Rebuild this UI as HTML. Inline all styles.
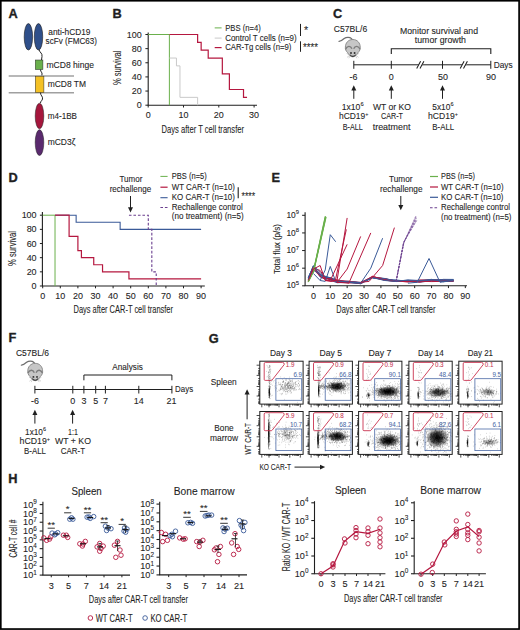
<!DOCTYPE html>
<html><head><meta charset="utf-8"><style>
html,body{margin:0;padding:0;background:#fff;}
body{width:520px;height:630px;overflow:hidden;position:relative;}
svg{position:absolute;left:0;top:0;}
text{font-family:"Liberation Sans",sans-serif;}
</style></head><body>
<svg width="520" height="630" viewBox="0 0 520 630">
<rect x="0" y="0" width="520" height="630" fill="#fff"/>
<g fill="#1f1f1f">
<text x="8.60" y="17.70" font-size="12.77" font-weight="bold" stroke="#1f1f1f" stroke-width="0.35">A</text>
<ellipse cx="28.4" cy="36.8" rx="4.2" ry="13.2" fill="#2f4f8a" stroke="#1c1c1c" stroke-width=".6"/>
<ellipse cx="38.5" cy="36.8" rx="4.2" ry="13.2" fill="#2f4f8a" stroke="#1c1c1c" stroke-width=".6"/>
<path d="M39 49.8 C40 53 42.5 53 42 56.5 L41.5 60" stroke="#222" stroke-width="1.0" fill="none" />
<rect x="35.3" y="60" width="7.6" height="9.6" fill="#6ab04c" stroke="#2a2a2a" stroke-width=".5"/>
<path d="M40.5 69.6 C40.5 72 42.5 72.5 42 74 L41.8 76.2" stroke="#222" stroke-width="1.0" fill="none" />
<line x1="8.70" y1="75.90" x2="74.00" y2="75.90" stroke="#a0a0a0" stroke-width="1.5" />
<line x1="8.70" y1="92.70" x2="74.00" y2="92.70" stroke="#a0a0a0" stroke-width="1.5" />
<rect x="35.3" y="76.2" width="8.6" height="16.4" fill="#f4c125" stroke="#2a2a2a" stroke-width=".5"/>
<path d="M40.5 92.7 C40.5 96 43 96 42.5 99 C42 101 40.5 101 40.5 103" stroke="#222" stroke-width="1.0" fill="none" />
<ellipse cx="39.5" cy="116" rx="4.3" ry="12.8" fill="#a5163c" stroke="#1c1c1c" stroke-width=".5"/>
<ellipse cx="39.5" cy="142.6" rx="4.3" ry="12.9" fill="#5a2a6e" stroke="#1c1c1c" stroke-width=".5"/>
<text x="48.30" y="34.80" font-size="8.62" textLength="42.20" lengthAdjust="spacingAndGlyphs" stroke="#1f1f1f" stroke-width="0.1" >anti-hCD19</text>
<text x="45.60" y="43.80" font-size="8.62" textLength="51.40" lengthAdjust="spacingAndGlyphs" stroke="#1f1f1f" stroke-width="0.1" >scFv (FMC63)</text>
<text x="46.50" y="68.00" font-size="8.62" textLength="47.50" lengthAdjust="spacingAndGlyphs" stroke="#1f1f1f" stroke-width="0.1" >mCD8 hinge</text>
<text x="47.70" y="87.00" font-size="8.62" textLength="38.30" lengthAdjust="spacingAndGlyphs" stroke="#1f1f1f" stroke-width="0.1" >mCD8 TM</text>
<text x="47.70" y="118.50" font-size="8.62" textLength="29.30" lengthAdjust="spacingAndGlyphs" stroke="#1f1f1f" stroke-width="0.1" >m4-1BB</text>
<text x="47.70" y="145.00" font-size="8.62" textLength="27.70" lengthAdjust="spacingAndGlyphs" stroke="#1f1f1f" stroke-width="0.1" >mCD3ζ</text>
<text x="112.50" y="17.90" font-size="12.77" font-weight="bold" stroke="#1f1f1f" stroke-width="0.35">B</text>
<line x1="148.20" y1="32.50" x2="148.20" y2="105.20" stroke="#1f1f1f" stroke-width="1.1" />
<line x1="147.70" y1="105.20" x2="257.00" y2="105.20" stroke="#1f1f1f" stroke-width="1.1" />
<line x1="145.40" y1="105.20" x2="148.20" y2="105.20" stroke="#1f1f1f" stroke-width="1" />
<text x="141.80" y="108.20" font-size="8.96" text-anchor="end" stroke="#1f1f1f" stroke-width="0.1" >0</text>
<line x1="145.40" y1="91.06" x2="148.20" y2="91.06" stroke="#1f1f1f" stroke-width="1" />
<text x="141.80" y="94.06" font-size="8.96" text-anchor="end" stroke="#1f1f1f" stroke-width="0.1" >20</text>
<line x1="145.40" y1="76.92" x2="148.20" y2="76.92" stroke="#1f1f1f" stroke-width="1" />
<text x="141.80" y="79.92" font-size="8.96" text-anchor="end" stroke="#1f1f1f" stroke-width="0.1" >40</text>
<line x1="145.40" y1="62.78" x2="148.20" y2="62.78" stroke="#1f1f1f" stroke-width="1" />
<text x="141.80" y="65.78" font-size="8.96" text-anchor="end" stroke="#1f1f1f" stroke-width="0.1" >60</text>
<line x1="145.40" y1="48.64" x2="148.20" y2="48.64" stroke="#1f1f1f" stroke-width="1" />
<text x="141.80" y="51.64" font-size="8.96" text-anchor="end" stroke="#1f1f1f" stroke-width="0.1" >80</text>
<line x1="145.40" y1="34.50" x2="148.20" y2="34.50" stroke="#1f1f1f" stroke-width="1" />
<text x="141.80" y="37.50" font-size="8.96" text-anchor="end" stroke="#1f1f1f" stroke-width="0.1" >100</text>
<line x1="148.20" y1="105.20" x2="148.20" y2="107.50" stroke="#1f1f1f" stroke-width="1" />
<text x="148.20" y="118.20" font-size="8.96" text-anchor="middle" stroke="#1f1f1f" stroke-width="0.1" >0</text>
<line x1="183.50" y1="105.20" x2="183.50" y2="107.50" stroke="#1f1f1f" stroke-width="1" />
<text x="183.50" y="118.20" font-size="8.96" text-anchor="middle" stroke="#1f1f1f" stroke-width="0.1" >10</text>
<line x1="218.80" y1="105.20" x2="218.80" y2="107.50" stroke="#1f1f1f" stroke-width="1" />
<text x="218.80" y="118.20" font-size="8.96" text-anchor="middle" stroke="#1f1f1f" stroke-width="0.1" >20</text>
<line x1="254.10" y1="105.20" x2="254.10" y2="107.50" stroke="#1f1f1f" stroke-width="1" />
<text x="254.10" y="118.20" font-size="8.96" text-anchor="middle" stroke="#1f1f1f" stroke-width="0.1" >30</text>
<text x="161.60" y="133.00" font-size="10.75" textLength="82.40" lengthAdjust="spacingAndGlyphs" stroke="#1f1f1f" stroke-width="0.1" >Days after T cell transfer</text>
<text x="121.30" y="67.80" font-size="10.08" text-anchor="middle" textLength="34.50" lengthAdjust="spacingAndGlyphs" transform="rotate(-90 121.30 67.80)" stroke="#1f1f1f" stroke-width="0.1" >% survival</text>
<path d="M148.20 34.50 L169.38 34.50 L169.38 105.20" stroke="#6ab04c" stroke-width="1" fill="none" />
<path d="M169.38 58.04 L176.44 58.04 L176.44 65.89 L179.97 65.89 L179.97 97.35 L197.62 97.35 L197.62 105.20" stroke="#c9c9c9" stroke-width="1" fill="none" />
<path d="M169.38 34.50 L197.62 34.50 L197.62 42.35 L201.15 42.35 L201.15 50.20 L208.21 50.20 L208.21 58.04 L222.33 58.04 L222.33 73.81 L229.39 73.81 L229.39 89.50 L243.51 89.50 L243.51 97.35 L247.04 97.35" stroke="#b5173f" stroke-width="1.2" fill="none" />
<line x1="214.70" y1="27.90" x2="221.60" y2="27.90" stroke="#6ab04c" stroke-width="1" />
<line x1="214.70" y1="38.10" x2="221.60" y2="38.10" stroke="#c9c9c9" stroke-width="1" />
<line x1="214.70" y1="47.60" x2="221.60" y2="47.60" stroke="#b5173f" stroke-width="1.2" />
<text x="225.20" y="30.70" font-size="8.62" textLength="35.60" lengthAdjust="spacingAndGlyphs" stroke="#1f1f1f" stroke-width="0.1" >PBS (n=4)</text>
<text x="225.20" y="40.60" font-size="8.62" textLength="71.50" lengthAdjust="spacingAndGlyphs" stroke="#1f1f1f" stroke-width="0.1" >Control T cells (n=9)</text>
<text x="225.20" y="49.90" font-size="8.62" textLength="66.20" lengthAdjust="spacingAndGlyphs" stroke="#1f1f1f" stroke-width="0.1" >CAR-Tg cells (n=9)</text>
<line x1="300.50" y1="23.90" x2="300.50" y2="36.00" stroke="#1f1f1f" stroke-width="1" />
<line x1="300.50" y1="41.30" x2="300.50" y2="51.80" stroke="#1f1f1f" stroke-width="1" />
<text x="304.00" y="34.20" font-size="10.64" stroke="#1f1f1f" stroke-width="0.1" >*</text>
<text x="303.00" y="51.40" font-size="10.64" textLength="15.00" lengthAdjust="spacingAndGlyphs" stroke="#1f1f1f" stroke-width="0.1" >****</text>
<text x="333.00" y="18.30" font-size="12.77" font-weight="bold" stroke="#1f1f1f" stroke-width="0.35">C</text>
<text x="333.80" y="31.80" font-size="8.96" textLength="33.40" lengthAdjust="spacingAndGlyphs" stroke="#1f1f1f" stroke-width="0.1" >C57BL/6</text>
<g transform="translate(352.8 48.25)">
<path d="M-13.8 -6.95 C-12 -6.9 -10 -8.5 -8.6 -9.75 C-6.5 -11.3 -3 -11.3 -1.6 -9.9 C-0.9 -9.2 -0.5 -8.5 -0.3 -7.85" stroke="#6e6e6e" stroke-width="1.3" fill="none" stroke-linecap="round"/>
<path d="M0 -8.75 C4.6 -8.75 7.4 -5.2 7.4 -1.2 C7.6 1 7 2.6 5.2 4.4 C3.8 6.6 2.2 8.6 0 8.6 C-2.2 8.6 -3.8 6.6 -5.2 4.4 C-7 2.6 -7.6 1 -7.4 -1.2 C-7.4 -5.2 -4.6 -8.75 0 -8.75Z" fill="#c6c6c6" stroke="#858585" stroke-width=".9"/>
<path d="M-7.2 1 C-5.8 -2.6 -2.2 -2.8 -0.9 0.6 M7.2 1 C5.8 -2.6 2.2 -2.8 0.9 0.6" stroke="#7c7c7c" stroke-width="1.4" fill="none"/>
<circle cx="-1.8" cy="4.8" r=".95" fill="#2e2e2e"/><circle cx="1.8" cy="4.8" r=".95" fill="#2e2e2e"/>
<path d="M-3 6.5 C-1.6 8.6 1.6 8.6 3 6.5" stroke="#333" stroke-width="1.1" fill="none"/>
<path d="M-3.4 6.4 L-6.2 5.2 M-3.2 7 L-5.8 9.2 M-2.6 7.4 L-4 10 M3.4 6.4 L6.2 5.2 M3.2 7 L5.8 9.2 M2.6 7.4 L4 10" stroke="#b0b0b0" stroke-width=".55" fill="none"/>
</g>
<text x="400.00" y="33.70" font-size="8.96" textLength="78.00" lengthAdjust="spacingAndGlyphs" stroke="#1f1f1f" stroke-width="0.1" >Monitor survival and</text>
<text x="414.80" y="43.30" font-size="8.96" textLength="51.20" lengthAdjust="spacingAndGlyphs" stroke="#1f1f1f" stroke-width="0.1" >tumor growth</text>
<path d="M391.3 54.1 V48.8 H490.8 V54.1" stroke="#1f1f1f" stroke-width="1.1" fill="none" />
<line x1="353.80" y1="64.80" x2="490.80" y2="64.80" stroke="#1f1f1f" stroke-width="1" />
<line x1="353.80" y1="60.80" x2="353.80" y2="68.80" stroke="#1f1f1f" stroke-width="1" />
<line x1="391.30" y1="60.80" x2="391.30" y2="68.80" stroke="#1f1f1f" stroke-width="1" />
<line x1="442.50" y1="60.80" x2="442.50" y2="68.80" stroke="#1f1f1f" stroke-width="1" />
<line x1="490.80" y1="60.80" x2="490.80" y2="68.80" stroke="#1f1f1f" stroke-width="1" />
<path d="M416.70 68.5 L423.90 61.2" stroke="#fff" stroke-width="3" fill="none"/>
<path d="M416.70 68.5 L420.60 61.3 M420.00 68.5 L423.90 61.3" stroke="#1f1f1f" stroke-width="1.05" fill="none" />
<path d="M460.20 68.5 L467.40 61.2" stroke="#fff" stroke-width="3" fill="none"/>
<path d="M460.20 68.5 L464.10 61.3 M463.50 68.5 L467.40 61.3" stroke="#1f1f1f" stroke-width="1.05" fill="none" />
<text x="493.70" y="67.50" font-size="8.96" textLength="19.00" lengthAdjust="spacingAndGlyphs" stroke="#1f1f1f" stroke-width="0.1" >Days</text>
<text x="353.50" y="79.50" font-size="8.96" text-anchor="middle" stroke="#1f1f1f" stroke-width="0.1" >-6</text>
<text x="391.30" y="79.50" font-size="8.96" text-anchor="middle" stroke="#1f1f1f" stroke-width="0.1" >0</text>
<text x="443.00" y="79.50" font-size="8.96" text-anchor="middle" stroke="#1f1f1f" stroke-width="0.1" >50</text>
<text x="491.00" y="79.50" font-size="8.96" text-anchor="middle" stroke="#1f1f1f" stroke-width="0.1" >90</text>
<line x1="353.80" y1="98.80" x2="353.80" y2="88.32" stroke="#1f1f1f" stroke-width="1.0" />
<path d="M351.30 90.40 L353.80 85.20 L356.30 90.40 Z" stroke="none" stroke-width="0" fill="#1f1f1f" />
<line x1="391.30" y1="98.80" x2="391.30" y2="88.32" stroke="#1f1f1f" stroke-width="1.0" />
<path d="M388.80 90.40 L391.30 85.20 L393.80 90.40 Z" stroke="none" stroke-width="0" fill="#1f1f1f" />
<line x1="442.50" y1="98.80" x2="442.50" y2="88.32" stroke="#1f1f1f" stroke-width="1.0" />
<path d="M440.00 90.40 L442.50 85.20 L445.00 90.40 Z" stroke="none" stroke-width="0" fill="#1f1f1f" />
<text stroke="#1f1f1f" stroke-width="0.1" x="341.70" y="109.60" font-size="8.96" textLength="21.90" lengthAdjust="spacingAndGlyphs">1x10<tspan font-size="5.91" dy="-3.4">6</tspan></text>
<text stroke="#1f1f1f" stroke-width="0.1" x="339" y="119.4" font-size="9" textLength="29.4" lengthAdjust="spacingAndGlyphs">hCD19<tspan font-size="5.8" dy="-3.4">+</tspan></text>
<text x="342.80" y="129.60" font-size="8.96" textLength="20.10" lengthAdjust="spacingAndGlyphs" stroke="#1f1f1f" stroke-width="0.1" >B-ALL</text>
<text x="373.00" y="109.60" font-size="8.96" textLength="38.00" lengthAdjust="spacingAndGlyphs" stroke="#1f1f1f" stroke-width="0.1" >WT or KO</text>
<text x="381.00" y="119.40" font-size="8.96" textLength="22.00" lengthAdjust="spacingAndGlyphs" stroke="#1f1f1f" stroke-width="0.1" >CAR-T</text>
<text x="372.70" y="129.60" font-size="8.96" textLength="37.70" lengthAdjust="spacingAndGlyphs" stroke="#1f1f1f" stroke-width="0.1" >treatment</text>
<text stroke="#1f1f1f" stroke-width="0.1" x="432.30" y="109.60" font-size="8.96" textLength="21.20" lengthAdjust="spacingAndGlyphs">5x10<tspan font-size="5.91" dy="-3.4">6</tspan></text>
<text stroke="#1f1f1f" stroke-width="0.1" x="428" y="119.4" font-size="9" textLength="29.9" lengthAdjust="spacingAndGlyphs">hCD19<tspan font-size="5.8" dy="-3.4">+</tspan></text>
<text x="432.30" y="129.60" font-size="8.96" textLength="21.90" lengthAdjust="spacingAndGlyphs" stroke="#1f1f1f" stroke-width="0.1" >B-ALL</text>
<text x="8.50" y="181.60" font-size="12.77" font-weight="bold" stroke="#1f1f1f" stroke-width="0.35">D</text>
<line x1="42.40" y1="212.10" x2="42.40" y2="286.00" stroke="#1f1f1f" stroke-width="1.1" />
<line x1="42.20" y1="286.00" x2="204.80" y2="286.00" stroke="#1f1f1f" stroke-width="1.1" />
<line x1="39.90" y1="286.00" x2="42.70" y2="286.00" stroke="#1f1f1f" stroke-width="1" />
<text x="36.60" y="289.00" font-size="8.96" text-anchor="end" stroke="#1f1f1f" stroke-width="0.1" >0</text>
<line x1="39.90" y1="271.84" x2="42.70" y2="271.84" stroke="#1f1f1f" stroke-width="1" />
<text x="36.60" y="274.84" font-size="8.96" text-anchor="end" stroke="#1f1f1f" stroke-width="0.1" >20</text>
<line x1="39.90" y1="257.68" x2="42.70" y2="257.68" stroke="#1f1f1f" stroke-width="1" />
<text x="36.60" y="260.68" font-size="8.96" text-anchor="end" stroke="#1f1f1f" stroke-width="0.1" >40</text>
<line x1="39.90" y1="243.52" x2="42.70" y2="243.52" stroke="#1f1f1f" stroke-width="1" />
<text x="36.60" y="246.52" font-size="8.96" text-anchor="end" stroke="#1f1f1f" stroke-width="0.1" >60</text>
<line x1="39.90" y1="229.36" x2="42.70" y2="229.36" stroke="#1f1f1f" stroke-width="1" />
<text x="36.60" y="232.36" font-size="8.96" text-anchor="end" stroke="#1f1f1f" stroke-width="0.1" >80</text>
<line x1="39.90" y1="215.20" x2="42.70" y2="215.20" stroke="#1f1f1f" stroke-width="1" />
<text x="36.60" y="218.20" font-size="8.96" text-anchor="end" stroke="#1f1f1f" stroke-width="0.1" >100</text>
<line x1="42.70" y1="286.00" x2="42.70" y2="288.30" stroke="#1f1f1f" stroke-width="1" />
<text x="42.70" y="299.40" font-size="8.96" text-anchor="middle" stroke="#1f1f1f" stroke-width="0.1" >0</text>
<line x1="60.30" y1="286.00" x2="60.30" y2="288.30" stroke="#1f1f1f" stroke-width="1" />
<text x="60.30" y="299.40" font-size="8.96" text-anchor="middle" stroke="#1f1f1f" stroke-width="0.1" >10</text>
<line x1="77.90" y1="286.00" x2="77.90" y2="288.30" stroke="#1f1f1f" stroke-width="1" />
<text x="77.90" y="299.40" font-size="8.96" text-anchor="middle" stroke="#1f1f1f" stroke-width="0.1" >20</text>
<line x1="95.50" y1="286.00" x2="95.50" y2="288.30" stroke="#1f1f1f" stroke-width="1" />
<text x="95.50" y="299.40" font-size="8.96" text-anchor="middle" stroke="#1f1f1f" stroke-width="0.1" >30</text>
<line x1="113.10" y1="286.00" x2="113.10" y2="288.30" stroke="#1f1f1f" stroke-width="1" />
<text x="113.10" y="299.40" font-size="8.96" text-anchor="middle" stroke="#1f1f1f" stroke-width="0.1" >40</text>
<line x1="130.70" y1="286.00" x2="130.70" y2="288.30" stroke="#1f1f1f" stroke-width="1" />
<text x="130.70" y="299.40" font-size="8.96" text-anchor="middle" stroke="#1f1f1f" stroke-width="0.1" >50</text>
<line x1="148.30" y1="286.00" x2="148.30" y2="288.30" stroke="#1f1f1f" stroke-width="1" />
<text x="148.30" y="299.40" font-size="8.96" text-anchor="middle" stroke="#1f1f1f" stroke-width="0.1" >60</text>
<line x1="165.90" y1="286.00" x2="165.90" y2="288.30" stroke="#1f1f1f" stroke-width="1" />
<text x="165.90" y="299.40" font-size="8.96" text-anchor="middle" stroke="#1f1f1f" stroke-width="0.1" >70</text>
<line x1="183.50" y1="286.00" x2="183.50" y2="288.30" stroke="#1f1f1f" stroke-width="1" />
<text x="183.50" y="299.40" font-size="8.96" text-anchor="middle" stroke="#1f1f1f" stroke-width="0.1" >80</text>
<line x1="201.10" y1="286.00" x2="201.10" y2="288.30" stroke="#1f1f1f" stroke-width="1" />
<text x="201.10" y="299.40" font-size="8.96" text-anchor="middle" stroke="#1f1f1f" stroke-width="0.1" >90</text>
<text x="73.50" y="312.70" font-size="10.75" textLength="99.50" lengthAdjust="spacingAndGlyphs" stroke="#1f1f1f" stroke-width="0.1" >Days after CAR-T cell transfer</text>
<text x="15.60" y="248.50" font-size="10.08" text-anchor="middle" textLength="35.00" lengthAdjust="spacingAndGlyphs" transform="rotate(-90 15.60 248.50)" stroke="#1f1f1f" stroke-width="0.1" >% survival</text>
<path d="M42.70 215.20 L55.02 215.20 L55.02 286.00" stroke="#6ab04c" stroke-width="1" fill="none" />
<path d="M55.02 215.20 L76.14 215.20 L76.14 222.28 L120.14 222.28 L120.14 229.36 L201.10 229.36" stroke="#3a5a98" stroke-width="1.1" fill="none" />
<path d="M55.02 215.20 L69.10 215.20 L69.10 236.44 L77.90 236.44 L77.90 250.60 L81.42 250.60 L81.42 257.68 L93.74 257.68 L93.74 264.76 L102.54 264.76 L102.54 271.84 L128.94 271.84 L128.94 278.92 L201.10 278.92" stroke="#b5173f" stroke-width="1.2" fill="none" />
<path d="M128.94 215.20 L148.30 215.20 L148.30 229.36 L151.82 229.36 L151.82 271.84 L156.22 271.84 L156.22 286.00" stroke="#6b3f8f" stroke-width="1.1" fill="none" stroke-dasharray="2.6 1.9"/>
<text x="119.50" y="182.00" font-size="8.51" textLength="22.90" lengthAdjust="spacingAndGlyphs" stroke="#1f1f1f" stroke-width="0.1" >Tumor</text>
<text x="109.70" y="191.80" font-size="8.51" textLength="41.50" lengthAdjust="spacingAndGlyphs" stroke="#1f1f1f" stroke-width="0.1" >rechallenge</text>
<line x1="130.50" y1="196.00" x2="130.50" y2="209.28" stroke="#1f1f1f" stroke-width="1.0" />
<path d="M128.00 207.20 L130.50 212.40 L133.00 207.20 Z" stroke="none" stroke-width="0" fill="#1f1f1f" />
<line x1="160.40" y1="176.40" x2="167.60" y2="176.40" stroke="#6ab04c" stroke-width="1" />
<line x1="160.40" y1="187.20" x2="167.60" y2="187.20" stroke="#b5173f" stroke-width="1.2" />
<line x1="160.40" y1="197.70" x2="167.60" y2="197.70" stroke="#3a5a98" stroke-width="1.1" />
<line x1="160.40" y1="207.50" x2="167.60" y2="207.50" stroke="#6b3f8f" stroke-width="1.1" stroke-dasharray="2.6 1.9"/>
<text x="171.80" y="178.90" font-size="8.51" textLength="35.00" lengthAdjust="spacingAndGlyphs" stroke="#1f1f1f" stroke-width="0.1" >PBS (n=5)</text>
<text x="171.80" y="189.70" font-size="8.51" textLength="63.10" lengthAdjust="spacingAndGlyphs" stroke="#1f1f1f" stroke-width="0.1" >WT CAR-T (n=10)</text>
<text x="171.80" y="200.20" font-size="8.51" textLength="63.10" lengthAdjust="spacingAndGlyphs" stroke="#1f1f1f" stroke-width="0.1" >KO CAR-T (n=10)</text>
<text x="171.80" y="210.30" font-size="8.51" textLength="71.00" lengthAdjust="spacingAndGlyphs" stroke="#1f1f1f" stroke-width="0.1" >Rechallenge control</text>
<text x="171.80" y="219.30" font-size="8.51" textLength="71.90" lengthAdjust="spacingAndGlyphs" stroke="#1f1f1f" stroke-width="0.1" >(no treatment) (n=5)</text>
<line x1="238.20" y1="187.20" x2="238.20" y2="198.30" stroke="#1f1f1f" stroke-width="1.1" />
<text x="241.50" y="199.80" font-size="10.64" textLength="13.70" lengthAdjust="spacingAndGlyphs" stroke="#1f1f1f" stroke-width="0.1" >****</text>
<text x="271.50" y="181.60" font-size="12.77" font-weight="bold" stroke="#1f1f1f" stroke-width="0.35">E</text>
<line x1="305.10" y1="212.30" x2="305.10" y2="285.80" stroke="#1f1f1f" stroke-width="1.1" />
<line x1="304.60" y1="285.80" x2="467.00" y2="285.80" stroke="#1f1f1f" stroke-width="1.1" />
<line x1="302.10" y1="285.80" x2="305.10" y2="285.80" stroke="#1f1f1f" stroke-width="1" />
<text stroke="#1f1f1f" stroke-width="0.1" x="299" y="288.40" font-size="8.9" text-anchor="end" textLength="12.6" lengthAdjust="spacingAndGlyphs">10<tspan font-size="6.2" dy="-3.5">5</tspan></text>
<line x1="302.10" y1="268.18" x2="305.10" y2="268.18" stroke="#1f1f1f" stroke-width="1" />
<text stroke="#1f1f1f" stroke-width="0.1" x="299" y="270.78" font-size="8.9" text-anchor="end" textLength="12.6" lengthAdjust="spacingAndGlyphs">10<tspan font-size="6.2" dy="-3.5">6</tspan></text>
<line x1="302.10" y1="250.55" x2="305.10" y2="250.55" stroke="#1f1f1f" stroke-width="1" />
<text stroke="#1f1f1f" stroke-width="0.1" x="299" y="253.15" font-size="8.9" text-anchor="end" textLength="12.6" lengthAdjust="spacingAndGlyphs">10<tspan font-size="6.2" dy="-3.5">7</tspan></text>
<line x1="302.10" y1="232.93" x2="305.10" y2="232.93" stroke="#1f1f1f" stroke-width="1" />
<text stroke="#1f1f1f" stroke-width="0.1" x="299" y="235.53" font-size="8.9" text-anchor="end" textLength="12.6" lengthAdjust="spacingAndGlyphs">10<tspan font-size="6.2" dy="-3.5">8</tspan></text>
<line x1="302.10" y1="215.30" x2="305.10" y2="215.30" stroke="#1f1f1f" stroke-width="1" />
<text stroke="#1f1f1f" stroke-width="0.1" x="299" y="217.90" font-size="8.9" text-anchor="end" textLength="12.6" lengthAdjust="spacingAndGlyphs">10<tspan font-size="6.2" dy="-3.5">9</tspan></text>
<line x1="313.40" y1="285.80" x2="313.40" y2="288.10" stroke="#1f1f1f" stroke-width="1" />
<text x="313.40" y="298.80" font-size="8.96" text-anchor="middle" stroke="#1f1f1f" stroke-width="0.1" >0</text>
<line x1="330.28" y1="285.80" x2="330.28" y2="288.10" stroke="#1f1f1f" stroke-width="1" />
<text x="330.28" y="298.80" font-size="8.96" text-anchor="middle" stroke="#1f1f1f" stroke-width="0.1" >10</text>
<line x1="347.16" y1="285.80" x2="347.16" y2="288.10" stroke="#1f1f1f" stroke-width="1" />
<text x="347.16" y="298.80" font-size="8.96" text-anchor="middle" stroke="#1f1f1f" stroke-width="0.1" >20</text>
<line x1="364.04" y1="285.80" x2="364.04" y2="288.10" stroke="#1f1f1f" stroke-width="1" />
<text x="364.04" y="298.80" font-size="8.96" text-anchor="middle" stroke="#1f1f1f" stroke-width="0.1" >30</text>
<line x1="380.92" y1="285.80" x2="380.92" y2="288.10" stroke="#1f1f1f" stroke-width="1" />
<text x="380.92" y="298.80" font-size="8.96" text-anchor="middle" stroke="#1f1f1f" stroke-width="0.1" >40</text>
<line x1="397.80" y1="285.80" x2="397.80" y2="288.10" stroke="#1f1f1f" stroke-width="1" />
<text x="397.80" y="298.80" font-size="8.96" text-anchor="middle" stroke="#1f1f1f" stroke-width="0.1" >50</text>
<line x1="414.68" y1="285.80" x2="414.68" y2="288.10" stroke="#1f1f1f" stroke-width="1" />
<text x="414.68" y="298.80" font-size="8.96" text-anchor="middle" stroke="#1f1f1f" stroke-width="0.1" >60</text>
<line x1="431.56" y1="285.80" x2="431.56" y2="288.10" stroke="#1f1f1f" stroke-width="1" />
<text x="431.56" y="298.80" font-size="8.96" text-anchor="middle" stroke="#1f1f1f" stroke-width="0.1" >70</text>
<line x1="448.44" y1="285.80" x2="448.44" y2="288.10" stroke="#1f1f1f" stroke-width="1" />
<text x="448.44" y="298.80" font-size="8.96" text-anchor="middle" stroke="#1f1f1f" stroke-width="0.1" >80</text>
<line x1="465.32" y1="285.80" x2="465.32" y2="288.10" stroke="#1f1f1f" stroke-width="1" />
<text x="465.32" y="298.80" font-size="8.96" text-anchor="middle" stroke="#1f1f1f" stroke-width="0.1" >90</text>
<text x="336.30" y="312.70" font-size="10.75" textLength="99.10" lengthAdjust="spacingAndGlyphs" stroke="#1f1f1f" stroke-width="0.1" >Days after CAR-T cell transfer</text>
<text x="279.80" y="249.00" font-size="9.41" text-anchor="middle" textLength="50.00" lengthAdjust="spacingAndGlyphs" transform="rotate(-90 279.80 249.00)" stroke="#1f1f1f" stroke-width="0.1" >Total flux (p/s)</text>
<text x="389.00" y="182.20" font-size="8.51" textLength="23.50" lengthAdjust="spacingAndGlyphs" stroke="#1f1f1f" stroke-width="0.1" >Tumor</text>
<text x="380.00" y="192.00" font-size="8.51" textLength="42.50" lengthAdjust="spacingAndGlyphs" stroke="#1f1f1f" stroke-width="0.1" >rechallenge</text>
<line x1="400.80" y1="196.00" x2="400.80" y2="207.08" stroke="#1f1f1f" stroke-width="1.0" />
<path d="M398.30 205.00 L400.80 210.20 L403.30 205.00 Z" stroke="none" stroke-width="0" fill="#1f1f1f" />
<line x1="430.00" y1="176.50" x2="438.00" y2="176.50" stroke="#6ab04c" stroke-width="1.2" />
<line x1="430.00" y1="187.00" x2="438.00" y2="187.00" stroke="#b5173f" stroke-width="1.2" />
<line x1="430.00" y1="197.30" x2="438.00" y2="197.30" stroke="#3a5a98" stroke-width="1.2" />
<line x1="430.00" y1="207.80" x2="438.00" y2="207.80" stroke="#6b3f8f" stroke-width="1.1" stroke-dasharray="2.6 1.9"/>
<text x="441.00" y="179.00" font-size="8.51" textLength="34.00" lengthAdjust="spacingAndGlyphs" stroke="#1f1f1f" stroke-width="0.1" >PBS (n=5)</text>
<text x="441.00" y="189.60" font-size="8.51" textLength="62.50" lengthAdjust="spacingAndGlyphs" stroke="#1f1f1f" stroke-width="0.1" >WT CAR-T (n=10)</text>
<text x="441.00" y="199.90" font-size="8.51" textLength="62.50" lengthAdjust="spacingAndGlyphs" stroke="#1f1f1f" stroke-width="0.1" >KO CAR-T (n=10)</text>
<text x="441.00" y="210.30" font-size="8.51" textLength="69.00" lengthAdjust="spacingAndGlyphs" stroke="#1f1f1f" stroke-width="0.1" >Rechallenge control</text>
<text x="441.00" y="219.60" font-size="8.51" textLength="70.50" lengthAdjust="spacingAndGlyphs" stroke="#1f1f1f" stroke-width="0.1" >(no treatment) (n=5)</text>
<path d="M308.34 279.83 L313.40 267.86 L320.15 270.47 L325.22 277.99 L330.28 279.08 L337.03 281.15 L348.85 282.94 L360.66 282.78 L372.48 276.76 L384.30 278.84 L396.11 281.37 L407.93 281.35 L419.74 282.05 L431.56 279.75 L443.38 280.04 L453.50 281.45" stroke="#b5173f" stroke-width="1.0" fill="none" />
<path d="M308.34 277.59 L313.40 265.72 L320.15 272.38 L325.22 277.46 L330.28 280.07 L337.03 282.76 L348.85 282.21 L360.66 283.74 L372.48 277.53 L384.30 280.00 L396.11 281.51 L407.93 280.95 L419.74 281.19 L431.56 279.67 L443.38 280.47 L453.50 279.76" stroke="#3a5a98" stroke-width="1.0" fill="none" />
<path d="M308.34 279.63 L313.40 267.32 L320.15 273.76 L325.22 278.65 L330.28 277.70 L337.03 280.00 L348.85 281.56 L360.66 282.36 L372.48 277.31 L384.30 280.03 L396.11 280.96 L407.93 281.93 L419.74 280.38 L431.56 280.76 L443.38 279.66 L453.50 280.48" stroke="#b5173f" stroke-width="1.0" fill="none" />
<path d="M308.34 277.69 L313.40 266.34 L320.15 276.98 L325.22 278.89 L330.28 277.95 L337.03 281.48 L348.85 281.26 L360.66 283.02 L372.48 277.74 L384.30 279.18 L396.11 279.92 L407.93 281.43 L419.74 282.06 L431.56 280.93 L443.38 279.37 L453.50 279.43" stroke="#3a5a98" stroke-width="1.0" fill="none" />
<path d="M308.34 281.25 L313.40 269.52 L320.15 276.28 L325.22 279.42 L330.28 278.26 L337.03 282.30 L348.85 282.15 L360.66 282.91 L372.48 277.53 L384.30 278.96 L396.11 281.29 L407.93 280.51 L419.74 281.99 L431.56 280.71 L443.38 281.22 L453.50 280.81" stroke="#b5173f" stroke-width="1.0" fill="none" />
<path d="M308.34 277.64 L313.40 266.57 L320.15 274.84 L325.22 276.51 L330.28 279.92 L337.03 281.69 L348.85 281.53 L360.66 282.50 L372.48 277.69 L384.30 278.42 L396.11 281.12 L407.93 281.46 L419.74 280.37 L431.56 280.93 L443.38 281.02 L453.50 281.36" stroke="#3a5a98" stroke-width="1.0" fill="none" />
<path d="M308.34 281.37 L313.40 267.74 L320.15 275.27 L325.22 277.51 L330.28 279.46 L337.03 281.53 L348.85 281.30 L360.66 282.84 L372.48 276.86 L384.30 278.68 L396.11 281.18 L407.93 281.72 L419.74 280.03 L431.56 279.73 L443.38 281.13 L453.50 281.03" stroke="#b5173f" stroke-width="1.0" fill="none" />
<path d="M308.34 278.62 L313.40 265.85 L320.15 275.60 L325.22 276.28 L330.28 278.02 L337.03 281.10 L348.85 282.44 L360.66 283.64 L372.48 277.80 L384.30 278.48 L396.11 281.07 L407.93 280.36 L419.74 281.64 L431.56 279.71 L443.38 280.27 L453.50 280.74" stroke="#3a5a98" stroke-width="1.0" fill="none" />
<path d="M308.34 281.00 L313.40 267.01 L320.15 276.50 L325.22 278.83 L330.28 278.94 L337.03 280.40 L348.85 282.03 L360.66 283.27 L372.48 276.25 L384.30 280.08 L396.11 281.53 L407.93 281.43 L419.74 281.18 L431.56 281.60 L443.38 281.31 L453.50 280.53" stroke="#b5173f" stroke-width="1.0" fill="none" />
<path d="M308.34 279.33 L313.40 270.12 L320.15 274.43 L325.22 276.49 L330.28 277.75 L337.03 280.95 L348.85 281.87 L360.66 282.63 L372.48 277.62 L384.30 280.44 L396.11 281.53 L407.93 279.85 L419.74 280.55 L431.56 279.37 L443.38 281.69 L453.50 279.78" stroke="#3a5a98" stroke-width="1.0" fill="none" />
<path d="M308.34 281.43 L313.40 270.82 L325.22 216.18" stroke="#6ab04c" stroke-width="1.0" fill="none" />
<path d="M308.34 280.99 L313.47 271.04 L325.44 216.45" stroke="#6ab04c" stroke-width="1.0" fill="none" />
<path d="M308.34 281.71 L313.53 271.26 L325.66 216.71" stroke="#6ab04c" stroke-width="1.0" fill="none" />
<path d="M308.34 280.51 L313.60 271.48 L325.88 216.97" stroke="#6ab04c" stroke-width="1.0" fill="none" />
<path d="M308.34 282.14 L313.66 271.70 L326.10 217.24" stroke="#6ab04c" stroke-width="1.0" fill="none" />
<path d="M313.40 273.46 L320.15 280.51 L325.22 269.94 L330.28 234.69 L335.68 241.74" stroke="#3a5a98" stroke-width="1" fill="none" />
<path d="M320.15 280.51 L325.22 281.39 L330.28 266.41 L335.34 280.51 L337.03 282.28" stroke="#3a5a98" stroke-width="1" fill="none" />
<path d="M348.85 282.28 L360.66 283.16 L370.79 268.18 L382.61 238.21" stroke="#3a5a98" stroke-width="1" fill="none" />
<path d="M407.93 283.16 L417.21 282.28 L429.03 258.48 L440.00 282.28 L453.50 280.51" stroke="#3a5a98" stroke-width="1" fill="none" />
<path d="M308.34 280.51 L313.40 269.06 L320.15 265.53 L325.22 280.51" stroke="#b5173f" stroke-width="1" fill="none" />
<path d="M325.22 280.51 L330.28 281.39 L337.03 280.51 L347.16 217.94" stroke="#b5173f" stroke-width="1" fill="none" />
<path d="M330.28 281.39 L335.34 280.51 L346.32 229.40" stroke="#b5173f" stroke-width="1" fill="none" />
<path d="M325.22 280.51 L330.28 280.51 L347.16 244.38" stroke="#b5173f" stroke-width="1" fill="none" />
<path d="M337.03 282.28 L347.16 269.06 L360.66 236.45" stroke="#b5173f" stroke-width="1" fill="none" />
<path d="M337.03 282.28 L348.85 283.16 L370.79 232.93" stroke="#b5173f" stroke-width="1" fill="none" />
<path d="M360.66 282.28 L369.10 281.39 L382.61 265.53 L394.42 227.64" stroke="#b5173f" stroke-width="1" fill="none" />
<path d="M396.11 281.39 L403.23 243.90 L416.05 215.50" stroke="#6b3f8f" stroke-width="0.6" fill="none" stroke-dasharray="2.5 0.8"/>
<path d="M396.11 281.39 L403.47 243.26 L416.21 216.78" stroke="#6b3f8f" stroke-width="0.6" fill="none" stroke-dasharray="2.5 0.8"/>
<path d="M396.11 281.39 L403.71 242.62 L416.37 218.06" stroke="#6b3f8f" stroke-width="0.6" fill="none" stroke-dasharray="2.5 0.8"/>
<path d="M396.11 281.39 L403.95 241.98 L416.53 219.34" stroke="#6b3f8f" stroke-width="0.6" fill="none" stroke-dasharray="2.5 0.8"/>
<path d="M396.11 281.39 L404.19 241.34 L416.69 220.62" stroke="#6b3f8f" stroke-width="0.6" fill="none" stroke-dasharray="2.5 0.8"/>
<text x="8.50" y="342.30" font-size="12.77" font-weight="bold" stroke="#1f1f1f" stroke-width="0.35">F</text>
<text x="15.90" y="356.10" font-size="8.96" textLength="33.20" lengthAdjust="spacingAndGlyphs" stroke="#1f1f1f" stroke-width="0.1" >C57BL/6</text>
<g transform="translate(35.2 372.1)">
<path d="M-13.8 -6.95 C-12 -6.9 -10 -8.5 -8.6 -9.75 C-6.5 -11.3 -3 -11.3 -1.6 -9.9 C-0.9 -9.2 -0.5 -8.5 -0.3 -7.85" stroke="#6e6e6e" stroke-width="1.3" fill="none" stroke-linecap="round"/>
<path d="M0 -8.75 C4.6 -8.75 7.4 -5.2 7.4 -1.2 C7.6 1 7 2.6 5.2 4.4 C3.8 6.6 2.2 8.6 0 8.6 C-2.2 8.6 -3.8 6.6 -5.2 4.4 C-7 2.6 -7.6 1 -7.4 -1.2 C-7.4 -5.2 -4.6 -8.75 0 -8.75Z" fill="#c6c6c6" stroke="#858585" stroke-width=".9"/>
<path d="M-7.2 1 C-5.8 -2.6 -2.2 -2.8 -0.9 0.6 M7.2 1 C5.8 -2.6 2.2 -2.8 0.9 0.6" stroke="#7c7c7c" stroke-width="1.4" fill="none"/>
<circle cx="-1.8" cy="4.8" r=".95" fill="#2e2e2e"/><circle cx="1.8" cy="4.8" r=".95" fill="#2e2e2e"/>
<path d="M-3 6.5 C-1.6 8.6 1.6 8.6 3 6.5" stroke="#333" stroke-width="1.1" fill="none"/>
<path d="M-3.4 6.4 L-6.2 5.2 M-3.2 7 L-5.8 9.2 M-2.6 7.4 L-4 10 M3.4 6.4 L6.2 5.2 M3.2 7 L5.8 9.2 M2.6 7.4 L4 10" stroke="#b0b0b0" stroke-width=".55" fill="none"/>
</g>
<text x="112.30" y="369.70" font-size="8.96" textLength="30.50" lengthAdjust="spacingAndGlyphs" stroke="#1f1f1f" stroke-width="0.1" >Analysis</text>
<path d="M83.9 380.3 V375 H171.9 V380.3" stroke="#1f1f1f" stroke-width="1" fill="none" />
<line x1="34.90" y1="389.50" x2="171.90" y2="389.50" stroke="#1f1f1f" stroke-width="1" />
<line x1="34.90" y1="385.80" x2="34.90" y2="393.50" stroke="#1f1f1f" stroke-width="1" />
<text x="34.90" y="403.80" font-size="8.96" text-anchor="middle" stroke="#1f1f1f" stroke-width="0.1" >-6</text>
<line x1="72.80" y1="385.80" x2="72.80" y2="393.50" stroke="#1f1f1f" stroke-width="1" />
<text x="72.80" y="403.80" font-size="8.96" text-anchor="middle" stroke="#1f1f1f" stroke-width="0.1" >0</text>
<line x1="83.90" y1="385.80" x2="83.90" y2="393.50" stroke="#1f1f1f" stroke-width="1" />
<text x="83.90" y="403.80" font-size="8.96" text-anchor="middle" stroke="#1f1f1f" stroke-width="0.1" >3</text>
<line x1="95.70" y1="385.80" x2="95.70" y2="393.50" stroke="#1f1f1f" stroke-width="1" />
<text x="95.70" y="403.80" font-size="8.96" text-anchor="middle" stroke="#1f1f1f" stroke-width="0.1" >5</text>
<line x1="105.40" y1="385.80" x2="105.40" y2="393.50" stroke="#1f1f1f" stroke-width="1" />
<text x="105.40" y="403.80" font-size="8.96" text-anchor="middle" stroke="#1f1f1f" stroke-width="0.1" >7</text>
<line x1="138.80" y1="385.80" x2="138.80" y2="393.50" stroke="#1f1f1f" stroke-width="1" />
<text x="138.80" y="403.80" font-size="8.96" text-anchor="middle" stroke="#1f1f1f" stroke-width="0.1" >14</text>
<line x1="171.90" y1="385.80" x2="171.90" y2="393.50" stroke="#1f1f1f" stroke-width="1" />
<text x="171.40" y="403.80" font-size="8.96" text-anchor="middle" stroke="#1f1f1f" stroke-width="0.1" >21</text>
<text x="175.10" y="392.30" font-size="8.96" textLength="18.00" lengthAdjust="spacingAndGlyphs" stroke="#1f1f1f" stroke-width="0.1" >Days</text>
<line x1="34.90" y1="423.60" x2="34.90" y2="412.82" stroke="#1f1f1f" stroke-width="1.0" />
<path d="M32.40 414.90 L34.90 409.70 L37.40 414.90 Z" stroke="none" stroke-width="0" fill="#1f1f1f" />
<line x1="72.60" y1="423.60" x2="72.60" y2="412.82" stroke="#1f1f1f" stroke-width="1.0" />
<path d="M70.10 414.90 L72.60 409.70 L75.10 414.90 Z" stroke="none" stroke-width="0" fill="#1f1f1f" />
<text stroke="#1f1f1f" stroke-width="0.1" x="25.10" y="434.60" font-size="8.96" textLength="20.90" lengthAdjust="spacingAndGlyphs">1x10<tspan font-size="5.91" dy="-3.4">6</tspan></text>
<text stroke="#1f1f1f" stroke-width="0.1" x="19.6" y="444.4" font-size="9" textLength="30.5" lengthAdjust="spacingAndGlyphs">hCD19<tspan font-size="5.8" dy="-3.4">+</tspan></text>
<text x="24.00" y="454.20" font-size="8.96" textLength="22.00" lengthAdjust="spacingAndGlyphs" stroke="#1f1f1f" stroke-width="0.1" >B-ALL</text>
<text x="68.10" y="434.60" font-size="8.96" textLength="9.80" lengthAdjust="spacingAndGlyphs" stroke="#1f1f1f" stroke-width="0.1" >1:1</text>
<text x="55.00" y="444.40" font-size="8.96" textLength="36.00" lengthAdjust="spacingAndGlyphs" stroke="#1f1f1f" stroke-width="0.1" >WT + KO</text>
<text x="60.80" y="454.20" font-size="8.96" textLength="24.20" lengthAdjust="spacingAndGlyphs" stroke="#1f1f1f" stroke-width="0.1" >CAR-T</text>
<text x="208.80" y="343.10" font-size="12.77" font-weight="bold" stroke="#1f1f1f" stroke-width="0.35">G</text>
<text x="270.00" y="356.00" font-size="9.41" textLength="21.90" lengthAdjust="spacingAndGlyphs" stroke="#1f1f1f" stroke-width="0.1" >Day 3</text>
<text x="319.50" y="356.00" font-size="9.41" textLength="22.50" lengthAdjust="spacingAndGlyphs" stroke="#1f1f1f" stroke-width="0.1" >Day 5</text>
<text x="368.50" y="356.00" font-size="9.41" textLength="23.00" lengthAdjust="spacingAndGlyphs" stroke="#1f1f1f" stroke-width="0.1" >Day 7</text>
<text x="418.00" y="356.00" font-size="9.41" textLength="25.80" lengthAdjust="spacingAndGlyphs" stroke="#1f1f1f" stroke-width="0.1" >Day 14</text>
<text x="467.70" y="356.00" font-size="9.41" textLength="25.40" lengthAdjust="spacingAndGlyphs" stroke="#1f1f1f" stroke-width="0.1" >Day 21</text>
<text x="210.70" y="385.40" font-size="9.63" textLength="26.00" lengthAdjust="spacingAndGlyphs" stroke="#1f1f1f" stroke-width="0.1" >Spleen</text>
<text x="214.30" y="430.70" font-size="9.63" textLength="19.30" lengthAdjust="spacingAndGlyphs" stroke="#1f1f1f" stroke-width="0.1" >Bone</text>
<text x="210.00" y="440.70" font-size="9.63" textLength="28.10" lengthAdjust="spacingAndGlyphs" stroke="#1f1f1f" stroke-width="0.1" >marrow</text>
<text x="251.00" y="438.75" font-size="9.8" text-anchor="middle" textLength="31.70" lengthAdjust="spacingAndGlyphs" transform="rotate(-90 251.00 438.75)" stroke="#1f1f1f" stroke-width="0.1" >WT CAR-T</text>
<line x1="247.10" y1="419.30" x2="247.10" y2="392.42" stroke="#1f1f1f" stroke-width="1.0" />
<path d="M244.60 394.50 L247.10 389.30 L249.60 394.50 Z" stroke="none" stroke-width="0" fill="#1f1f1f" />
<text x="259.40" y="470.20" font-size="9.8" textLength="31.60" lengthAdjust="spacingAndGlyphs" stroke="#1f1f1f" stroke-width="0.1" >KO CAR-T</text>
<line x1="294.50" y1="467.10" x2="321.00" y2="467.10" stroke="#1f1f1f" stroke-width="1" />
<path d="M320 464.8 L325.2 467.1 L320 469.4 Z" stroke="none" stroke-width="0" fill="#1f1f1f" />
<defs><radialGradient id="bg"><stop offset="0" stop-color="#000" stop-opacity="1"/><stop offset=".45" stop-color="#000" stop-opacity=".75"/><stop offset="1" stop-color="#000" stop-opacity="0"/></radialGradient></defs>
<rect x="259.8" y="361.2" width="43.3" height="42.9" fill="#fff" stroke="#1f1f1f" stroke-width="1"/>
<path d="M256.60 365.20H259.80M258.20 368.35H259.80M258.20 370.45H259.80M258.20 371.71H259.80M258.20 372.76H259.80M258.20 373.60H259.80M258.20 374.23H259.80M256.60 375.40H259.80M258.20 378.55H259.80M258.20 380.65H259.80M258.20 381.91H259.80M258.20 382.96H259.80M258.20 383.80H259.80M258.20 384.43H259.80M256.60 386.50H259.80M258.20 389.65H259.80M258.20 391.75H259.80M258.20 393.01H259.80M258.20 394.06H259.80M258.20 394.90H259.80M258.20 395.53H259.80M256.60 396.00H259.80M258.20 399.15H259.80M258.20 401.25H259.80M258.20 402.51H259.80M258.20 403.56H259.80M261.80 404.10V407.30M264.80 404.10V405.70M266.80 404.10V405.70M268.00 404.10V405.70M269.00 404.10V405.70M269.80 404.10V405.70M270.40 404.10V405.70M269.00 404.10V407.30M272.00 404.10V405.70M274.00 404.10V405.70M275.20 404.10V405.70M276.20 404.10V405.70M277.00 404.10V405.70M277.60 404.10V405.70M279.00 404.10V407.30M282.00 404.10V405.70M284.00 404.10V405.70M285.20 404.10V405.70M286.20 404.10V405.70M287.00 404.10V405.70M287.60 404.10V405.70M289.80 404.10V407.30M292.80 404.10V405.70M294.80 404.10V405.70M296.00 404.10V405.70M297.00 404.10V405.70M297.80 404.10V405.70M298.40 404.10V405.70M300.30 404.10V407.30" stroke="#1f1f1f" stroke-width="0.8" fill="none" />
<ellipse cx="269.30" cy="392.20" rx="1.15" ry="7.70" fill="url(#bg)" opacity="1.00"/>
<path d="M269.19 383.77h.5M268.02 390.26h.5M269.66 389.13h.5M268.02 377.16h.5M270.29 388.49h.5M268.59 379.38h.5M269.81 392.08h.5M268.71 386.45h.5M268.59 378.20h.5M268.89 367.93h.5M270.53 386.94h.5M269.25 389.96h.5M269.23 378.41h.5M268.51 380.18h.5M270.16 393.70h.5M269.80 366.21h.5M268.87 385.64h.5M269.35 388.94h.5M268.28 382.11h.5M268.41 373.90h.5M269.02 365.58h.5M270.16 372.09h.5M270.03 370.97h.5M268.81 380.23h.5M268.89 395.52h.5M270.09 371.95h.5M269.76 379.85h.5M268.05 395.13h.5M268.85 378.27h.5M269.04 369.83h.5M269.91 382.08h.5M268.30 389.38h.5M269.24 397.50h.5M269.66 380.52h.5M269.44 374.56h.5M269.90 386.47h.5M268.84 381.99h.5M270.35 398.59h.5M269.44 380.58h.5M269.37 394.88h.5M269.10 366.61h.5M268.55 375.71h.5M269.62 392.11h.5M269.34 380.66h.5M269.51 366.04h.5M268.91 369.99h.5M268.85 366.80h.5M268.83 386.62h.5M269.83 387.47h.5M267.88 388.47h.5M268.93 371.98h.5M269.36 365.57h.5M269.22 381.25h.5M268.93 374.46h.5M269.06 376.96h.5M268.61 386.09h.5M268.47 390.91h.5M269.96 396.01h.5M270.18 368.17h.5M268.91 369.62h.5M268.37 380.62h.5M268.37 378.01h.5M270.08 384.54h.5M268.56 397.30h.5M269.06 380.97h.5M268.97 389.75h.5M268.70 393.02h.5M268.56 372.45h.5M270.94 395.80h.5M269.10 383.46h.5M268.74 392.09h.5M270.49 394.30h.5M269.86 377.05h.5M269.62 383.91h.5M269.16 391.32h.5M269.31 392.71h.5M269.41 367.38h.5M268.95 376.59h.5M269.52 391.99h.5M269.56 382.76h.5M269.79 389.80h.5M268.53 397.36h.5M269.54 381.95h.5M269.22 372.73h.5M269.06 383.11h.5M270.24 386.92h.5M269.73 382.97h.5M268.66 375.80h.5M270.03 378.16h.5M268.24 372.28h.5M270.02 394.13h.5M269.16 384.68h.5M268.61 372.03h.5M269.14 385.78h.5M270.01 366.14h.5M269.16 378.82h.5M268.66 392.44h.5M269.03 388.69h.5M268.70 367.44h.5M269.15 397.73h.5M269.22 396.60h.5M269.97 369.52h.5M266.78 376.92h.5M270.68 369.87h.5M268.90 376.17h.5M266.78 365.51h.5M271.09 379.52h.5M270.28 373.67h.5M269.63 380.74h.5M268.68 377.41h.5M268.78 371.59h.5M269.21 370.66h.5M268.16 372.95h.5M269.89 379.02h.5M267.96 375.08h.5M267.72 376.38h.5M269.84 376.05h.5M267.85 367.96h.5M266.42 371.39h.5M267.04 366.84h.5M289.08 391.69h.5M292.17 379.69h.5M286.47 388.93h.5M291.27 385.22h.5M298.55 386.23h.5M290.64 388.12h.5M287.64 383.77h.5M295.87 389.87h.5M280.49 389.06h.5M291.73 388.68h.5M287.83 385.73h.5M290.47 391.06h.5M299.24 381.72h.5M292.60 388.90h.5M288.50 382.40h.5M286.94 384.34h.5M290.32 386.97h.5M294.30 387.27h.5M281.81 385.90h.5M290.11 387.98h.5M290.91 392.36h.5M299.50 385.84h.5M289.66 386.96h.5M293.46 385.20h.5M288.61 383.38h.5M282.37 387.12h.5M282.13 388.20h.5M295.87 386.73h.5M289.95 384.57h.5M280.42 387.84h.5M285.50 387.52h.5M291.22 389.71h.5M298.62 386.98h.5M290.67 381.42h.5M292.67 382.73h.5M282.67 388.82h.5M274.11 386.05h.5M289.49 383.90h.5M295.14 383.42h.5M289.79 380.33h.5M279.46 390.23h.5M293.75 382.82h.5M289.11 380.72h.5M281.62 389.25h.5M292.29 387.59h.5M287.49 386.39h.5M283.85 390.01h.5M285.64 384.61h.5M295.09 384.63h.5M284.39 390.43h.5M282.67 384.58h.5M271.97 395.30h.5M283.38 382.30h.5M289.22 377.09h.5M294.97 386.95h.5M287.93 383.76h.5M286.90 386.92h.5M289.81 389.32h.5M291.27 387.75h.5M293.39 383.97h.5M275.28 385.88h.5M273.50 381.84h.5M282.37 381.72h.5M294.13 388.35h.5M288.29 385.30h.5M290.85 385.47h.5M285.23 386.65h.5M281.40 386.43h.5M299.33 389.16h.5M282.88 388.23h.5M284.34 384.48h.5M286.59 390.99h.5M284.45 385.30h.5M287.34 383.60h.5M291.90 386.52h.5M290.99 386.81h.5M288.34 383.02h.5M294.78 383.01h.5M290.02 385.86h.5M292.55 384.34h.5M275.02 387.54h.5M288.44 390.31h.5M295.52 384.27h.5M274.73 388.11h.5M290.94 382.20h.5M293.39 389.36h.5M284.99 386.91h.5M293.94 387.60h.5M292.00 388.81h.5M285.51 383.13h.5M287.70 390.65h.5M280.69 389.07h.5M271.31 384.10h.5M295.90 384.72h.5M288.38 387.92h.5M294.97 382.69h.5M284.90 384.10h.5M287.19 391.27h.5M282.12 384.55h.5M282.65 382.20h.5M289.58 388.62h.5M299.12 385.37h.5M289.22 385.65h.5M291.85 387.28h.5M282.03 388.39h.5M293.15 388.77h.5M290.09 386.92h.5M285.40 382.57h.5M284.95 383.96h.5M284.83 386.60h.5M283.66 390.84h.5M289.23 385.20h.5M294.78 390.41h.5M282.16 382.34h.5M289.39 389.68h.5M287.74 392.31h.5M283.30 389.82h.5M292.58 386.10h.5M280.38 384.66h.5M292.80 384.64h.5M286.68 387.39h.5M289.62 385.36h.5M293.73 388.42h.5M280.71 386.78h.5M285.61 391.74h.5M291.24 387.35h.5M287.13 385.14h.5M285.56 391.30h.5M286.81 383.77h.5M291.10 388.73h.5M287.49 383.18h.5M293.96 389.79h.5M278.15 383.18h.5M298.38 383.61h.5M279.95 388.56h.5M286.74 389.02h.5M278.86 390.85h.5M291.15 384.77h.5M285.15 388.70h.5M284.95 388.81h.5M285.72 387.71h.5M280.06 384.00h.5M279.09 384.72h.5M285.35 385.51h.5M288.77 379.50h.5M287.99 386.99h.5M282.03 385.89h.5M276.45 382.76h.5M283.00 381.45h.5M293.93 387.93h.5M288.69 384.96h.5M295.25 388.95h.5M289.88 385.48h.5M286.36 384.93h.5M288.01 381.53h.5M288.30 388.63h.5M288.78 382.31h.5M288.66 383.01h.5M281.38 393.68h.5M285.49 382.90h.5M280.51 385.07h.5M285.34 379.23h.5M280.36 389.59h.5M283.35 380.70h.5M291.43 380.43h.5M297.73 380.95h.5M284.36 383.20h.5M285.99 380.54h.5M283.64 387.93h.5M293.14 390.61h.5M293.00 386.12h.5M289.86 388.24h.5M284.54 387.55h.5M289.90 386.08h.5M287.32 387.82h.5M283.08 381.73h.5M288.96 387.37h.5M281.86 387.42h.5M289.33 385.82h.5M290.65 387.63h.5M288.94 388.67h.5M286.84 381.96h.5M288.72 388.38h.5M287.61 388.29h.5M288.40 383.45h.5M279.49 384.48h.5M284.39 386.63h.5M296.54 381.55h.5M284.79 389.78h.5M293.68 385.29h.5M288.49 387.34h.5M296.62 384.38h.5M283.65 388.97h.5M284.25 386.04h.5M295.43 386.00h.5M288.26 386.79h.5M283.50 386.84h.5M290.47 381.31h.5M285.92 385.11h.5M290.61 388.72h.5M287.61 392.94h.5M281.19 385.82h.5M292.09 386.19h.5M285.44 385.89h.5M288.23 386.13h.5M292.36 380.55h.5M289.10 385.07h.5M287.22 391.50h.5M292.84 388.46h.5M276.09 387.91h.5M279.84 382.93h.5M285.31 391.80h.5M278.63 389.97h.5M295.99 389.64h.5M289.80 390.29h.5M285.34 385.99h.5M290.31 383.82h.5M287.47 387.52h.5M286.30 389.78h.5M287.18 383.26h.5M287.30 384.86h.5M283.86 388.57h.5M297.31 385.02h.5M287.76 385.87h.5M282.62 389.92h.5M288.70 390.54h.5M287.51 386.42h.5M297.06 385.99h.5M290.04 390.70h.5M286.99 389.40h.5M284.16 385.61h.5M285.62 389.11h.5M286.30 384.10h.5M290.68 391.39h.5M282.50 393.28h.5M280.87 384.26h.5M283.65 391.68h.5M290.48 387.30h.5M294.38 389.08h.5M287.39 384.29h.5M280.49 389.92h.5M286.40 385.51h.5M288.62 388.21h.5M291.80 388.67h.5M298.20 389.58h.5M282.89 388.05h.5M283.12 381.80h.5M290.31 383.36h.5M285.70 389.27h.5M293.19 386.62h.5M283.86 377.41h.5M289.99 381.60h.5M287.46 385.90h.5M285.99 388.94h.5M286.83 385.03h.5M283.96 389.04h.5M290.42 380.32h.5M285.98 385.05h.5M289.31 379.21h.5M278.19 384.63h.5M281.22 386.29h.5M280.17 369.12h.5M272.00 385.34h.5M289.25 382.88h.5M298.09 383.44h.5M287.41 388.67h.5M286.60 394.16h.5M283.58 381.23h.5M293.89 383.85h.5M281.69 387.01h.5M290.99 385.76h.5M295.48 382.04h.5M275.49 383.44h.5M284.42 399.39h.5M282.50 384.47h.5M289.56 381.88h.5M291.53 383.61h.5M271.02 381.26h.5M290.67 393.25h.5M288.24 387.01h.5M297.48 402.30h.5M298.45 383.03h.5M281.44 394.67h.5M285.52 380.43h.5M272.59 380.39h.5M292.17 386.71h.5M281.30 386.97h.5M277.37 391.40h.5M291.23 392.75h.5M285.20 394.05h.5M279.84 393.78h.5M299.24 388.41h.5M300.19 398.28h.5M278.00 382.32h.5M275.51 390.73h.5M280.56 376.92h.5M286.31 379.38h.5M291.86 381.44h.5M275.56 389.43h.5M295.30 382.19h.5M276.74 385.30h.5M292.73 383.31h.5M299.83 389.55h.5M298.02 380.58h.5M273.91 380.54h.5M282.13 393.88h.5M290.40 387.61h.5M276.15 388.62h.5M283.86 387.48h.5M282.47 379.40h.5M286.72 391.42h.5M280.97 388.99h.5M299.23 384.44h.5M292.49 381.63h.5M288.37 382.30h.5M285.95 378.54h.5" stroke="#000" stroke-width=".6" stroke-opacity=".5" fill="none"/>
<path d="M264.20 363.80 Q264.20 362.40 265.60 362.40 L282.60 362.40 Q284.40 362.40 284.20 364.60 L272.20 379.90 Q271.80 380.40 271.00 380.40 L265.20 380.40 Q264.20 380.40 264.20 379.40 Z" stroke="#c8324f" stroke-width="0.9" fill="none" stroke-linejoin="round"/>
<rect x="275.90" y="378.70" width="25.8" height="21.6" fill="none" stroke="#4b6aa6" stroke-width=".8"/>
<text x="285.80" y="367.20" font-size="6.27" fill="#c8324f" stroke="#c8324f" stroke-width="0.05">1.9</text>
<text x="302.10" y="376.80" font-size="6.27" text-anchor="end" fill="#4b6aa6" stroke="#4b6aa6" stroke-width="0.05">6.9</text>
<rect x="309.1" y="361.2" width="43.3" height="42.9" fill="#fff" stroke="#1f1f1f" stroke-width="1"/>
<path d="M305.90 365.20H309.10M307.50 368.35H309.10M307.50 370.45H309.10M307.50 371.71H309.10M307.50 372.76H309.10M307.50 373.60H309.10M307.50 374.23H309.10M305.90 375.40H309.10M307.50 378.55H309.10M307.50 380.65H309.10M307.50 381.91H309.10M307.50 382.96H309.10M307.50 383.80H309.10M307.50 384.43H309.10M305.90 386.50H309.10M307.50 389.65H309.10M307.50 391.75H309.10M307.50 393.01H309.10M307.50 394.06H309.10M307.50 394.90H309.10M307.50 395.53H309.10M305.90 396.00H309.10M307.50 399.15H309.10M307.50 401.25H309.10M307.50 402.51H309.10M307.50 403.56H309.10M311.10 404.10V407.30M314.10 404.10V405.70M316.10 404.10V405.70M317.30 404.10V405.70M318.30 404.10V405.70M319.10 404.10V405.70M319.70 404.10V405.70M318.30 404.10V407.30M321.30 404.10V405.70M323.30 404.10V405.70M324.50 404.10V405.70M325.50 404.10V405.70M326.30 404.10V405.70M326.90 404.10V405.70M328.30 404.10V407.30M331.30 404.10V405.70M333.30 404.10V405.70M334.50 404.10V405.70M335.50 404.10V405.70M336.30 404.10V405.70M336.90 404.10V405.70M339.10 404.10V407.30M342.10 404.10V405.70M344.10 404.10V405.70M345.30 404.10V405.70M346.30 404.10V405.70M347.10 404.10V405.70M347.70 404.10V405.70M349.60 404.10V407.30" stroke="#1f1f1f" stroke-width="0.8" fill="none" />
<ellipse cx="318.70" cy="390.00" rx="1.15" ry="7.92" fill="url(#bg)" opacity="1.00"/>
<ellipse cx="337.10" cy="386.50" rx="8.50" ry="4.42" fill="url(#bg)" opacity="0.9"/>
<path d="M319.57 394.21h.5M319.32 370.04h.5M318.72 382.87h.5M318.69 373.76h.5M318.60 375.48h.5M318.89 393.95h.5M318.25 391.48h.5M319.04 384.35h.5M319.96 367.62h.5M318.95 375.74h.5M320.21 381.65h.5M318.03 380.85h.5M318.32 372.60h.5M320.00 394.00h.5M318.99 372.26h.5M318.22 380.85h.5M320.13 371.53h.5M317.35 372.46h.5M319.14 385.80h.5M319.85 367.75h.5M318.62 369.49h.5M318.19 394.11h.5M318.63 393.16h.5M318.39 387.77h.5M318.47 395.27h.5M318.78 373.12h.5M318.60 375.72h.5M318.32 371.81h.5M318.16 373.50h.5M317.79 377.75h.5M319.30 386.72h.5M318.17 373.30h.5M319.50 375.53h.5M318.30 374.78h.5M320.15 386.04h.5M319.62 379.85h.5M318.52 382.58h.5M318.66 384.79h.5M318.69 375.02h.5M319.78 368.90h.5M318.72 375.04h.5M318.25 374.85h.5M319.20 383.19h.5M319.88 396.82h.5M317.73 367.24h.5M318.94 378.13h.5M318.32 395.01h.5M318.70 383.44h.5M318.14 386.19h.5M319.38 390.47h.5M317.54 382.22h.5M318.66 387.41h.5M319.05 382.34h.5M318.59 390.37h.5M318.36 371.32h.5M318.42 379.85h.5M318.94 390.16h.5M317.67 373.51h.5M318.84 381.36h.5M319.48 381.67h.5M317.92 367.30h.5M318.16 383.95h.5M318.85 393.26h.5M319.01 366.75h.5M318.11 381.58h.5M318.96 374.35h.5M319.88 390.95h.5M319.28 383.84h.5M318.81 383.04h.5M318.27 370.73h.5M319.20 375.84h.5M318.84 385.46h.5M318.63 382.49h.5M319.50 368.94h.5M318.92 391.64h.5M319.11 371.15h.5M319.21 387.61h.5M317.78 368.10h.5M318.42 378.93h.5M319.02 396.29h.5M317.69 367.51h.5M318.77 396.77h.5M317.75 370.68h.5M318.97 367.42h.5M318.96 373.66h.5M318.49 378.38h.5M318.49 375.44h.5M318.81 367.26h.5M318.78 397.08h.5M317.73 373.33h.5M318.28 374.05h.5M318.56 380.51h.5M318.34 395.11h.5M319.63 380.02h.5M318.36 378.12h.5M318.98 372.18h.5M318.18 368.94h.5M320.53 377.60h.5M317.09 377.41h.5M317.51 365.67h.5M320.40 366.80h.5M320.38 374.20h.5M319.95 375.76h.5M320.33 374.94h.5M319.47 374.44h.5M320.24 371.24h.5M320.12 380.73h.5M318.51 375.40h.5M317.83 371.76h.5M318.99 371.49h.5M317.27 373.05h.5M321.65 386.81h.5M322.77 383.66h.5M329.11 388.76h.5M322.86 385.91h.5M332.21 387.21h.5M324.14 386.75h.5M331.80 383.95h.5M319.39 385.81h.5M320.26 387.92h.5M331.45 385.25h.5M326.37 388.94h.5M319.87 385.57h.5M319.67 387.23h.5M321.21 386.16h.5M323.47 386.27h.5M325.04 385.67h.5M328.99 386.26h.5M322.75 386.14h.5M321.16 384.16h.5M321.97 386.02h.5M324.77 388.98h.5M324.51 387.26h.5M323.19 385.65h.5M323.93 386.60h.5M319.44 386.95h.5M327.93 383.84h.5M332.76 385.33h.5M323.27 384.78h.5M322.13 383.35h.5M328.75 384.51h.5M331.26 383.05h.5M322.38 386.03h.5M325.09 385.99h.5M324.59 387.96h.5M323.69 387.08h.5M326.06 386.32h.5M324.73 387.42h.5M325.75 387.68h.5M322.46 388.55h.5M320.40 385.59h.5M321.21 387.90h.5M327.26 385.89h.5M328.90 384.56h.5M319.42 385.32h.5M319.98 387.46h.5M324.76 388.26h.5M327.30 387.13h.5M325.67 385.94h.5M319.43 387.59h.5M323.96 388.11h.5M322.77 385.20h.5M328.45 387.20h.5M327.71 388.16h.5M332.47 385.14h.5M332.29 388.09h.5M329.90 384.95h.5M324.85 384.90h.5M324.92 386.01h.5M331.42 389.47h.5M324.45 386.88h.5M321.00 386.26h.5M326.20 385.96h.5M332.78 387.91h.5M321.20 386.91h.5M328.62 387.58h.5M322.38 388.50h.5M324.61 386.51h.5M322.45 384.18h.5M326.77 386.59h.5M327.84 383.70h.5M332.66 385.38h.5M323.77 384.60h.5M323.49 389.24h.5M329.12 385.68h.5M332.59 384.20h.5M330.64 387.70h.5M325.97 388.38h.5M326.99 385.60h.5M329.59 387.46h.5M326.58 386.60h.5M323.65 387.71h.5M321.59 385.67h.5M319.99 386.43h.5M320.06 388.50h.5M320.68 388.00h.5M325.42 386.75h.5M321.38 384.69h.5M331.23 386.86h.5M322.65 386.11h.5M326.20 386.96h.5M329.12 384.97h.5M322.63 386.20h.5M323.77 385.11h.5M329.73 388.15h.5M327.04 383.99h.5M324.99 385.90h.5M330.73 384.35h.5M330.32 387.60h.5M328.47 387.60h.5M322.33 386.61h.5M327.30 386.74h.5M332.27 387.34h.5M328.73 386.34h.5M324.97 385.41h.5M332.17 385.32h.5M332.94 388.91h.5M320.76 387.26h.5M319.69 385.92h.5M333.01 389.03h.5M320.78 386.32h.5M326.70 386.82h.5M325.86 385.54h.5M330.31 387.48h.5M330.84 386.16h.5M327.75 388.06h.5M329.82 388.08h.5M328.82 386.31h.5M326.74 386.78h.5M321.55 385.64h.5M320.60 387.61h.5M335.40 385.06h.5M337.31 386.25h.5M338.07 385.04h.5M335.87 384.88h.5M333.98 386.96h.5M343.35 385.02h.5M340.28 387.49h.5M337.73 388.42h.5M334.14 388.10h.5M338.75 376.76h.5M339.06 388.20h.5M347.66 383.55h.5M337.66 387.51h.5M331.93 389.88h.5M339.56 384.29h.5M330.70 385.35h.5M349.92 392.56h.5M323.81 381.42h.5M340.74 386.22h.5M333.72 388.21h.5M337.66 387.33h.5M338.57 383.47h.5M344.23 385.23h.5M343.25 388.46h.5M337.35 386.91h.5M336.89 381.36h.5M335.39 387.72h.5M328.45 382.34h.5M342.96 388.79h.5M328.80 387.81h.5M336.88 389.26h.5M335.39 385.90h.5M333.09 387.03h.5M336.46 384.68h.5M335.27 384.40h.5M340.51 383.62h.5M328.73 383.81h.5M342.99 385.09h.5M340.63 388.59h.5M334.38 388.64h.5M339.87 386.40h.5M333.32 386.35h.5M330.19 385.74h.5M333.99 387.75h.5M338.98 384.71h.5M341.82 389.87h.5M337.49 384.43h.5M339.86 379.64h.5M333.96 388.16h.5M347.98 384.44h.5M345.41 393.08h.5M347.35 379.86h.5M343.10 387.06h.5M342.63 386.01h.5M333.79 385.87h.5M345.28 388.89h.5M335.53 387.59h.5M341.83 388.12h.5M336.89 384.65h.5M333.08 385.28h.5M334.11 382.05h.5M329.43 388.99h.5M331.02 382.80h.5M336.88 390.61h.5M343.99 385.34h.5M331.48 384.99h.5M332.16 384.95h.5M339.74 383.49h.5M332.86 385.77h.5M336.97 384.33h.5M332.81 383.30h.5M333.01 387.99h.5M335.78 377.68h.5M340.48 386.31h.5M332.35 385.78h.5M320.57 381.80h.5M343.48 392.58h.5M349.04 384.41h.5M337.33 388.72h.5M330.38 391.47h.5M333.15 387.51h.5M330.81 387.55h.5M337.02 389.59h.5M330.78 386.48h.5M347.08 383.10h.5M339.04 387.75h.5M334.38 385.74h.5M344.87 389.76h.5M340.22 387.27h.5M330.88 386.76h.5M346.95 389.51h.5M329.64 380.58h.5M333.46 386.98h.5M334.08 385.62h.5M338.99 389.06h.5M338.26 390.08h.5M329.28 387.84h.5M339.44 382.24h.5M343.99 381.93h.5M329.15 394.14h.5M344.23 387.58h.5M344.56 389.79h.5M330.89 387.89h.5M344.82 386.04h.5M337.51 385.17h.5M341.15 384.91h.5M333.87 382.99h.5M331.99 387.13h.5M339.71 385.39h.5M331.32 387.48h.5M339.08 390.16h.5M334.37 385.32h.5M339.94 390.88h.5M336.83 386.27h.5M331.92 385.42h.5M342.34 388.95h.5M343.28 381.78h.5M341.74 383.84h.5M340.39 379.69h.5M336.57 383.96h.5M344.15 386.85h.5M344.31 385.24h.5M348.00 385.22h.5M347.62 385.10h.5M331.67 389.09h.5M334.90 386.34h.5M329.65 385.51h.5M337.74 384.47h.5M339.28 379.87h.5M342.06 385.32h.5M345.27 385.49h.5M333.46 385.21h.5M338.65 388.22h.5M334.54 384.20h.5M339.50 388.89h.5M327.42 383.47h.5M333.37 391.44h.5M343.95 388.81h.5M339.86 383.27h.5M343.35 385.22h.5M332.69 392.10h.5M329.05 390.51h.5M338.23 383.84h.5M338.10 384.07h.5M338.15 384.64h.5M330.51 394.20h.5M334.32 389.36h.5M336.84 388.47h.5M330.08 383.49h.5M318.87 389.41h.5M339.59 383.10h.5M341.77 388.23h.5M342.22 388.29h.5M341.41 386.44h.5M334.81 388.56h.5M344.00 383.13h.5M330.78 386.39h.5M347.14 385.91h.5M327.65 388.85h.5M341.33 392.14h.5M338.18 392.22h.5M333.11 389.13h.5M337.87 383.06h.5M335.58 390.36h.5M343.34 385.42h.5M343.30 389.13h.5M342.12 387.34h.5M338.82 384.12h.5M336.75 386.87h.5M333.02 385.68h.5M338.05 387.13h.5M343.01 383.54h.5M334.92 387.29h.5M335.02 387.48h.5M334.52 389.93h.5M335.86 383.22h.5M341.30 391.33h.5M326.40 386.14h.5M337.52 389.50h.5M345.46 386.06h.5M328.46 388.45h.5M342.74 387.86h.5M337.57 384.17h.5M350.69 383.05h.5M328.75 389.34h.5M338.73 388.46h.5M339.12 391.39h.5M345.06 384.93h.5M342.71 383.11h.5M327.65 390.00h.5M334.75 380.31h.5M337.03 384.60h.5M339.96 386.35h.5M332.86 384.46h.5M341.40 383.83h.5M337.85 383.66h.5M339.65 391.67h.5M340.30 389.74h.5M339.65 383.74h.5M335.46 386.72h.5M339.58 384.78h.5M340.54 384.44h.5M337.50 386.49h.5M330.74 389.42h.5M337.42 386.83h.5M336.96 380.44h.5M329.35 383.93h.5M342.65 384.85h.5M340.52 383.55h.5M332.45 385.16h.5M343.02 381.74h.5M336.16 387.69h.5M337.89 386.47h.5M341.46 387.35h.5M331.55 388.35h.5M332.80 385.54h.5M345.19 393.57h.5M345.20 387.75h.5M332.82 384.33h.5M346.38 387.48h.5M329.44 391.05h.5M340.36 390.32h.5M339.38 380.30h.5M333.05 386.11h.5M336.21 390.88h.5M333.41 386.23h.5M336.82 386.26h.5M331.39 382.99h.5M322.84 387.48h.5M336.02 387.10h.5M331.29 386.53h.5M331.74 383.60h.5M339.00 388.35h.5M340.36 386.39h.5M334.99 390.55h.5M344.04 384.69h.5M331.11 387.59h.5M338.90 383.89h.5M349.78 380.49h.5M332.51 387.22h.5M342.62 381.17h.5M334.72 390.66h.5M344.93 385.79h.5M337.34 383.97h.5M339.32 383.50h.5M325.88 382.13h.5M337.44 382.71h.5M343.28 390.22h.5M342.66 388.40h.5M343.42 387.28h.5M341.94 387.87h.5M341.47 383.59h.5M333.48 383.64h.5M341.73 387.98h.5M332.77 383.67h.5M333.94 389.03h.5M336.50 385.82h.5M333.31 386.17h.5M345.98 384.54h.5M335.18 391.41h.5M341.13 383.24h.5M343.17 382.88h.5M340.23 379.24h.5M331.62 389.16h.5M333.84 384.43h.5M337.43 386.53h.5M334.55 384.57h.5M347.10 390.82h.5M338.96 383.20h.5M334.21 385.68h.5M339.83 391.14h.5M334.25 386.95h.5M334.76 386.93h.5M333.33 387.61h.5M343.56 385.38h.5M335.32 386.85h.5M329.86 391.74h.5M329.72 385.49h.5M332.24 390.84h.5M334.45 385.07h.5M347.60 386.18h.5M332.83 386.50h.5M338.21 384.37h.5M336.13 385.92h.5M341.15 388.73h.5M341.76 386.17h.5M341.56 385.91h.5M343.56 387.69h.5M334.79 390.07h.5M328.76 383.73h.5M332.73 386.14h.5M330.33 383.06h.5M326.68 386.85h.5M332.89 392.83h.5M341.43 383.23h.5M344.45 386.83h.5M343.11 383.33h.5M343.56 389.68h.5M334.84 384.08h.5M335.05 387.28h.5M350.47 391.73h.5M345.44 385.89h.5M335.33 387.58h.5M335.62 385.18h.5M335.99 388.95h.5M336.77 387.21h.5M335.69 385.96h.5M335.32 390.16h.5M338.43 390.82h.5M336.20 389.58h.5M329.49 385.36h.5M336.81 384.70h.5M336.51 383.86h.5M336.24 384.60h.5M337.12 385.67h.5M331.61 385.35h.5M337.30 382.86h.5M337.68 390.12h.5M335.89 388.10h.5M340.58 384.22h.5M344.45 393.74h.5M331.47 392.70h.5M333.22 390.72h.5M327.12 389.79h.5M337.91 382.84h.5M332.59 383.51h.5M332.17 387.61h.5M336.15 379.31h.5M335.42 387.86h.5M337.63 391.38h.5M326.98 387.22h.5M337.31 388.60h.5M329.73 382.76h.5M336.20 386.74h.5M327.12 387.57h.5M337.11 388.63h.5M322.70 387.96h.5M332.23 385.15h.5M341.46 391.38h.5M337.98 386.21h.5M344.38 383.95h.5M336.29 385.07h.5M331.70 387.08h.5M348.41 387.23h.5M339.90 386.43h.5M343.38 387.04h.5M332.26 386.81h.5M345.10 386.28h.5M343.78 386.32h.5M348.35 387.33h.5M340.76 385.69h.5M341.76 385.87h.5M328.95 387.39h.5M330.46 390.78h.5M341.53 386.57h.5M340.95 379.06h.5M345.64 384.65h.5M340.85 393.89h.5M328.20 385.33h.5M339.03 387.73h.5M327.79 383.84h.5M345.37 384.79h.5M340.21 382.58h.5M332.10 381.28h.5M338.64 389.85h.5M337.66 385.73h.5M338.48 387.87h.5M335.53 388.12h.5M347.95 392.92h.5M333.97 382.89h.5M347.75 389.35h.5M343.87 388.26h.5M335.89 389.33h.5M343.34 389.91h.5M331.14 389.49h.5M335.20 385.49h.5M339.10 385.53h.5M349.97 388.15h.5M338.63 385.98h.5M338.53 385.86h.5M340.37 389.01h.5M341.79 382.91h.5M335.31 386.77h.5M330.39 387.61h.5M336.36 386.69h.5M339.27 384.74h.5M345.76 389.51h.5M334.11 387.87h.5M341.26 384.33h.5M335.19 388.54h.5M322.88 382.74h.5M338.97 388.31h.5M332.03 389.00h.5M349.40 387.13h.5M336.93 386.73h.5M331.55 388.12h.5M338.15 388.67h.5M345.05 386.64h.5M338.16 387.47h.5M346.78 382.34h.5M337.14 384.73h.5M337.86 388.93h.5M337.55 388.65h.5M338.20 384.48h.5M333.51 382.56h.5M338.40 385.40h.5M341.81 389.31h.5M332.26 383.41h.5M340.52 384.01h.5M338.32 388.29h.5M335.03 391.65h.5M332.88 387.76h.5M334.89 378.25h.5M336.22 386.08h.5M340.37 386.15h.5M333.13 385.05h.5M335.48 388.71h.5M335.64 390.08h.5M341.90 384.40h.5M342.87 380.03h.5M337.32 383.72h.5M336.62 389.85h.5M337.17 386.05h.5M344.24 384.35h.5M332.58 389.33h.5M340.56 382.43h.5M338.00 388.78h.5M336.27 385.37h.5M337.91 387.15h.5M333.28 388.94h.5M328.45 386.32h.5M348.97 383.49h.5M336.96 380.00h.5M332.59 383.23h.5M337.50 385.12h.5M347.31 383.88h.5M337.00 387.16h.5M340.71 389.10h.5M328.53 392.83h.5M335.46 384.47h.5M328.08 385.26h.5M327.37 387.06h.5M333.85 387.46h.5M332.81 386.74h.5M349.44 389.89h.5M338.04 383.70h.5M345.22 381.67h.5M329.36 390.25h.5M333.85 390.40h.5M340.32 392.77h.5M347.00 388.20h.5M333.67 388.23h.5M344.89 386.92h.5M321.18 385.44h.5M335.11 386.36h.5M335.21 389.80h.5M330.15 387.78h.5M326.19 380.28h.5M331.55 384.36h.5M332.19 384.50h.5M340.51 388.18h.5M337.57 387.08h.5M333.30 383.69h.5M329.29 385.32h.5M330.88 385.58h.5M341.12 388.09h.5M344.44 383.84h.5M325.01 383.33h.5M348.11 388.51h.5M334.69 390.30h.5M334.83 391.30h.5M334.89 385.34h.5M340.96 383.22h.5M336.20 392.06h.5M339.52 383.34h.5M335.72 386.43h.5M332.93 387.68h.5M343.99 386.64h.5M341.99 387.35h.5M337.87 384.35h.5M342.41 390.38h.5M334.62 383.99h.5M339.98 386.80h.5M343.31 387.91h.5M336.39 382.53h.5M340.52 386.78h.5M330.12 382.23h.5M327.04 388.28h.5M334.70 376.98h.5M332.25 384.67h.5M336.48 386.60h.5M335.23 388.62h.5M342.74 385.86h.5M345.78 386.14h.5M332.33 386.94h.5M329.20 385.64h.5M331.26 385.26h.5M338.18 379.47h.5M339.25 387.24h.5M335.89 388.54h.5M338.98 385.45h.5M331.55 388.59h.5M341.27 382.27h.5M333.07 383.10h.5M341.66 384.85h.5M330.19 390.81h.5M339.59 387.16h.5M338.43 385.98h.5M337.27 389.05h.5M339.52 385.18h.5M337.61 391.86h.5M334.02 382.71h.5M337.71 383.21h.5M340.30 387.54h.5M347.94 383.56h.5M336.79 381.69h.5M343.92 386.26h.5M346.83 385.69h.5M331.31 384.46h.5M341.50 384.12h.5M338.49 384.40h.5M333.13 384.87h.5M346.03 383.39h.5M338.83 388.79h.5M332.94 382.15h.5M345.36 391.46h.5M335.67 383.03h.5M341.86 386.36h.5M332.50 385.36h.5M323.83 384.13h.5M330.32 382.68h.5M340.27 387.24h.5M346.43 378.74h.5M333.35 384.04h.5M344.37 389.45h.5M337.70 386.73h.5M332.86 384.97h.5M334.56 379.19h.5M347.53 388.58h.5M348.57 390.02h.5M339.77 388.86h.5M327.65 383.54h.5M341.74 385.36h.5M328.05 386.42h.5M329.87 386.46h.5M345.70 383.18h.5M334.51 388.04h.5M336.86 386.99h.5M332.32 385.47h.5M323.77 385.93h.5M344.13 383.21h.5M335.96 388.50h.5M343.78 389.81h.5M332.06 385.24h.5M346.76 385.10h.5M338.58 384.00h.5M333.33 377.86h.5M333.95 380.08h.5M331.34 383.60h.5M344.51 388.65h.5M339.22 384.94h.5M329.23 387.82h.5M332.36 386.10h.5M342.22 385.88h.5M336.82 383.55h.5M342.81 387.97h.5M340.92 391.14h.5M327.91 386.50h.5M340.54 387.39h.5M338.67 387.78h.5M328.43 386.20h.5M343.45 386.27h.5M335.86 388.88h.5M327.21 387.57h.5M345.42 385.69h.5M332.36 387.95h.5M334.43 384.05h.5M337.88 381.61h.5M340.69 382.95h.5M333.89 388.53h.5M336.78 387.18h.5M344.64 390.83h.5M348.60 384.83h.5M342.08 381.63h.5M341.42 390.21h.5M332.91 387.77h.5M341.64 385.96h.5M333.41 390.80h.5M329.60 386.90h.5M342.28 387.11h.5M345.78 390.72h.5M339.57 391.57h.5M341.15 382.86h.5M335.15 387.21h.5M338.03 381.51h.5M349.78 381.89h.5M330.66 387.72h.5M338.08 390.88h.5M338.21 387.52h.5M341.03 384.30h.5M329.75 385.09h.5M342.65 385.61h.5M343.95 384.83h.5M341.19 386.52h.5M341.67 386.46h.5M338.09 385.08h.5M343.94 386.34h.5M339.77 388.33h.5M332.00 384.03h.5M336.75 390.13h.5M331.10 383.49h.5M331.48 385.31h.5M331.04 384.07h.5M339.94 383.29h.5M336.94 383.03h.5M335.87 387.95h.5M325.82 386.60h.5M338.25 386.27h.5M338.43 387.64h.5M329.77 386.09h.5M340.59 390.19h.5M329.41 384.72h.5M329.38 386.39h.5M331.05 383.60h.5M341.29 392.94h.5M325.53 391.21h.5M331.89 388.42h.5M338.97 390.02h.5M335.85 384.05h.5M336.66 388.73h.5M332.04 387.63h.5M336.97 386.97h.5M337.06 388.20h.5M341.49 385.61h.5M335.05 380.24h.5M332.12 382.04h.5M340.78 383.33h.5M333.13 387.98h.5M342.54 389.97h.5M332.27 387.14h.5M342.96 384.00h.5M335.75 382.93h.5M333.45 388.50h.5M337.53 385.40h.5M333.92 390.85h.5M341.21 382.88h.5M349.06 385.27h.5M336.18 385.04h.5M329.19 389.79h.5M320.35 386.59h.5M331.67 395.58h.5M338.91 388.72h.5M340.29 389.55h.5M336.22 373.58h.5M339.26 384.75h.5M342.08 388.06h.5M329.46 381.75h.5M324.73 387.93h.5M333.92 381.79h.5M331.30 388.27h.5M328.28 385.77h.5M328.85 372.84h.5M335.91 386.77h.5M343.17 393.27h.5M327.68 389.56h.5M337.68 386.85h.5M343.35 391.02h.5M322.23 394.18h.5M333.21 382.95h.5M328.03 385.27h.5M323.68 392.14h.5M339.31 381.73h.5M343.29 387.68h.5M335.82 391.48h.5M334.07 385.08h.5M340.07 376.86h.5M322.92 389.09h.5M345.77 377.64h.5M335.13 382.97h.5M332.16 389.59h.5M350.02 395.67h.5M344.53 389.80h.5M336.45 376.68h.5M338.97 380.21h.5M323.80 387.08h.5M319.13 395.71h.5M341.05 388.35h.5M339.86 387.71h.5M335.66 390.15h.5M328.26 387.88h.5M336.70 390.52h.5M323.95 387.74h.5M333.71 389.75h.5M340.44 387.42h.5M339.65 388.77h.5M348.72 388.06h.5M340.39 381.58h.5M332.95 390.47h.5M345.57 381.35h.5M334.60 385.04h.5M335.56 383.94h.5M330.76 386.14h.5M336.27 391.77h.5M326.47 381.44h.5M342.93 389.07h.5M333.14 380.43h.5M345.59 380.85h.5M346.38 387.76h.5" stroke="#000" stroke-width=".6" stroke-opacity=".5" fill="none"/>
<path d="M313.50 363.80 Q313.50 362.40 314.90 362.40 L331.90 362.40 Q333.70 362.40 333.50 364.60 L321.50 379.90 Q321.10 380.40 320.30 380.40 L314.50 380.40 Q313.50 380.40 313.50 379.40 Z" stroke="#c8324f" stroke-width="0.9" fill="none" stroke-linejoin="round"/>
<rect x="325.20" y="378.70" width="25.8" height="21.6" fill="none" stroke="#4b6aa6" stroke-width=".8"/>
<text x="335.10" y="367.20" font-size="6.27" fill="#c8324f" stroke="#c8324f" stroke-width="0.05">0.9</text>
<text x="351.40" y="376.80" font-size="6.27" text-anchor="end" fill="#4b6aa6" stroke="#4b6aa6" stroke-width="0.05">66.8</text>
<rect x="358.6" y="361.2" width="43.3" height="42.9" fill="#fff" stroke="#1f1f1f" stroke-width="1"/>
<path d="M355.40 365.20H358.60M357.00 368.35H358.60M357.00 370.45H358.60M357.00 371.71H358.60M357.00 372.76H358.60M357.00 373.60H358.60M357.00 374.23H358.60M355.40 375.40H358.60M357.00 378.55H358.60M357.00 380.65H358.60M357.00 381.91H358.60M357.00 382.96H358.60M357.00 383.80H358.60M357.00 384.43H358.60M355.40 386.50H358.60M357.00 389.65H358.60M357.00 391.75H358.60M357.00 393.01H358.60M357.00 394.06H358.60M357.00 394.90H358.60M357.00 395.53H358.60M355.40 396.00H358.60M357.00 399.15H358.60M357.00 401.25H358.60M357.00 402.51H358.60M357.00 403.56H358.60M360.60 404.10V407.30M363.60 404.10V405.70M365.60 404.10V405.70M366.80 404.10V405.70M367.80 404.10V405.70M368.60 404.10V405.70M369.20 404.10V405.70M367.80 404.10V407.30M370.80 404.10V405.70M372.80 404.10V405.70M374.00 404.10V405.70M375.00 404.10V405.70M375.80 404.10V405.70M376.40 404.10V405.70M377.80 404.10V407.30M380.80 404.10V405.70M382.80 404.10V405.70M384.00 404.10V405.70M385.00 404.10V405.70M385.80 404.10V405.70M386.40 404.10V405.70M388.60 404.10V407.30M391.60 404.10V405.70M393.60 404.10V405.70M394.80 404.10V405.70M395.80 404.10V405.70M396.60 404.10V405.70M397.20 404.10V405.70M399.10 404.10V407.30" stroke="#1f1f1f" stroke-width="0.8" fill="none" />
<ellipse cx="387.70" cy="391.60" rx="11.90" ry="5.10" fill="url(#bg)" opacity="1.0"/>
<path d="M368.27 395.25h.5M369.05 395.50h.5M367.00 394.51h.5M366.67 396.05h.5M369.14 396.94h.5M367.31 398.47h.5M369.85 395.33h.5M366.80 394.26h.5M369.23 398.39h.5M367.96 392.90h.5M367.62 398.18h.5M368.39 393.52h.5M366.71 396.38h.5M369.04 394.82h.5M368.23 395.60h.5M368.12 394.72h.5M367.93 394.65h.5M369.38 396.05h.5M369.21 398.07h.5M366.56 395.39h.5M369.16 395.19h.5M367.91 396.04h.5M367.97 394.31h.5M368.15 395.56h.5M368.40 396.75h.5M368.41 394.82h.5M370.84 395.17h.5M368.18 395.28h.5M367.83 393.27h.5M368.55 397.54h.5M366.93 394.42h.5M368.73 394.53h.5M368.82 395.42h.5M367.51 395.18h.5M367.98 396.25h.5M366.36 396.06h.5M369.46 395.70h.5M368.58 394.74h.5M368.66 395.28h.5M367.36 393.82h.5M366.53 396.09h.5M368.53 397.01h.5M368.60 396.46h.5M367.32 392.87h.5M367.93 395.02h.5M368.68 395.30h.5M368.26 395.54h.5M368.60 395.77h.5M368.65 394.78h.5M368.32 393.42h.5M367.50 395.10h.5M368.74 394.43h.5M367.26 396.83h.5M367.72 393.07h.5M367.61 393.82h.5M366.45 394.94h.5M369.74 394.44h.5M367.73 397.09h.5M368.46 395.34h.5M369.48 393.83h.5M368.34 396.19h.5M368.55 393.84h.5M367.65 397.98h.5M368.32 395.12h.5M369.25 392.97h.5M368.35 393.02h.5M369.51 394.10h.5M368.48 394.19h.5M368.50 395.93h.5M368.40 395.04h.5M368.46 371.95h.5M367.33 376.31h.5M369.37 366.40h.5M366.58 369.27h.5M368.53 366.14h.5M370.42 373.37h.5M368.32 377.53h.5M366.97 375.02h.5M368.70 379.62h.5M366.51 380.09h.5M368.99 374.42h.5M369.69 371.92h.5M367.80 377.35h.5M367.57 378.58h.5M370.15 374.27h.5M368.36 369.94h.5M366.72 380.37h.5M366.55 373.61h.5M389.95 388.64h.5M382.45 389.28h.5M398.38 398.30h.5M395.48 395.94h.5M384.32 389.33h.5M398.87 396.43h.5M379.89 395.38h.5M390.01 394.25h.5M395.16 397.88h.5M382.94 391.63h.5M397.46 390.78h.5M391.96 391.38h.5M374.71 389.81h.5M394.58 389.84h.5M375.98 389.99h.5M388.58 393.26h.5M390.35 393.38h.5M379.70 389.67h.5M381.92 390.20h.5M391.21 396.04h.5M386.03 395.15h.5M396.37 387.89h.5M381.57 392.16h.5M377.24 397.83h.5M373.44 387.63h.5M393.86 389.21h.5M393.32 388.42h.5M395.99 389.75h.5M393.44 394.98h.5M376.37 388.76h.5M374.43 388.03h.5M394.95 391.58h.5M394.40 396.36h.5M395.85 394.07h.5M384.60 390.41h.5M390.36 394.55h.5M396.26 392.68h.5M385.68 391.44h.5M400.69 392.62h.5M394.66 392.42h.5M393.79 389.23h.5M390.54 391.49h.5M385.81 387.78h.5M377.08 390.61h.5M392.16 392.57h.5M389.81 392.77h.5M377.60 395.21h.5M388.50 389.24h.5M383.78 394.97h.5M389.45 386.25h.5M380.28 395.81h.5M397.65 395.15h.5M392.97 392.79h.5M389.65 389.97h.5M390.09 395.93h.5M387.19 398.20h.5M376.09 391.84h.5M376.62 385.96h.5M389.96 390.66h.5M383.75 388.25h.5M386.21 386.41h.5M386.52 390.00h.5M378.42 393.09h.5M373.74 393.15h.5M390.06 393.47h.5M389.03 394.35h.5M386.01 388.18h.5M390.92 389.14h.5M385.25 392.13h.5M380.90 394.96h.5M376.24 395.76h.5M387.77 397.31h.5M396.52 393.96h.5M390.26 392.12h.5M377.48 389.90h.5M380.81 389.39h.5M387.03 389.13h.5M389.09 390.89h.5M384.44 393.02h.5M391.59 387.34h.5M385.61 401.34h.5M388.13 393.25h.5M381.23 394.94h.5M399.80 393.65h.5M387.00 391.83h.5M373.50 393.68h.5M385.68 393.04h.5M390.87 392.43h.5M383.02 393.74h.5M392.86 391.87h.5M398.82 390.53h.5M374.61 388.24h.5M390.98 388.49h.5M389.18 386.78h.5M390.96 390.89h.5M381.06 389.91h.5M385.94 394.73h.5M389.84 391.06h.5M389.23 394.65h.5M391.58 397.48h.5M382.49 394.43h.5M388.97 389.67h.5M392.58 394.47h.5M395.51 393.32h.5M381.30 392.29h.5M390.95 397.19h.5M388.95 392.24h.5M399.97 391.95h.5M384.59 392.68h.5M393.92 392.24h.5M375.21 390.42h.5M395.68 389.31h.5M394.57 392.30h.5M381.93 394.35h.5M371.63 384.88h.5M376.15 393.47h.5M385.91 393.80h.5M387.42 392.16h.5M384.01 390.44h.5M395.57 394.25h.5M377.84 393.62h.5M380.82 394.17h.5M389.68 390.69h.5M395.44 395.75h.5M384.05 392.14h.5M385.02 391.75h.5M400.18 390.32h.5M392.36 392.58h.5M388.66 388.06h.5M392.77 388.16h.5M393.55 391.45h.5M389.07 390.23h.5M381.51 388.39h.5M388.10 391.47h.5M390.19 390.80h.5M393.90 392.21h.5M388.95 390.95h.5M387.89 393.86h.5M382.68 387.82h.5M390.96 393.11h.5M388.24 392.53h.5M378.12 388.57h.5M388.00 391.63h.5M378.59 393.25h.5M373.58 395.77h.5M380.04 389.91h.5M380.09 387.35h.5M385.59 385.57h.5M385.45 392.28h.5M385.74 391.66h.5M377.04 385.72h.5M377.95 395.17h.5M390.38 385.91h.5M396.22 395.01h.5M397.85 386.23h.5M388.56 389.20h.5M387.94 390.89h.5M371.96 392.05h.5M381.61 396.13h.5M393.59 391.46h.5M385.00 395.31h.5M383.94 395.29h.5M389.54 390.78h.5M390.77 397.39h.5M375.84 394.15h.5M393.58 390.88h.5M399.08 393.89h.5M392.11 388.44h.5M392.35 387.52h.5M391.81 398.71h.5M381.16 396.78h.5M379.75 391.93h.5M393.41 387.01h.5M390.47 389.20h.5M383.28 394.45h.5M387.36 393.03h.5M388.11 392.95h.5M399.77 392.12h.5M385.81 391.80h.5M393.42 393.20h.5M371.69 391.47h.5M391.27 400.21h.5M383.45 390.82h.5M379.18 391.49h.5M374.55 388.98h.5M387.34 386.80h.5M385.92 389.48h.5M397.52 396.90h.5M393.05 399.43h.5M383.05 397.24h.5M381.02 395.15h.5M376.07 390.42h.5M386.47 390.88h.5M373.16 392.12h.5M385.74 396.55h.5M392.39 384.63h.5M388.94 395.19h.5M387.21 389.40h.5M377.54 390.51h.5M380.79 390.81h.5M385.48 395.88h.5M380.45 392.79h.5M379.59 392.61h.5M395.80 389.84h.5M378.90 391.82h.5M388.12 389.62h.5M391.16 391.94h.5M393.09 387.21h.5M393.70 395.84h.5M381.69 398.18h.5M389.71 387.45h.5M379.80 389.27h.5M382.98 390.92h.5M390.21 391.03h.5M385.50 388.55h.5M372.32 389.38h.5M378.56 394.58h.5M369.47 395.44h.5M366.11 391.05h.5M388.03 388.06h.5M380.47 394.56h.5M379.67 391.39h.5M388.27 393.84h.5M378.27 396.01h.5M386.75 395.01h.5M377.12 395.27h.5M387.21 394.25h.5M383.04 394.52h.5M388.18 385.48h.5M391.49 391.06h.5M384.46 390.47h.5M394.95 394.76h.5M395.02 386.34h.5M394.15 386.76h.5M396.63 391.68h.5M388.99 389.37h.5M396.31 389.03h.5M386.79 390.42h.5M387.08 390.02h.5M392.81 393.86h.5M375.60 390.25h.5M377.84 395.23h.5M378.28 393.24h.5M389.09 391.52h.5M372.96 397.29h.5M386.81 393.94h.5M396.04 388.41h.5M380.31 397.36h.5M387.30 394.83h.5M386.79 396.04h.5M392.57 391.46h.5M393.09 390.14h.5M397.66 389.53h.5M398.00 399.97h.5M374.48 397.30h.5M376.54 391.48h.5M393.14 392.94h.5M389.31 393.23h.5M386.43 390.77h.5M378.48 397.46h.5M387.80 397.99h.5M393.68 393.21h.5M379.51 390.86h.5M388.31 391.31h.5M385.63 384.18h.5M384.84 390.88h.5M384.25 390.67h.5M375.92 388.89h.5M399.32 388.60h.5M383.92 388.98h.5M386.70 390.00h.5M398.42 390.16h.5M391.41 400.09h.5M387.87 391.69h.5M365.89 390.60h.5M386.23 392.14h.5M389.79 388.10h.5M380.74 394.26h.5M385.92 391.84h.5M393.11 392.08h.5M389.18 388.16h.5M388.02 386.12h.5M386.97 396.05h.5M389.65 392.35h.5M385.94 390.89h.5M382.35 389.20h.5M374.25 391.25h.5M381.99 396.40h.5M378.88 390.56h.5M387.06 386.68h.5M400.11 394.12h.5M390.33 398.16h.5M391.87 390.77h.5M390.24 390.22h.5M391.78 387.43h.5M392.03 390.79h.5M384.80 390.50h.5M387.14 386.00h.5M392.72 391.12h.5M395.39 391.67h.5M387.07 387.74h.5M384.52 389.84h.5M369.44 390.80h.5M382.55 392.79h.5M396.08 390.78h.5M397.29 395.89h.5M394.02 390.68h.5M388.93 397.21h.5M400.08 395.57h.5M374.79 384.28h.5M398.56 393.71h.5M385.82 393.32h.5M387.81 396.75h.5M394.66 388.65h.5M382.28 395.16h.5M394.98 392.75h.5M390.83 387.66h.5M381.55 393.54h.5M374.01 393.43h.5M392.68 393.97h.5M394.74 398.13h.5M390.44 389.10h.5M374.97 384.34h.5M388.94 394.75h.5M375.24 392.39h.5M382.66 390.97h.5M389.86 391.94h.5M379.01 394.32h.5M387.16 385.59h.5M394.18 397.04h.5M385.18 397.14h.5M375.95 390.98h.5M398.27 396.17h.5M392.20 395.34h.5M385.01 394.21h.5M395.63 394.97h.5M391.13 394.60h.5M391.56 393.84h.5M376.20 393.81h.5M380.92 390.57h.5M388.64 392.64h.5M378.00 390.05h.5M390.06 390.45h.5M388.41 392.58h.5M389.84 390.00h.5M389.60 393.71h.5M378.36 394.41h.5M380.44 393.03h.5M392.92 393.93h.5M379.06 388.77h.5M379.04 393.70h.5M389.23 385.82h.5M393.89 395.74h.5M384.12 391.54h.5M390.07 388.44h.5M384.85 393.64h.5M385.49 391.77h.5M389.02 397.49h.5M390.20 392.92h.5M384.48 395.90h.5M388.67 391.70h.5M398.33 396.25h.5M380.98 390.76h.5M398.03 390.23h.5M400.30 391.26h.5M373.08 386.96h.5M384.77 389.88h.5M382.41 392.31h.5M389.13 389.71h.5M384.04 396.22h.5M395.54 395.07h.5M397.75 391.15h.5M394.94 397.25h.5M381.75 396.29h.5M369.10 385.46h.5M376.78 388.47h.5M380.62 390.16h.5M394.42 389.35h.5M385.24 387.46h.5M375.73 391.16h.5M382.30 394.71h.5M388.98 385.75h.5M393.70 387.79h.5M384.99 388.30h.5M381.67 389.76h.5M378.85 389.31h.5M385.86 394.13h.5M393.51 397.65h.5M375.51 390.44h.5M397.40 387.99h.5M386.72 394.14h.5M399.93 393.64h.5M390.53 391.20h.5M392.80 392.07h.5M390.64 389.59h.5M387.00 388.81h.5M379.56 388.92h.5M381.48 389.50h.5M383.52 386.69h.5M390.34 392.76h.5M399.92 383.91h.5M377.02 388.50h.5M381.22 391.91h.5M381.39 389.16h.5M393.58 391.09h.5M375.49 394.84h.5M386.69 396.20h.5M387.40 390.55h.5M389.88 395.99h.5M388.82 390.70h.5M377.26 392.32h.5M379.63 391.38h.5M377.23 388.83h.5M380.45 389.50h.5M379.14 395.77h.5M393.92 390.60h.5M379.90 395.31h.5M386.04 393.58h.5M395.67 390.35h.5M391.30 393.18h.5M384.60 391.13h.5M383.13 380.48h.5M384.91 397.14h.5M395.77 400.68h.5M388.49 394.62h.5M383.13 389.22h.5M381.19 393.20h.5M393.89 385.39h.5M393.32 394.70h.5M394.00 387.48h.5M389.44 392.77h.5M377.65 387.95h.5M384.13 385.26h.5M383.15 396.17h.5M390.90 388.89h.5M388.20 392.89h.5M392.41 388.41h.5M390.78 389.49h.5M384.06 388.88h.5M381.73 393.29h.5M374.36 392.33h.5M385.70 391.45h.5M399.86 386.98h.5M392.22 391.36h.5M390.64 388.05h.5M383.31 387.56h.5M384.77 396.77h.5M383.78 399.80h.5M400.24 392.68h.5M387.95 392.70h.5M382.08 393.62h.5M388.58 385.24h.5M388.14 393.57h.5M388.27 392.69h.5M387.90 390.07h.5M395.91 396.28h.5M385.52 394.30h.5M379.55 395.77h.5M381.55 391.80h.5M395.12 390.02h.5M388.17 394.97h.5M383.64 392.78h.5M396.22 392.50h.5M381.91 390.37h.5M385.94 391.72h.5M392.65 386.57h.5M387.30 392.32h.5M399.35 386.88h.5M381.09 394.57h.5M387.51 395.24h.5M387.51 389.54h.5M387.41 395.69h.5M393.34 392.30h.5M388.94 395.16h.5M392.56 392.46h.5M393.38 391.98h.5M379.38 394.60h.5M396.98 396.20h.5M387.35 387.74h.5M390.94 389.76h.5M373.65 392.15h.5M382.03 391.89h.5M384.16 394.32h.5M394.31 393.29h.5M396.76 389.93h.5M393.46 395.01h.5M384.83 392.05h.5M378.80 390.23h.5M390.04 387.55h.5M373.11 390.50h.5M381.48 388.54h.5M386.56 387.19h.5M396.07 395.38h.5M388.07 389.74h.5M387.38 391.32h.5M381.85 389.55h.5M391.02 388.73h.5M383.00 390.20h.5M380.29 392.48h.5M378.17 394.64h.5M393.19 391.55h.5M394.18 395.17h.5M384.88 391.47h.5M383.23 390.46h.5M384.89 391.91h.5M391.66 398.71h.5M390.31 394.68h.5M386.07 396.95h.5M388.70 391.08h.5M385.69 391.73h.5M384.84 392.21h.5M382.11 385.68h.5M386.98 388.40h.5M382.00 392.09h.5M390.35 393.13h.5M396.38 388.58h.5M382.85 388.81h.5M380.21 389.53h.5M381.42 393.82h.5M379.76 398.64h.5M372.35 394.27h.5M376.01 390.06h.5M378.62 391.62h.5M391.28 390.28h.5M382.77 388.43h.5M381.39 388.87h.5M382.61 391.79h.5M394.24 389.35h.5M372.55 390.40h.5M393.77 388.29h.5M390.33 387.87h.5M378.14 392.27h.5M373.77 390.25h.5M367.38 388.19h.5M390.36 389.94h.5M382.26 393.24h.5M380.67 387.86h.5M384.44 391.28h.5M388.55 390.94h.5M396.32 393.31h.5M386.44 398.86h.5M375.86 392.28h.5M381.67 398.35h.5M389.61 394.13h.5M390.40 396.18h.5M383.38 394.39h.5M374.65 393.30h.5M395.91 394.27h.5M391.90 385.52h.5M388.07 390.41h.5M398.77 393.21h.5M392.29 395.66h.5M391.35 387.13h.5M381.43 384.81h.5M396.44 390.86h.5M377.87 393.05h.5M384.24 390.51h.5M397.11 384.92h.5M376.47 391.16h.5M385.55 395.08h.5M384.74 393.14h.5M400.25 387.11h.5M376.79 389.20h.5M385.83 387.97h.5M389.29 389.00h.5M395.84 393.09h.5M392.44 392.17h.5M388.92 386.27h.5M385.71 385.78h.5M397.24 387.84h.5M380.59 390.01h.5M399.85 391.90h.5M383.29 391.38h.5M383.25 389.18h.5M392.65 390.01h.5M393.99 393.38h.5M394.29 396.50h.5M395.30 388.44h.5M397.36 383.56h.5M396.83 395.35h.5M379.43 395.55h.5M373.37 394.69h.5M384.33 390.56h.5M386.09 389.66h.5M392.87 391.31h.5M387.05 391.63h.5M384.67 388.24h.5M391.84 394.15h.5M378.57 394.53h.5M396.83 392.03h.5M398.32 384.55h.5M397.66 389.11h.5M389.63 388.54h.5M392.38 386.80h.5M385.19 392.85h.5M386.56 389.07h.5M398.53 386.54h.5M388.05 390.94h.5M384.68 393.56h.5M389.19 390.90h.5M392.31 391.23h.5M391.39 395.57h.5M389.23 391.70h.5M383.17 396.02h.5M394.63 393.19h.5M389.72 388.83h.5M388.08 392.45h.5M378.77 388.44h.5M386.61 397.63h.5M390.17 386.85h.5M396.93 394.36h.5M392.76 389.75h.5M386.60 398.50h.5M373.86 386.45h.5M384.26 388.58h.5M382.48 393.83h.5M397.43 386.94h.5M391.76 394.26h.5M389.38 395.85h.5M396.20 388.91h.5M388.53 392.39h.5M378.54 390.77h.5M395.14 392.77h.5M387.73 399.81h.5M392.20 394.59h.5M381.02 395.43h.5M384.23 390.95h.5M384.41 387.42h.5M391.82 387.56h.5M393.76 388.94h.5M397.06 392.60h.5M396.32 387.97h.5M391.81 393.91h.5M389.65 391.17h.5M383.17 381.08h.5M391.36 387.46h.5M379.73 392.73h.5M367.64 389.08h.5M392.71 391.62h.5M385.95 389.02h.5M388.90 386.58h.5M383.33 394.12h.5M380.69 391.12h.5M384.78 387.51h.5M372.74 388.73h.5M381.77 388.21h.5M387.15 392.54h.5M392.31 392.70h.5M378.79 396.03h.5M390.25 393.92h.5M377.93 395.05h.5M396.05 389.68h.5M388.85 391.38h.5M392.62 392.07h.5M389.64 388.62h.5M378.66 391.52h.5M391.64 395.89h.5M382.79 386.25h.5M390.42 391.43h.5M381.10 396.45h.5M393.00 391.54h.5M377.27 395.64h.5M396.23 394.27h.5M399.98 388.21h.5M380.11 394.40h.5M391.03 391.43h.5M383.98 394.91h.5M389.61 394.40h.5M379.03 391.77h.5M390.85 394.89h.5M375.05 390.92h.5M382.70 391.60h.5M386.62 392.96h.5M393.67 392.46h.5M387.15 394.45h.5M398.31 391.80h.5M381.64 397.34h.5M394.66 398.69h.5M384.58 390.33h.5M386.39 391.30h.5M376.57 394.33h.5M376.37 382.56h.5M387.33 388.12h.5M389.69 387.82h.5M377.40 384.91h.5M378.12 390.65h.5M382.79 396.00h.5M389.57 385.49h.5M374.36 386.65h.5M383.28 391.72h.5M383.03 389.83h.5M380.53 392.16h.5M393.73 388.10h.5M397.23 388.85h.5M385.52 397.06h.5M392.31 391.75h.5M373.05 391.87h.5M384.99 390.88h.5M396.12 389.81h.5M388.96 390.59h.5M388.45 396.03h.5M389.58 388.33h.5M381.83 395.43h.5M391.92 388.82h.5M386.76 391.92h.5M392.12 388.46h.5M388.48 387.35h.5M381.80 390.86h.5M398.09 391.31h.5M400.42 392.86h.5M397.62 391.09h.5M373.95 384.46h.5M384.43 397.43h.5M386.52 389.96h.5M392.40 390.39h.5M384.82 392.25h.5M390.78 389.69h.5M381.51 396.87h.5M381.09 388.65h.5M386.31 391.14h.5M389.98 396.73h.5M397.72 391.47h.5M388.65 394.80h.5M386.76 392.16h.5M379.34 392.92h.5M387.08 386.90h.5M389.56 398.88h.5M390.33 388.98h.5M397.55 392.77h.5M389.18 396.58h.5M394.72 398.46h.5M381.60 390.18h.5M387.05 392.27h.5M378.68 392.55h.5M377.01 389.75h.5M385.79 392.45h.5M390.19 389.12h.5M390.33 392.60h.5M387.01 391.70h.5M383.82 397.55h.5M398.23 392.44h.5M397.86 388.73h.5M383.75 390.53h.5M391.13 390.53h.5M380.70 386.68h.5M379.27 394.68h.5M391.41 386.99h.5M384.18 391.05h.5M388.04 390.35h.5M387.44 394.14h.5M394.69 389.38h.5M386.44 389.13h.5M384.37 391.28h.5M385.29 393.56h.5M380.64 392.87h.5M393.35 390.58h.5M385.22 393.59h.5M384.85 390.52h.5M389.29 383.49h.5M393.04 392.40h.5M392.15 387.09h.5M384.51 393.05h.5M391.94 389.66h.5M384.23 396.61h.5M389.75 395.65h.5M377.44 393.00h.5M383.50 389.96h.5M397.39 388.14h.5M380.51 389.32h.5M385.86 391.70h.5M390.93 395.67h.5M391.29 397.38h.5M395.83 393.40h.5M386.60 396.11h.5M385.41 394.84h.5M387.97 389.78h.5M392.77 393.85h.5M390.06 395.18h.5M388.61 389.22h.5M388.34 397.71h.5M380.35 385.66h.5M387.74 388.26h.5M397.95 392.14h.5M380.64 391.41h.5M380.55 393.20h.5M394.81 395.57h.5M395.73 391.56h.5M396.73 393.21h.5M378.00 396.06h.5M380.98 389.69h.5M375.86 388.90h.5M371.63 387.58h.5M381.36 387.72h.5M384.76 394.20h.5M385.35 393.03h.5M396.14 389.63h.5M398.98 391.46h.5M387.33 392.77h.5M398.04 387.64h.5M394.75 390.03h.5M388.41 388.31h.5M368.43 395.43h.5M393.51 388.16h.5M380.77 387.68h.5M387.39 398.28h.5M386.65 386.06h.5M393.33 388.64h.5M375.60 392.87h.5M387.66 392.16h.5M393.14 394.73h.5M371.81 392.16h.5M396.48 395.66h.5M371.36 380.75h.5M370.32 393.93h.5M382.88 396.47h.5M383.22 384.05h.5M370.28 390.21h.5M397.22 400.40h.5M371.82 394.23h.5M384.79 384.70h.5M369.32 400.89h.5M379.61 391.08h.5M392.04 393.76h.5M395.30 386.82h.5M380.40 393.12h.5M390.49 387.26h.5M362.07 396.74h.5M397.47 397.23h.5M384.06 380.91h.5M389.91 393.09h.5M363.11 387.75h.5M399.28 393.59h.5M383.88 399.06h.5M395.58 394.86h.5M383.36 394.11h.5M400.10 393.47h.5M368.20 390.55h.5M381.85 394.09h.5M379.65 395.99h.5M392.26 386.96h.5M392.15 392.73h.5M390.52 382.51h.5M362.26 397.40h.5M399.55 383.92h.5M367.82 395.79h.5M397.11 398.21h.5M394.87 393.10h.5M387.08 393.98h.5M381.00 390.76h.5M394.15 390.97h.5M378.86 389.32h.5M380.65 388.99h.5M384.52 390.30h.5M400.71 383.20h.5M380.07 396.46h.5M380.10 389.18h.5M393.46 391.15h.5M372.35 392.53h.5M394.59 381.57h.5M398.44 381.43h.5M395.44 383.81h.5M389.00 391.39h.5M400.06 391.20h.5M379.90 387.21h.5M388.74 390.22h.5" stroke="#000" stroke-width=".6" stroke-opacity=".5" fill="none"/>
<path d="M363.00 363.80 Q363.00 362.40 364.40 362.40 L381.40 362.40 Q383.20 362.40 383.00 364.60 L371.00 379.90 Q370.60 380.40 369.80 380.40 L364.00 380.40 Q363.00 380.40 363.00 379.40 Z" stroke="#c8324f" stroke-width="0.9" fill="none" stroke-linejoin="round"/>
<rect x="374.70" y="378.70" width="25.8" height="21.6" fill="none" stroke="#4b6aa6" stroke-width=".8"/>
<text x="384.60" y="367.20" font-size="6.27" fill="#c8324f" stroke="#c8324f" stroke-width="0.05">0.9</text>
<text x="400.90" y="376.80" font-size="6.27" text-anchor="end" fill="#4b6aa6" stroke="#4b6aa6" stroke-width="0.05">90.1</text>
<rect x="408.9" y="361.2" width="43.3" height="42.9" fill="#fff" stroke="#1f1f1f" stroke-width="1"/>
<path d="M405.70 365.20H408.90M407.30 368.35H408.90M407.30 370.45H408.90M407.30 371.71H408.90M407.30 372.76H408.90M407.30 373.60H408.90M407.30 374.23H408.90M405.70 375.40H408.90M407.30 378.55H408.90M407.30 380.65H408.90M407.30 381.91H408.90M407.30 382.96H408.90M407.30 383.80H408.90M407.30 384.43H408.90M405.70 386.50H408.90M407.30 389.65H408.90M407.30 391.75H408.90M407.30 393.01H408.90M407.30 394.06H408.90M407.30 394.90H408.90M407.30 395.53H408.90M405.70 396.00H408.90M407.30 399.15H408.90M407.30 401.25H408.90M407.30 402.51H408.90M407.30 403.56H408.90M410.90 404.10V407.30M413.90 404.10V405.70M415.90 404.10V405.70M417.10 404.10V405.70M418.10 404.10V405.70M418.90 404.10V405.70M419.50 404.10V405.70M418.10 404.10V407.30M421.10 404.10V405.70M423.10 404.10V405.70M424.30 404.10V405.70M425.30 404.10V405.70M426.10 404.10V405.70M426.70 404.10V405.70M428.10 404.10V407.30M431.10 404.10V405.70M433.10 404.10V405.70M434.30 404.10V405.70M435.30 404.10V405.70M436.10 404.10V405.70M436.70 404.10V405.70M438.90 404.10V407.30M441.90 404.10V405.70M443.90 404.10V405.70M445.10 404.10V405.70M446.10 404.10V405.70M446.90 404.10V405.70M447.50 404.10V405.70M449.40 404.10V407.30" stroke="#1f1f1f" stroke-width="0.8" fill="none" />
<ellipse cx="418.20" cy="394.70" rx="1.15" ry="4.40" fill="url(#bg)" opacity="0.90"/>
<ellipse cx="438.60" cy="392.40" rx="10.20" ry="4.76" fill="url(#bg)" opacity="0.7"/>
<path d="M418.73 389.48h.5M418.63 393.83h.5M418.31 390.23h.5M418.66 389.28h.5M417.41 397.41h.5M418.40 388.73h.5M418.68 393.05h.5M418.80 396.79h.5M417.17 387.40h.5M417.87 387.51h.5M418.74 387.27h.5M419.05 391.23h.5M419.08 389.62h.5M418.73 390.86h.5M419.24 388.49h.5M418.28 392.25h.5M418.64 398.64h.5M418.15 395.41h.5M417.64 398.44h.5M417.92 398.30h.5M417.88 387.76h.5M417.01 393.46h.5M418.30 398.68h.5M418.29 396.59h.5M419.93 394.25h.5M418.60 387.64h.5M419.66 396.35h.5M418.13 395.72h.5M418.09 397.97h.5M418.30 390.63h.5M417.46 392.81h.5M419.19 393.25h.5M417.64 391.74h.5M418.45 397.00h.5M419.64 372.53h.5M418.82 372.93h.5M418.46 382.25h.5M417.86 371.43h.5M418.47 372.49h.5M420.97 372.60h.5M419.04 367.31h.5M419.27 376.61h.5M419.44 365.45h.5M420.95 372.90h.5M420.90 382.96h.5M419.99 370.24h.5M418.14 377.31h.5M415.55 380.29h.5M420.66 377.73h.5M418.04 375.21h.5M416.08 368.68h.5M435.94 390.22h.5M449.80 393.91h.5M423.02 396.04h.5M442.16 391.81h.5M434.16 398.86h.5M440.43 393.34h.5M428.37 390.76h.5M444.75 392.92h.5M435.90 391.58h.5M428.41 384.99h.5M442.37 388.07h.5M428.52 393.48h.5M444.95 391.45h.5M446.08 392.65h.5M418.25 397.50h.5M431.70 397.35h.5M436.96 392.29h.5M435.73 389.42h.5M442.80 397.63h.5M447.33 390.80h.5M442.13 395.73h.5M442.63 388.52h.5M433.37 392.94h.5M440.35 390.79h.5M430.19 388.74h.5M438.85 386.73h.5M446.25 394.50h.5M440.24 393.13h.5M433.07 390.79h.5M444.71 390.92h.5M449.28 395.63h.5M443.36 391.77h.5M432.70 392.03h.5M432.47 391.37h.5M436.46 390.77h.5M446.31 389.77h.5M433.85 396.13h.5M440.50 394.03h.5M434.66 393.51h.5M447.48 392.56h.5M441.64 396.25h.5M442.76 396.30h.5M430.94 387.09h.5M431.41 393.81h.5M434.35 386.30h.5M450.71 396.52h.5M435.26 390.47h.5M434.20 394.72h.5M441.78 392.92h.5M447.86 389.97h.5M430.89 392.50h.5M438.47 392.79h.5M441.51 387.74h.5M449.26 386.99h.5M440.98 393.58h.5M444.24 393.17h.5M433.36 391.89h.5M429.74 391.98h.5M437.27 386.72h.5M442.36 396.51h.5M438.56 391.23h.5M431.44 390.21h.5M434.01 392.00h.5M444.01 393.07h.5M448.66 393.71h.5M440.32 383.08h.5M437.72 393.30h.5M428.98 392.29h.5M434.12 391.82h.5M438.52 391.62h.5M438.39 393.57h.5M440.82 390.43h.5M444.79 392.65h.5M441.20 397.84h.5M449.77 399.19h.5M437.22 393.75h.5M441.95 392.79h.5M437.80 395.05h.5M446.28 399.24h.5M435.25 393.91h.5M433.82 391.65h.5M423.18 399.01h.5M428.27 392.81h.5M427.03 391.44h.5M431.99 386.04h.5M431.86 391.77h.5M437.95 386.50h.5M442.93 391.50h.5M431.27 397.14h.5M434.14 393.17h.5M448.73 392.64h.5M438.04 395.42h.5M435.89 392.68h.5M437.75 391.29h.5M443.68 393.31h.5M448.06 393.67h.5M429.43 393.68h.5M436.86 391.69h.5M445.11 393.74h.5M428.18 398.64h.5M437.83 387.44h.5M436.55 393.95h.5M431.33 389.81h.5M426.92 393.29h.5M435.24 397.14h.5M440.53 393.20h.5M434.68 395.47h.5M429.66 393.32h.5M441.89 390.05h.5M430.88 396.01h.5M450.77 393.65h.5M450.80 393.87h.5M437.48 391.22h.5M430.66 395.27h.5M434.97 390.49h.5M441.12 393.94h.5M433.84 393.09h.5M437.67 392.86h.5M437.77 391.15h.5M422.68 390.61h.5M446.55 391.43h.5M439.85 394.31h.5M432.08 392.67h.5M436.91 393.56h.5M442.68 392.67h.5M437.29 395.37h.5M439.50 387.89h.5M446.95 393.84h.5M434.81 392.26h.5M432.40 392.86h.5M428.96 395.54h.5M441.78 389.37h.5M441.99 387.96h.5M435.16 389.35h.5M443.21 394.57h.5M429.78 392.99h.5M441.97 391.38h.5M447.43 397.06h.5M436.35 388.94h.5M446.61 384.80h.5M438.40 388.02h.5M438.51 390.67h.5M430.07 394.14h.5M446.30 388.21h.5M442.94 392.72h.5M434.17 390.78h.5M442.31 395.87h.5M436.76 384.82h.5M443.88 393.64h.5M425.81 390.80h.5M438.53 391.50h.5M440.59 389.67h.5M442.85 383.95h.5M440.94 390.58h.5M437.79 394.41h.5M447.58 389.25h.5M437.92 389.24h.5M438.87 390.59h.5M430.65 395.84h.5M440.92 392.40h.5M447.32 387.33h.5M441.17 397.34h.5M436.20 389.69h.5M433.30 396.18h.5M445.57 393.39h.5M444.69 390.31h.5M435.99 394.93h.5M432.32 393.04h.5M438.36 389.75h.5M439.90 388.43h.5M434.27 386.26h.5M430.14 389.64h.5M440.91 392.39h.5M430.21 391.58h.5M441.17 385.82h.5M435.17 395.87h.5M428.99 389.57h.5M433.54 391.93h.5M442.43 386.94h.5M442.98 384.20h.5M432.39 393.59h.5M430.74 389.71h.5M434.88 397.26h.5M431.71 395.28h.5M433.00 392.29h.5M431.70 391.14h.5M431.26 387.68h.5M427.71 395.12h.5M433.80 388.69h.5M445.41 391.71h.5M436.04 389.91h.5M438.28 391.29h.5M435.40 391.70h.5M443.40 391.64h.5M446.97 395.28h.5M431.44 389.24h.5M429.70 389.88h.5M443.02 391.18h.5M434.94 392.54h.5M423.73 393.23h.5M436.95 394.29h.5M436.22 395.32h.5M445.27 391.30h.5M442.01 389.43h.5M433.46 388.81h.5M436.80 388.43h.5M430.94 391.52h.5M428.45 394.02h.5M432.02 391.44h.5M436.12 395.35h.5M442.16 391.45h.5M434.22 394.86h.5M437.23 388.94h.5M439.01 394.15h.5M437.90 392.36h.5M447.96 390.57h.5M443.21 397.05h.5M449.45 388.61h.5M441.68 392.62h.5M444.90 395.87h.5M441.86 388.96h.5M443.32 394.62h.5M439.49 395.35h.5M438.06 394.72h.5M439.82 389.95h.5M444.74 390.47h.5M442.41 388.98h.5M439.79 393.92h.5M445.88 388.84h.5M434.60 392.19h.5M431.36 394.10h.5M442.39 389.65h.5M442.00 393.89h.5M446.46 391.14h.5M436.39 390.91h.5M440.08 387.59h.5M435.79 396.84h.5M426.20 394.98h.5M443.38 390.90h.5M433.07 395.78h.5M435.96 393.18h.5M436.80 388.76h.5M445.16 394.28h.5M432.02 395.68h.5M429.94 388.26h.5M443.97 390.90h.5M438.27 397.19h.5M431.08 394.16h.5M435.57 392.55h.5M436.78 389.79h.5M438.61 389.38h.5M438.38 389.28h.5M436.43 392.65h.5M428.95 392.04h.5M442.92 392.61h.5M444.45 389.15h.5M442.16 393.22h.5M419.94 392.22h.5M444.11 392.04h.5M438.51 391.84h.5M437.23 389.00h.5M433.71 385.43h.5M439.74 394.19h.5M441.65 392.01h.5M427.81 388.53h.5M449.47 393.55h.5M442.66 388.97h.5M435.08 393.07h.5M433.11 395.95h.5M433.20 390.90h.5M430.59 393.35h.5M446.85 392.90h.5M438.20 391.12h.5M443.56 392.24h.5M449.93 391.41h.5M435.75 390.62h.5M425.60 392.95h.5M439.11 387.30h.5M430.49 388.92h.5M436.17 389.08h.5M443.32 395.94h.5M433.94 392.32h.5M431.21 396.32h.5M431.05 389.79h.5M438.29 389.73h.5M436.65 389.18h.5M437.70 390.35h.5M435.47 395.32h.5M434.32 393.53h.5M434.09 395.35h.5M433.22 389.24h.5M436.62 396.10h.5M435.58 389.54h.5M437.25 390.04h.5M439.98 390.13h.5M440.35 395.00h.5M441.53 396.88h.5M440.26 397.93h.5M446.65 391.40h.5M443.39 389.97h.5M436.92 391.97h.5M433.06 393.19h.5M437.68 398.38h.5M443.35 391.49h.5M433.82 390.58h.5M433.72 389.93h.5M438.33 388.08h.5M436.23 393.75h.5M434.42 388.79h.5M434.97 394.88h.5M433.23 397.02h.5M427.31 389.76h.5M442.27 396.38h.5M436.92 387.16h.5M436.40 389.45h.5M433.73 391.09h.5M434.29 392.11h.5M439.20 391.35h.5M426.51 391.68h.5M421.06 392.45h.5M435.46 389.38h.5M447.06 392.90h.5M435.03 393.66h.5M448.96 391.97h.5M437.27 390.44h.5M437.81 394.80h.5M432.25 395.48h.5M439.15 399.08h.5M439.53 396.12h.5M431.77 399.66h.5M438.83 392.01h.5M448.14 392.73h.5M430.19 394.13h.5M441.90 392.21h.5M435.23 387.31h.5M449.33 390.91h.5M440.65 390.72h.5M433.64 393.13h.5M432.50 395.14h.5M427.75 394.09h.5M446.07 390.91h.5M439.73 394.80h.5M435.45 391.57h.5M437.10 400.62h.5M432.95 391.74h.5M435.40 390.60h.5M432.26 390.27h.5M439.37 395.84h.5M448.99 388.35h.5M431.94 392.19h.5M431.93 389.91h.5M436.87 390.56h.5M432.81 392.94h.5M433.24 391.46h.5M440.45 394.48h.5M439.71 395.62h.5M439.33 387.77h.5M447.98 401.01h.5M443.67 397.20h.5M445.59 390.95h.5M442.46 390.18h.5M434.64 394.02h.5M438.95 390.28h.5M429.10 394.75h.5M438.39 392.74h.5M432.60 389.92h.5M438.07 386.60h.5M446.31 392.37h.5M445.54 395.23h.5M434.66 393.87h.5M431.07 389.52h.5M447.13 390.67h.5M433.31 393.75h.5M438.56 395.28h.5M430.06 391.53h.5M431.36 392.39h.5M436.62 389.44h.5M427.00 388.16h.5M444.52 391.18h.5M431.26 392.85h.5M431.07 395.13h.5M444.11 392.44h.5M434.65 386.72h.5M441.59 398.52h.5M439.70 390.66h.5M443.65 391.13h.5M430.43 391.98h.5M442.33 386.72h.5M445.22 397.30h.5M438.26 390.84h.5M429.11 393.96h.5M436.59 396.04h.5M448.64 396.12h.5M439.59 386.75h.5M447.07 390.84h.5M435.27 395.60h.5M441.54 389.13h.5M436.23 391.44h.5M437.45 388.72h.5M448.20 391.92h.5M442.74 395.56h.5M433.68 390.99h.5M444.15 397.38h.5M428.88 398.20h.5M434.76 391.75h.5M435.62 394.14h.5M437.18 392.20h.5M432.41 396.79h.5M440.81 392.20h.5M447.48 391.51h.5M439.40 391.87h.5M444.17 393.23h.5M427.40 394.10h.5M437.03 393.12h.5M444.79 391.50h.5M442.65 392.41h.5M437.91 390.80h.5M437.78 391.41h.5M443.65 385.32h.5M442.24 392.12h.5M431.63 394.75h.5M438.28 394.06h.5M447.29 393.02h.5M428.09 387.47h.5M438.13 388.67h.5M426.76 385.72h.5M434.94 384.97h.5M441.68 385.31h.5M444.24 390.87h.5M445.85 388.79h.5M435.51 395.71h.5M427.93 394.40h.5M447.99 389.31h.5M437.52 397.44h.5M448.22 397.33h.5M437.86 391.25h.5M437.42 391.21h.5M443.92 394.96h.5M441.91 390.28h.5M443.67 393.89h.5M440.07 396.14h.5M436.08 392.76h.5M445.77 390.08h.5M444.37 394.65h.5M448.38 396.35h.5M434.80 397.88h.5M435.55 388.76h.5M436.74 391.33h.5M432.72 395.40h.5M441.94 394.28h.5M429.57 397.98h.5M441.67 395.96h.5M440.92 393.55h.5M443.61 392.91h.5M447.66 390.84h.5M425.31 391.32h.5M438.51 393.66h.5M439.26 393.73h.5M441.56 391.90h.5M442.21 394.12h.5M433.57 387.05h.5M440.09 393.94h.5M445.65 395.83h.5M440.54 395.99h.5M434.88 390.99h.5M447.45 388.79h.5M438.50 389.22h.5M430.74 398.93h.5M427.10 397.85h.5M435.71 390.13h.5M427.81 393.10h.5M442.71 394.21h.5M432.71 397.45h.5M440.01 394.03h.5M442.53 394.16h.5M436.57 393.52h.5M433.99 393.22h.5M432.38 388.08h.5M434.79 391.98h.5M434.19 391.52h.5M435.10 392.58h.5M450.05 394.23h.5M444.19 395.47h.5M444.32 393.72h.5M444.17 395.71h.5M437.65 391.61h.5M438.59 392.28h.5M441.71 391.10h.5M435.99 393.16h.5M441.89 392.13h.5M429.02 391.70h.5M444.14 391.76h.5M446.80 390.91h.5M437.11 394.87h.5M446.21 391.55h.5M448.20 393.03h.5M441.28 397.90h.5M444.14 391.81h.5M438.30 389.71h.5M445.93 393.54h.5M450.82 396.16h.5M438.85 390.62h.5M436.67 396.26h.5M437.93 395.92h.5M446.71 396.99h.5M440.36 394.63h.5M430.49 393.51h.5M438.95 395.28h.5M427.40 391.53h.5M435.71 392.78h.5M437.87 391.45h.5M442.63 393.30h.5M446.13 400.07h.5M443.47 393.55h.5M448.28 388.30h.5M450.43 389.05h.5M435.73 392.66h.5M430.14 390.59h.5M439.84 393.73h.5M429.76 383.45h.5M443.06 387.46h.5M441.01 393.90h.5M443.94 390.78h.5M434.86 401.79h.5M438.13 389.40h.5M430.28 391.70h.5M449.85 394.59h.5M432.98 388.28h.5M434.75 392.41h.5M440.62 393.95h.5M445.94 388.44h.5M428.76 392.19h.5M442.57 390.79h.5M440.51 392.20h.5M450.48 391.35h.5M431.40 395.31h.5M448.62 388.95h.5M435.61 388.54h.5M429.75 390.72h.5M432.89 387.99h.5M435.28 392.00h.5M441.29 389.44h.5M420.24 391.77h.5M445.19 399.50h.5M435.88 391.03h.5M428.07 400.74h.5M429.83 389.68h.5M436.27 391.24h.5M437.64 394.82h.5M441.83 384.42h.5M447.30 390.72h.5M435.86 390.43h.5M434.84 390.31h.5M446.19 398.41h.5M436.36 390.88h.5M446.82 391.37h.5M443.38 388.94h.5M443.53 401.97h.5M441.64 391.07h.5M445.70 400.94h.5M410.77 390.38h.5M435.18 397.29h.5M419.15 396.99h.5M437.68 395.64h.5M424.86 399.62h.5M443.96 386.76h.5M434.29 396.26h.5M437.66 385.19h.5M410.47 398.62h.5M448.43 391.78h.5M433.98 396.38h.5M430.63 385.41h.5M432.08 399.71h.5M442.54 398.58h.5M419.44 383.00h.5M410.65 396.64h.5M419.87 391.83h.5M438.07 394.44h.5M436.60 399.65h.5M440.92 398.47h.5M435.97 392.68h.5M438.88 395.21h.5M446.26 389.82h.5M435.53 391.31h.5" stroke="#000" stroke-width=".6" stroke-opacity=".5" fill="none"/>
<path d="M413.30 363.80 Q413.30 362.40 414.70 362.40 L431.70 362.40 Q433.50 362.40 433.30 364.60 L421.30 379.90 Q420.90 380.40 420.10 380.40 L414.30 380.40 Q413.30 380.40 413.30 379.40 Z" stroke="#c8324f" stroke-width="0.9" fill="none" stroke-linejoin="round"/>
<rect x="425.00" y="378.70" width="25.8" height="21.6" fill="none" stroke="#4b6aa6" stroke-width=".8"/>
<text x="434.90" y="367.20" font-size="6.27" fill="#c8324f" stroke="#c8324f" stroke-width="0.05">0.3</text>
<text x="451.20" y="376.80" font-size="6.27" text-anchor="end" fill="#4b6aa6" stroke="#4b6aa6" stroke-width="0.05">48.4</text>
<rect x="458.8" y="361.2" width="43.3" height="42.9" fill="#fff" stroke="#1f1f1f" stroke-width="1"/>
<path d="M455.60 365.20H458.80M457.20 368.35H458.80M457.20 370.45H458.80M457.20 371.71H458.80M457.20 372.76H458.80M457.20 373.60H458.80M457.20 374.23H458.80M455.60 375.40H458.80M457.20 378.55H458.80M457.20 380.65H458.80M457.20 381.91H458.80M457.20 382.96H458.80M457.20 383.80H458.80M457.20 384.43H458.80M455.60 386.50H458.80M457.20 389.65H458.80M457.20 391.75H458.80M457.20 393.01H458.80M457.20 394.06H458.80M457.20 394.90H458.80M457.20 395.53H458.80M455.60 396.00H458.80M457.20 399.15H458.80M457.20 401.25H458.80M457.20 402.51H458.80M457.20 403.56H458.80M460.80 404.10V407.30M463.80 404.10V405.70M465.80 404.10V405.70M467.00 404.10V405.70M468.00 404.10V405.70M468.80 404.10V405.70M469.40 404.10V405.70M468.00 404.10V407.30M471.00 404.10V405.70M473.00 404.10V405.70M474.20 404.10V405.70M475.20 404.10V405.70M476.00 404.10V405.70M476.60 404.10V405.70M478.00 404.10V407.30M481.00 404.10V405.70M483.00 404.10V405.70M484.20 404.10V405.70M485.20 404.10V405.70M486.00 404.10V405.70M486.60 404.10V405.70M488.80 404.10V407.30M491.80 404.10V405.70M493.80 404.10V405.70M495.00 404.10V405.70M496.00 404.10V405.70M496.80 404.10V405.70M497.40 404.10V405.70M499.30 404.10V407.30" stroke="#1f1f1f" stroke-width="0.8" fill="none" />
<ellipse cx="467.70" cy="394.70" rx="1.15" ry="4.95" fill="url(#bg)" opacity="0.90"/>
<ellipse cx="488.00" cy="392.00" rx="7.14" ry="3.40" fill="url(#bg)" opacity="0.35"/>
<path d="M467.36 392.75h.5M467.28 393.20h.5M468.66 389.84h.5M467.78 396.83h.5M466.86 388.11h.5M468.22 388.66h.5M466.28 390.07h.5M467.76 395.20h.5M466.49 388.83h.5M468.55 389.66h.5M468.05 391.50h.5M468.14 395.58h.5M468.44 390.47h.5M466.46 392.46h.5M466.91 389.50h.5M468.06 396.60h.5M467.82 395.56h.5M468.38 388.20h.5M466.64 389.83h.5M466.72 395.68h.5M466.37 393.14h.5M468.04 391.62h.5M467.37 398.16h.5M466.75 391.55h.5M468.33 396.28h.5M466.73 389.41h.5M466.19 392.00h.5M467.17 393.90h.5M466.91 391.89h.5M468.07 391.77h.5M468.45 391.16h.5M468.67 396.64h.5M467.98 389.12h.5M467.95 397.62h.5M467.19 388.39h.5M468.14 389.73h.5M472.32 373.58h.5M467.99 379.59h.5M468.40 367.12h.5M468.84 378.37h.5M465.90 381.91h.5M471.26 367.75h.5M468.73 375.35h.5M469.20 374.78h.5M469.42 369.49h.5M467.98 372.91h.5M469.02 383.17h.5M469.69 368.12h.5M468.92 382.97h.5M471.46 381.93h.5M468.51 377.17h.5M468.63 367.71h.5M468.44 371.36h.5M466.43 372.64h.5M486.36 391.53h.5M491.56 389.72h.5M488.56 392.90h.5M489.52 392.69h.5M488.58 388.59h.5M478.50 390.79h.5M486.30 390.03h.5M484.54 391.18h.5M496.16 391.85h.5M491.94 393.57h.5M488.97 394.22h.5M485.53 391.67h.5M482.69 391.80h.5M492.30 390.11h.5M487.77 391.51h.5M487.90 391.17h.5M489.49 389.32h.5M488.77 395.79h.5M483.03 393.87h.5M484.89 390.81h.5M496.61 393.58h.5M491.07 395.73h.5M491.20 391.85h.5M477.45 393.64h.5M496.09 391.10h.5M482.52 388.27h.5M490.90 386.76h.5M489.90 393.88h.5M486.00 389.74h.5M486.82 395.51h.5M482.74 390.29h.5M490.59 390.67h.5M494.23 390.44h.5M482.46 388.75h.5M487.09 394.51h.5M488.20 390.76h.5M480.99 392.62h.5M484.97 397.19h.5M482.58 389.03h.5M482.12 392.46h.5M490.82 392.55h.5M493.59 393.60h.5M485.34 395.79h.5M484.46 392.52h.5M488.31 394.59h.5M487.93 392.79h.5M478.96 391.87h.5M488.76 395.41h.5M480.05 389.39h.5M492.02 397.20h.5M488.80 387.36h.5M479.79 391.22h.5M483.96 393.13h.5M493.02 393.79h.5M483.71 390.50h.5M487.21 392.98h.5M490.72 391.17h.5M492.92 393.64h.5M486.69 392.49h.5M495.52 393.49h.5M486.71 391.31h.5M492.56 392.90h.5M488.76 390.43h.5M486.90 392.41h.5M496.31 389.18h.5M488.68 389.98h.5M481.68 397.13h.5M482.17 394.75h.5M492.91 393.10h.5M488.36 391.96h.5M490.43 392.92h.5M490.75 393.48h.5M480.50 389.22h.5M487.95 391.96h.5M481.82 394.16h.5M490.39 392.73h.5M492.98 393.44h.5M487.57 390.72h.5M493.48 390.99h.5M484.68 389.96h.5M491.33 392.63h.5M487.37 394.17h.5M484.25 393.89h.5M485.69 391.72h.5M487.19 392.55h.5M494.58 390.73h.5M492.90 394.80h.5M487.37 390.62h.5M482.80 391.91h.5M488.69 389.97h.5M490.16 392.63h.5M492.70 396.70h.5M492.85 390.21h.5M487.50 389.19h.5M486.17 388.93h.5M493.39 387.22h.5M490.90 392.35h.5M480.94 393.79h.5M494.15 396.00h.5M486.91 393.73h.5M489.03 395.25h.5M488.08 394.53h.5M483.39 390.58h.5M483.05 391.66h.5M482.23 392.39h.5M485.44 388.95h.5M489.20 394.57h.5M490.48 392.81h.5M487.00 391.65h.5M480.68 396.41h.5M480.31 390.07h.5M483.26 389.66h.5M488.79 390.40h.5M485.50 392.83h.5M482.46 389.57h.5M490.21 390.94h.5M479.50 393.37h.5M481.34 392.00h.5M488.12 392.67h.5M489.33 391.12h.5M487.92 388.36h.5M489.30 387.84h.5M491.43 390.39h.5M492.11 391.89h.5M490.44 391.00h.5M486.88 393.09h.5M491.06 391.16h.5M475.29 392.33h.5M491.36 394.85h.5M486.84 394.39h.5M471.35 391.11h.5M485.06 396.62h.5M486.89 397.77h.5M488.22 391.05h.5M485.30 390.16h.5M488.63 392.35h.5M483.39 395.96h.5M492.98 391.34h.5M490.49 391.64h.5M485.68 390.12h.5M484.93 395.96h.5M495.95 391.74h.5M486.53 394.56h.5M484.08 393.67h.5M480.87 392.92h.5M491.52 393.88h.5M495.45 394.72h.5M486.04 388.96h.5M477.07 389.65h.5M487.35 390.76h.5M490.08 392.31h.5M487.13 392.86h.5M493.37 392.18h.5M492.54 395.23h.5M489.09 393.62h.5M489.73 394.72h.5M492.25 392.57h.5M493.75 394.78h.5M489.24 389.36h.5M496.44 392.64h.5M491.63 392.53h.5M486.80 389.47h.5M488.31 391.66h.5M490.71 391.46h.5M488.01 393.80h.5M488.23 390.78h.5M490.48 391.44h.5M483.36 389.72h.5M478.91 389.74h.5M467.11 386.29h.5M481.15 390.51h.5M484.83 394.48h.5M477.10 398.39h.5M489.39 382.29h.5M485.83 388.08h.5M490.72 399.28h.5M474.26 392.55h.5M476.96 386.07h.5M491.74 395.54h.5M480.41 390.49h.5M475.70 389.37h.5M484.15 391.39h.5M492.32 392.91h.5M485.81 392.52h.5M491.56 394.40h.5M474.53 391.32h.5M489.73 388.92h.5M473.68 388.01h.5M475.67 391.20h.5M484.81 394.27h.5M469.68 393.95h.5M493.17 402.90h.5M483.64 395.14h.5M471.25 396.49h.5M500.31 393.18h.5M480.96 398.24h.5M477.92 399.39h.5M476.96 394.03h.5M488.82 392.85h.5M481.14 387.92h.5M498.09 393.95h.5M478.57 386.73h.5M492.76 397.62h.5M485.68 390.30h.5M491.11 394.11h.5M496.66 391.47h.5M480.15 391.79h.5M474.57 387.61h.5M481.48 391.41h.5M486.77 386.27h.5M483.09 400.17h.5M471.35 390.58h.5M482.02 394.62h.5M479.27 401.36h.5M481.40 393.10h.5M487.47 397.72h.5M489.84 386.41h.5M486.59 389.57h.5M496.04 394.25h.5M489.21 391.71h.5M479.98 396.37h.5M493.98 401.31h.5M483.93 396.66h.5M477.02 394.33h.5M486.24 387.71h.5M480.89 392.52h.5M484.21 390.91h.5M483.70 392.05h.5" stroke="#000" stroke-width=".6" stroke-opacity=".5" fill="none"/>
<path d="M463.20 363.80 Q463.20 362.40 464.60 362.40 L481.60 362.40 Q483.40 362.40 483.20 364.60 L471.20 379.90 Q470.80 380.40 470.00 380.40 L464.20 380.40 Q463.20 380.40 463.20 379.40 Z" stroke="#c8324f" stroke-width="0.9" fill="none" stroke-linejoin="round"/>
<rect x="474.90" y="378.70" width="25.8" height="21.6" fill="none" stroke="#4b6aa6" stroke-width=".8"/>
<text x="484.80" y="367.20" font-size="6.27" fill="#c8324f" stroke="#c8324f" stroke-width="0.05">0.1</text>
<text x="501.10" y="376.80" font-size="6.27" text-anchor="end" fill="#4b6aa6" stroke="#4b6aa6" stroke-width="0.05">9.5</text>
<rect x="259.8" y="411.5" width="43.3" height="42.9" fill="#fff" stroke="#1f1f1f" stroke-width="1"/>
<path d="M256.60 415.50H259.80M258.20 418.65H259.80M258.20 420.75H259.80M258.20 422.01H259.80M258.20 423.06H259.80M258.20 423.90H259.80M258.20 424.53H259.80M256.60 425.70H259.80M258.20 428.85H259.80M258.20 430.95H259.80M258.20 432.21H259.80M258.20 433.26H259.80M258.20 434.10H259.80M258.20 434.73H259.80M256.60 436.80H259.80M258.20 439.95H259.80M258.20 442.05H259.80M258.20 443.31H259.80M258.20 444.36H259.80M258.20 445.20H259.80M258.20 445.83H259.80M256.60 446.30H259.80M258.20 449.45H259.80M258.20 451.55H259.80M258.20 452.81H259.80M258.20 453.86H259.80M261.80 454.40V457.60M264.80 454.40V456.00M266.80 454.40V456.00M268.00 454.40V456.00M269.00 454.40V456.00M269.80 454.40V456.00M270.40 454.40V456.00M269.00 454.40V457.60M272.00 454.40V456.00M274.00 454.40V456.00M275.20 454.40V456.00M276.20 454.40V456.00M277.00 454.40V456.00M277.60 454.40V456.00M279.00 454.40V457.60M282.00 454.40V456.00M284.00 454.40V456.00M285.20 454.40V456.00M286.20 454.40V456.00M287.00 454.40V456.00M287.60 454.40V456.00M289.80 454.40V457.60M292.80 454.40V456.00M294.80 454.40V456.00M296.00 454.40V456.00M297.00 454.40V456.00M297.80 454.40V456.00M298.40 454.40V456.00M300.30 454.40V457.60" stroke="#1f1f1f" stroke-width="0.8" fill="none" />
<ellipse cx="268.80" cy="433.50" rx="1.15" ry="17.60" fill="url(#bg)" opacity="1.00"/>
<path d="M268.54 430.87h.5M269.87 441.23h.5M268.70 441.59h.5M268.32 424.03h.5M268.23 431.16h.5M268.25 434.82h.5M269.00 440.90h.5M270.16 436.68h.5M268.59 442.27h.5M268.10 417.20h.5M268.78 441.88h.5M268.83 446.23h.5M268.88 444.77h.5M268.37 448.63h.5M269.49 427.18h.5M268.20 427.14h.5M268.10 445.91h.5M268.14 426.45h.5M268.82 448.99h.5M270.17 431.97h.5M268.02 414.24h.5M269.34 441.21h.5M269.25 436.07h.5M267.99 416.05h.5M268.36 425.84h.5M268.53 432.77h.5M269.01 422.46h.5M268.31 447.37h.5M268.23 442.44h.5M268.82 443.57h.5M268.19 432.81h.5M270.05 424.90h.5M269.34 416.11h.5M269.11 426.71h.5M268.39 446.29h.5M269.18 413.98h.5M269.33 436.28h.5M269.68 441.99h.5M268.13 419.93h.5M269.44 449.20h.5M268.99 425.86h.5M269.35 414.07h.5M270.63 448.41h.5M269.78 425.70h.5M268.80 414.40h.5M268.94 435.08h.5M269.26 439.25h.5M268.76 420.73h.5M268.85 424.86h.5M269.01 424.22h.5M268.98 427.96h.5M269.23 416.16h.5M268.62 426.53h.5M268.95 415.51h.5M268.44 415.97h.5M269.94 426.66h.5M268.10 430.14h.5M269.96 434.27h.5M269.38 440.57h.5M268.99 422.14h.5M268.50 430.73h.5M268.38 423.59h.5M268.61 432.93h.5M269.09 422.48h.5M268.83 441.83h.5M267.92 429.44h.5M268.73 422.47h.5M267.96 420.03h.5M269.35 439.77h.5M268.44 429.89h.5M268.51 447.61h.5M268.99 436.43h.5M268.26 434.21h.5M267.81 438.99h.5M268.60 423.08h.5M268.50 441.69h.5M269.46 418.41h.5M268.91 427.85h.5M268.70 420.03h.5M268.30 432.89h.5M268.03 438.12h.5M268.52 439.33h.5M268.59 432.95h.5M269.51 423.39h.5M268.82 448.58h.5M268.85 430.14h.5M267.96 414.55h.5M269.67 433.12h.5M268.74 424.00h.5M268.12 446.05h.5M267.58 444.00h.5M268.08 434.38h.5M268.95 424.80h.5M270.06 444.17h.5M270.10 425.52h.5M268.40 429.17h.5M268.47 435.27h.5M268.99 415.19h.5M268.59 444.90h.5M269.03 444.36h.5M267.83 419.98h.5M269.72 433.82h.5M269.18 441.80h.5M268.56 420.84h.5M268.89 437.43h.5M269.57 438.54h.5M269.10 445.10h.5M269.20 419.67h.5M268.64 425.58h.5M269.36 423.64h.5M268.32 426.90h.5M268.06 431.49h.5M270.67 422.25h.5M270.00 427.74h.5M269.33 417.82h.5M269.72 421.71h.5M268.99 433.94h.5M269.35 416.36h.5M270.39 428.80h.5M268.06 423.30h.5M268.24 424.93h.5M271.05 436.77h.5M268.95 424.32h.5M271.41 422.33h.5M270.67 420.28h.5M274.13 419.34h.5M290.39 440.65h.5M291.66 440.48h.5M291.46 434.97h.5M290.32 437.97h.5M287.90 438.01h.5M285.41 431.94h.5M293.81 435.54h.5M294.96 441.58h.5M284.67 440.74h.5M288.86 436.33h.5M278.16 433.33h.5M285.59 432.74h.5M280.85 428.81h.5M287.46 436.20h.5M291.08 429.73h.5M278.92 442.13h.5M286.09 434.51h.5M291.87 430.94h.5M285.85 437.75h.5M288.95 437.90h.5M284.68 440.19h.5M279.52 426.98h.5M285.71 435.28h.5M286.60 427.45h.5M280.08 433.57h.5M291.07 439.01h.5M295.04 430.46h.5M284.13 428.64h.5M280.66 430.38h.5M286.04 431.79h.5M288.16 439.78h.5M285.33 433.27h.5M286.78 434.12h.5M285.56 432.41h.5M287.31 432.86h.5M288.90 435.40h.5M291.94 436.76h.5M289.28 434.49h.5M284.45 436.86h.5M282.51 436.23h.5M294.98 432.40h.5M290.02 437.01h.5M286.72 438.60h.5M284.48 430.49h.5M289.32 436.51h.5M288.21 438.02h.5M281.38 431.86h.5M295.65 433.82h.5M291.90 436.30h.5M277.26 432.89h.5M300.48 435.49h.5M290.47 430.30h.5M286.14 430.97h.5M285.31 435.29h.5M283.00 429.95h.5M289.65 436.89h.5M284.30 432.37h.5M291.11 434.33h.5M292.59 437.19h.5M285.37 438.40h.5M277.64 431.53h.5M287.02 438.08h.5M290.92 436.73h.5M282.68 434.60h.5M295.99 437.29h.5M292.02 435.23h.5M280.82 433.53h.5M293.14 432.09h.5M293.00 436.59h.5M278.16 435.07h.5M284.18 434.15h.5M293.99 429.92h.5M278.80 433.64h.5M287.34 435.79h.5M287.40 431.78h.5M285.66 442.29h.5M289.22 437.79h.5M288.51 435.63h.5M279.28 436.57h.5M299.12 428.61h.5M289.70 430.32h.5M290.06 435.98h.5M286.23 430.51h.5M283.97 439.47h.5M285.33 434.66h.5M289.40 432.80h.5M285.72 429.54h.5M296.78 435.78h.5M289.76 432.78h.5M281.57 437.43h.5M284.30 434.99h.5M281.59 442.68h.5M286.30 435.97h.5M291.18 430.88h.5M287.60 430.27h.5M282.58 437.81h.5M292.48 436.41h.5M282.14 434.47h.5M290.45 433.41h.5M285.13 435.52h.5M290.77 432.62h.5M279.14 432.88h.5M285.94 434.05h.5M288.09 438.71h.5M286.58 436.19h.5M283.53 434.48h.5M289.42 430.72h.5M291.58 431.85h.5M285.30 436.74h.5M289.55 435.07h.5M283.64 441.50h.5M286.20 434.93h.5M287.02 435.27h.5M285.39 432.78h.5M281.58 430.84h.5M290.12 440.63h.5M287.60 435.33h.5M285.55 433.46h.5M295.99 435.45h.5M289.31 438.40h.5M272.57 437.10h.5M286.46 435.14h.5M287.23 437.11h.5M289.69 440.52h.5M284.64 436.29h.5M291.21 432.83h.5M285.83 436.94h.5M287.84 434.50h.5M288.00 444.17h.5M284.58 431.10h.5M287.62 428.50h.5M283.59 428.10h.5M292.63 437.53h.5M285.63 427.05h.5M280.85 431.16h.5M301.15 429.55h.5M286.67 437.71h.5M289.50 433.48h.5M283.91 438.28h.5M285.78 429.22h.5M283.18 432.70h.5M293.81 434.14h.5M278.19 433.47h.5M290.80 431.48h.5M284.01 430.32h.5M287.80 434.90h.5M283.95 435.23h.5M289.20 432.42h.5M286.31 436.97h.5M285.27 429.11h.5M289.44 434.50h.5M288.68 435.45h.5M294.38 429.84h.5M296.38 436.48h.5M290.18 431.63h.5M286.85 434.33h.5M288.92 428.95h.5M286.41 427.89h.5M297.14 432.40h.5M283.44 432.91h.5M289.68 438.09h.5M289.85 428.67h.5M284.81 435.57h.5M287.28 437.58h.5M284.13 433.66h.5M276.69 434.38h.5M289.74 435.37h.5M282.58 434.64h.5M286.70 431.51h.5M284.05 435.38h.5M289.83 441.55h.5M281.99 433.66h.5M290.72 433.08h.5M290.56 428.16h.5M295.10 438.13h.5M287.19 430.19h.5M284.66 431.99h.5M293.55 432.99h.5M287.93 436.83h.5M284.91 432.50h.5M275.77 437.66h.5M293.98 435.37h.5M282.21 436.46h.5M285.35 425.09h.5M285.08 427.70h.5M285.10 430.65h.5M290.85 429.28h.5M287.40 434.26h.5M278.85 434.95h.5M283.27 431.21h.5M279.49 434.75h.5M283.60 434.23h.5M286.44 439.80h.5M285.40 434.93h.5M293.42 433.08h.5M292.53 436.39h.5M277.18 439.93h.5M285.89 430.68h.5M285.29 435.33h.5M287.75 442.09h.5M278.12 435.89h.5M283.89 433.17h.5M284.38 432.06h.5M294.56 435.30h.5M286.37 435.82h.5M279.04 434.16h.5M284.05 431.36h.5M293.30 435.41h.5M289.60 432.67h.5M287.11 434.63h.5M289.58 435.19h.5M288.93 432.07h.5M289.05 436.21h.5M289.09 433.69h.5M287.78 434.49h.5M288.13 434.68h.5M284.18 432.93h.5M287.22 430.90h.5M274.54 434.38h.5M284.69 435.51h.5M289.50 435.90h.5M285.33 435.29h.5M278.24 436.66h.5M282.19 431.95h.5M288.97 432.48h.5M282.04 433.76h.5M281.59 437.42h.5M281.11 434.33h.5M291.84 435.68h.5M297.66 438.21h.5M288.16 430.46h.5M289.60 438.99h.5M291.16 436.70h.5M289.66 434.27h.5M288.49 436.05h.5M286.69 439.19h.5M282.39 439.06h.5M283.86 431.15h.5M285.11 431.80h.5M285.35 436.88h.5M292.58 437.43h.5M273.60 438.82h.5M283.01 436.07h.5M292.78 438.44h.5M295.06 434.92h.5M281.89 431.52h.5M296.01 433.50h.5M287.48 432.98h.5M282.19 439.93h.5M293.25 435.37h.5M289.82 432.18h.5M286.03 432.88h.5M291.39 439.06h.5M283.89 428.75h.5M290.57 441.84h.5M281.81 441.09h.5M288.12 435.69h.5M278.99 434.07h.5M279.52 436.97h.5M297.73 435.52h.5M278.28 430.76h.5M283.50 435.63h.5M297.27 435.33h.5M285.60 428.26h.5M276.32 436.06h.5M283.54 433.60h.5M288.92 444.75h.5M276.35 438.96h.5M293.02 431.45h.5M273.10 426.87h.5M285.91 435.36h.5M287.81 438.99h.5M293.66 443.05h.5M299.34 434.53h.5M286.10 429.06h.5M274.14 434.54h.5M274.93 443.09h.5M277.85 445.22h.5M278.23 433.79h.5M294.15 437.24h.5M296.95 429.38h.5M291.17 432.13h.5M288.86 426.10h.5M276.96 432.84h.5M288.54 428.08h.5M276.40 423.34h.5M279.61 444.93h.5M279.19 422.49h.5M272.32 427.68h.5M280.48 436.33h.5M292.34 431.50h.5M290.04 434.19h.5M290.36 441.29h.5M291.66 424.18h.5M291.05 432.49h.5M264.23 437.41h.5M282.38 426.83h.5M267.49 437.83h.5M287.13 438.78h.5M285.43 447.23h.5M278.63 435.18h.5M285.37 444.83h.5M295.92 431.12h.5M295.18 430.55h.5M291.96 424.77h.5M268.63 440.94h.5M288.41 432.26h.5M269.28 431.18h.5M279.46 439.35h.5M285.79 422.18h.5M277.66 427.47h.5M278.30 426.89h.5M294.75 441.93h.5M282.79 429.90h.5M276.03 434.46h.5M288.95 442.21h.5M279.32 431.43h.5M288.62 427.41h.5M295.44 431.08h.5" stroke="#000" stroke-width=".6" stroke-opacity=".5" fill="none"/>
<path d="M264.20 414.10 Q264.20 412.70 265.60 412.70 L282.60 412.70 Q284.40 412.70 284.20 414.90 L272.20 430.20 Q271.80 430.70 271.00 430.70 L265.20 430.70 Q264.20 430.70 264.20 429.70 Z" stroke="#c8324f" stroke-width="0.9" fill="none" stroke-linejoin="round"/>
<rect x="275.90" y="429.00" width="25.8" height="21.6" fill="none" stroke="#4b6aa6" stroke-width=".8"/>
<text x="285.80" y="417.50" font-size="6.27" fill="#c8324f" stroke="#c8324f" stroke-width="0.05">5.9</text>
<text x="302.10" y="427.10" font-size="6.27" text-anchor="end" fill="#4b6aa6" stroke="#4b6aa6" stroke-width="0.05">10.7</text>
<rect x="309.1" y="411.5" width="43.3" height="42.9" fill="#fff" stroke="#1f1f1f" stroke-width="1"/>
<path d="M305.90 415.50H309.10M307.50 418.65H309.10M307.50 420.75H309.10M307.50 422.01H309.10M307.50 423.06H309.10M307.50 423.90H309.10M307.50 424.53H309.10M305.90 425.70H309.10M307.50 428.85H309.10M307.50 430.95H309.10M307.50 432.21H309.10M307.50 433.26H309.10M307.50 434.10H309.10M307.50 434.73H309.10M305.90 436.80H309.10M307.50 439.95H309.10M307.50 442.05H309.10M307.50 443.31H309.10M307.50 444.36H309.10M307.50 445.20H309.10M307.50 445.83H309.10M305.90 446.30H309.10M307.50 449.45H309.10M307.50 451.55H309.10M307.50 452.81H309.10M307.50 453.86H309.10M311.10 454.40V457.60M314.10 454.40V456.00M316.10 454.40V456.00M317.30 454.40V456.00M318.30 454.40V456.00M319.10 454.40V456.00M319.70 454.40V456.00M318.30 454.40V457.60M321.30 454.40V456.00M323.30 454.40V456.00M324.50 454.40V456.00M325.50 454.40V456.00M326.30 454.40V456.00M326.90 454.40V456.00M328.30 454.40V457.60M331.30 454.40V456.00M333.30 454.40V456.00M334.50 454.40V456.00M335.50 454.40V456.00M336.30 454.40V456.00M336.90 454.40V456.00M339.10 454.40V457.60M342.10 454.40V456.00M344.10 454.40V456.00M345.30 454.40V456.00M346.30 454.40V456.00M347.10 454.40V456.00M347.70 454.40V456.00M349.60 454.40V457.60" stroke="#1f1f1f" stroke-width="0.8" fill="none" />
<ellipse cx="318.00" cy="439.20" rx="1.15" ry="11.11" fill="url(#bg)" opacity="1.00"/>
<ellipse cx="337.20" cy="436.30" rx="9.35" ry="5.10" fill="url(#bg)" opacity="0.9"/>
<path d="M317.24 447.66h.5M317.82 428.59h.5M318.82 447.00h.5M318.70 439.67h.5M317.12 417.23h.5M318.02 437.42h.5M318.91 442.32h.5M318.21 442.91h.5M318.54 421.67h.5M317.78 443.67h.5M317.26 434.49h.5M317.64 440.66h.5M318.11 447.79h.5M317.23 441.88h.5M318.02 423.29h.5M318.84 424.17h.5M318.29 443.17h.5M318.22 425.10h.5M318.60 425.81h.5M318.01 441.33h.5M318.47 429.78h.5M317.93 444.68h.5M317.71 421.09h.5M317.57 418.19h.5M317.24 421.96h.5M318.11 425.76h.5M317.85 440.50h.5M317.70 443.67h.5M317.57 440.76h.5M317.22 446.74h.5M317.70 436.21h.5M318.87 446.98h.5M317.86 432.51h.5M317.37 420.57h.5M318.05 438.79h.5M318.02 432.43h.5M318.40 441.08h.5M318.05 435.23h.5M317.61 431.12h.5M318.26 420.32h.5M318.49 425.51h.5M318.57 447.77h.5M318.44 419.54h.5M318.94 445.55h.5M318.72 426.85h.5M318.69 428.25h.5M318.49 418.87h.5M317.53 438.41h.5M317.90 437.81h.5M319.22 439.75h.5M318.53 445.21h.5M318.49 442.69h.5M317.75 420.73h.5M318.79 430.65h.5M317.55 420.08h.5M318.24 441.12h.5M317.38 437.77h.5M317.06 445.08h.5M318.49 435.20h.5M318.19 442.26h.5M317.72 422.68h.5M317.71 435.74h.5M318.41 416.51h.5M318.61 431.04h.5M317.99 423.56h.5M317.89 428.72h.5M317.92 422.08h.5M317.39 433.72h.5M318.70 420.75h.5M318.85 418.56h.5M317.48 437.61h.5M318.12 436.28h.5M318.32 431.09h.5M317.31 438.92h.5M318.16 419.11h.5M318.04 447.61h.5M318.59 442.91h.5M317.56 447.55h.5M318.48 444.03h.5M318.31 432.52h.5M318.28 427.58h.5M319.17 416.60h.5M318.49 443.85h.5M317.82 443.68h.5M318.52 447.28h.5M317.48 418.21h.5M318.23 440.89h.5M319.56 438.98h.5M317.94 436.41h.5M317.67 446.60h.5M317.76 433.17h.5M318.91 425.31h.5M317.42 419.85h.5M317.36 437.79h.5M317.19 421.30h.5M318.49 435.60h.5M318.40 428.35h.5M317.39 428.17h.5M319.58 428.19h.5M319.78 430.42h.5M319.66 429.11h.5M318.99 432.22h.5M318.66 431.24h.5M317.73 418.14h.5M319.06 423.57h.5M318.00 419.98h.5M319.95 426.07h.5M320.07 421.88h.5M319.26 418.96h.5M317.75 427.86h.5M319.92 424.48h.5M320.52 420.16h.5M320.77 423.20h.5M318.54 419.16h.5M320.77 419.04h.5M320.80 430.87h.5M329.62 433.52h.5M325.06 435.63h.5M323.22 436.39h.5M322.77 437.13h.5M327.93 433.62h.5M329.79 434.23h.5M324.09 437.27h.5M319.30 433.06h.5M326.06 435.83h.5M331.74 435.37h.5M321.33 437.10h.5M325.12 436.02h.5M323.48 437.02h.5M332.44 436.62h.5M322.39 434.66h.5M326.05 435.19h.5M323.03 438.23h.5M327.81 436.44h.5M322.20 435.01h.5M327.04 433.34h.5M330.48 434.84h.5M325.56 433.49h.5M327.15 436.41h.5M320.79 435.72h.5M328.48 436.84h.5M330.02 435.95h.5M324.77 435.90h.5M319.34 435.21h.5M321.91 433.86h.5M329.12 437.15h.5M332.07 436.57h.5M322.13 434.08h.5M329.83 433.30h.5M325.48 434.84h.5M321.27 437.01h.5M330.09 433.60h.5M325.81 435.96h.5M322.40 436.26h.5M329.17 437.10h.5M326.11 433.02h.5M324.20 439.18h.5M324.08 436.52h.5M322.58 437.57h.5M326.26 434.72h.5M330.80 437.17h.5M324.01 434.80h.5M332.36 435.11h.5M327.45 437.67h.5M321.81 435.66h.5M322.01 436.63h.5M323.17 435.59h.5M330.97 438.60h.5M324.60 437.26h.5M322.22 439.29h.5M322.08 435.24h.5M320.95 435.71h.5M332.34 436.09h.5M323.69 436.08h.5M325.94 436.79h.5M326.95 438.04h.5M326.29 438.08h.5M330.59 439.13h.5M325.24 434.73h.5M323.96 435.24h.5M325.47 435.06h.5M322.56 436.74h.5M327.98 436.90h.5M331.87 437.55h.5M321.97 436.16h.5M320.30 438.65h.5M323.95 438.12h.5M324.26 437.13h.5M321.78 438.64h.5M332.45 439.92h.5M324.84 436.84h.5M325.31 435.12h.5M331.93 436.29h.5M326.36 433.18h.5M328.35 435.40h.5M330.84 437.29h.5M322.07 437.22h.5M326.27 436.05h.5M322.03 439.71h.5M324.55 435.14h.5M329.03 437.09h.5M326.00 436.72h.5M330.81 434.87h.5M330.78 433.21h.5M332.09 438.45h.5M322.24 433.23h.5M322.30 435.28h.5M331.25 435.33h.5M324.38 439.10h.5M332.32 437.42h.5M319.28 435.21h.5M327.77 435.08h.5M331.92 435.76h.5M324.96 435.18h.5M329.34 436.09h.5M326.60 438.61h.5M322.99 439.31h.5M321.01 436.02h.5M330.38 434.65h.5M325.06 433.90h.5M331.34 435.45h.5M321.39 437.70h.5M321.25 437.49h.5M330.23 435.49h.5M320.30 437.56h.5M322.93 435.48h.5M322.06 437.26h.5M323.05 436.17h.5M326.17 435.49h.5M328.18 439.23h.5M329.71 436.70h.5M322.53 436.88h.5M331.34 436.52h.5M319.69 434.64h.5M328.31 434.97h.5M325.38 434.60h.5M339.25 436.37h.5M334.41 435.85h.5M344.21 432.38h.5M341.41 429.54h.5M347.10 437.96h.5M350.49 442.31h.5M338.37 438.48h.5M340.19 429.85h.5M343.24 438.95h.5M342.54 437.27h.5M330.43 434.15h.5M314.75 437.11h.5M332.86 434.40h.5M343.99 436.32h.5M320.20 439.61h.5M328.59 432.28h.5M331.14 440.39h.5M329.35 437.42h.5M341.02 429.20h.5M345.84 433.93h.5M347.40 434.87h.5M346.32 443.20h.5M324.07 432.30h.5M333.67 439.46h.5M347.48 436.71h.5M340.25 438.88h.5M331.56 434.21h.5M338.14 440.75h.5M332.93 438.46h.5M332.67 432.38h.5M338.07 436.85h.5M337.86 433.72h.5M334.01 439.36h.5M328.60 434.19h.5M330.30 436.54h.5M345.18 435.02h.5M333.17 435.08h.5M337.70 434.67h.5M331.50 437.33h.5M346.53 436.99h.5M333.15 440.67h.5M337.56 437.65h.5M336.43 437.76h.5M329.39 436.15h.5M336.27 435.52h.5M338.29 445.58h.5M331.37 435.26h.5M329.30 436.57h.5M334.03 439.55h.5M336.62 435.84h.5M337.60 442.89h.5M343.92 437.61h.5M343.94 435.49h.5M327.52 431.58h.5M340.53 437.43h.5M333.68 433.05h.5M342.44 434.79h.5M329.87 438.72h.5M338.10 432.17h.5M346.68 434.35h.5M333.98 433.77h.5M335.14 441.27h.5M335.28 438.69h.5M333.06 440.26h.5M345.02 439.02h.5M347.93 437.04h.5M325.19 432.04h.5M333.39 438.93h.5M338.08 437.17h.5M338.70 435.14h.5M336.76 434.38h.5M337.32 438.54h.5M347.26 440.95h.5M336.49 434.74h.5M334.69 430.13h.5M343.00 439.19h.5M339.78 436.41h.5M341.49 439.44h.5M345.17 431.22h.5M345.74 432.57h.5M345.02 445.11h.5M343.59 436.37h.5M347.13 436.03h.5M338.22 434.64h.5M336.45 436.76h.5M333.08 440.21h.5M339.51 432.24h.5M332.77 436.06h.5M335.30 441.25h.5M331.02 436.29h.5M336.54 435.74h.5M341.16 438.23h.5M333.97 434.50h.5M339.70 436.10h.5M334.15 430.90h.5M339.37 434.77h.5M340.51 434.16h.5M336.89 435.44h.5M326.22 436.40h.5M339.14 435.95h.5M337.85 441.06h.5M325.03 432.95h.5M333.14 433.64h.5M334.17 431.89h.5M335.10 437.89h.5M333.06 438.46h.5M342.44 439.02h.5M338.78 429.83h.5M336.44 428.02h.5M327.80 438.39h.5M320.10 438.47h.5M333.55 438.49h.5M345.66 436.07h.5M331.03 438.34h.5M329.34 436.38h.5M336.86 439.91h.5M326.68 436.94h.5M348.72 435.75h.5M348.93 439.41h.5M327.33 438.10h.5M339.44 433.97h.5M335.87 430.20h.5M347.68 437.97h.5M335.30 439.13h.5M346.34 435.90h.5M336.86 438.33h.5M336.25 442.20h.5M343.62 437.00h.5M334.73 429.30h.5M330.50 443.51h.5M336.86 440.42h.5M325.16 432.12h.5M342.85 440.06h.5M328.36 431.13h.5M330.56 436.65h.5M323.53 441.88h.5M330.39 437.48h.5M342.27 436.01h.5M337.22 434.91h.5M349.19 440.09h.5M336.12 434.70h.5M336.89 428.84h.5M333.96 434.57h.5M345.45 437.78h.5M331.11 431.55h.5M341.16 437.62h.5M342.14 436.44h.5M339.39 436.55h.5M348.61 436.27h.5M331.05 439.28h.5M341.97 435.25h.5M345.51 438.24h.5M332.71 433.43h.5M347.24 439.46h.5M329.92 432.45h.5M349.07 445.36h.5M344.23 436.10h.5M335.07 439.15h.5M346.64 437.68h.5M336.10 431.52h.5M329.08 432.52h.5M325.18 437.78h.5M334.58 442.30h.5M343.71 436.45h.5M349.57 439.44h.5M335.58 436.53h.5M333.07 434.61h.5M336.98 435.02h.5M334.80 435.65h.5M337.80 440.82h.5M336.04 435.06h.5M340.88 437.11h.5M330.33 435.42h.5M336.49 433.85h.5M342.28 437.50h.5M333.75 440.21h.5M339.49 436.49h.5M338.86 439.23h.5M341.56 433.98h.5M339.30 436.00h.5M335.34 435.25h.5M344.01 436.61h.5M342.87 440.10h.5M334.95 436.69h.5M344.04 442.52h.5M336.57 435.82h.5M339.39 438.78h.5M334.89 439.31h.5M340.27 436.57h.5M331.39 438.84h.5M323.72 433.10h.5M326.16 435.12h.5M335.85 435.18h.5M333.03 438.83h.5M325.15 431.26h.5M339.20 440.42h.5M339.59 432.33h.5M325.77 438.28h.5M338.89 436.61h.5M328.89 427.94h.5M342.19 442.32h.5M342.47 438.17h.5M340.12 435.71h.5M335.55 436.57h.5M332.03 437.58h.5M329.35 436.09h.5M347.90 441.38h.5M331.94 439.27h.5M340.83 439.58h.5M339.91 435.48h.5M344.48 439.98h.5M329.81 436.60h.5M335.22 432.89h.5M337.78 435.25h.5M324.72 442.87h.5M337.76 435.89h.5M338.57 433.31h.5M332.10 442.07h.5M334.53 430.67h.5M339.26 439.37h.5M332.56 434.31h.5M345.21 439.38h.5M329.51 434.85h.5M334.75 435.71h.5M329.09 435.69h.5M330.58 438.76h.5M338.30 434.69h.5M335.28 434.75h.5M342.72 437.98h.5M341.04 429.38h.5M341.37 436.00h.5M334.45 431.64h.5M344.15 441.48h.5M337.20 435.80h.5M332.69 439.13h.5M337.64 434.00h.5M345.08 438.07h.5M338.88 436.13h.5M335.50 433.67h.5M333.93 434.57h.5M342.53 433.13h.5M346.26 439.99h.5M333.21 433.75h.5M326.51 439.18h.5M341.49 441.76h.5M338.91 437.70h.5M335.18 432.23h.5M341.14 435.22h.5M336.79 433.78h.5M340.19 430.72h.5M329.52 439.92h.5M340.77 433.13h.5M338.62 437.58h.5M343.40 439.94h.5M343.33 434.45h.5M348.99 436.39h.5M341.36 438.32h.5M346.22 439.88h.5M326.93 431.62h.5M336.34 433.77h.5M343.08 441.38h.5M345.19 432.93h.5M340.34 439.46h.5M341.58 439.45h.5M339.75 438.25h.5M339.12 435.06h.5M337.17 433.32h.5M331.10 436.60h.5M331.70 434.33h.5M333.07 432.57h.5M320.64 438.47h.5M345.44 437.03h.5M332.83 440.06h.5M339.43 431.77h.5M336.65 436.50h.5M331.76 438.11h.5M328.24 436.38h.5M341.59 430.07h.5M340.70 439.17h.5M331.93 432.51h.5M335.93 436.29h.5M335.92 435.27h.5M330.16 430.32h.5M332.62 439.38h.5M341.74 438.66h.5M335.83 434.32h.5M333.95 436.83h.5M328.62 437.46h.5M339.74 434.25h.5M342.58 438.62h.5M323.37 434.94h.5M336.35 428.63h.5M340.90 439.44h.5M340.28 435.81h.5M345.88 436.54h.5M338.98 437.87h.5M344.00 430.70h.5M342.71 437.41h.5M345.74 436.98h.5M336.59 434.05h.5M337.43 434.38h.5M340.28 436.43h.5M332.54 438.53h.5M336.76 435.00h.5M345.50 437.74h.5M339.82 433.84h.5M344.91 438.21h.5M329.92 435.34h.5M344.79 439.45h.5M336.55 437.00h.5M338.31 428.60h.5M341.52 441.04h.5M333.82 436.66h.5M343.05 437.12h.5M343.53 436.41h.5M335.69 434.03h.5M336.65 432.03h.5M329.94 436.60h.5M331.64 436.74h.5M336.59 435.78h.5M340.48 434.76h.5M330.84 435.40h.5M335.96 440.67h.5M343.30 431.89h.5M326.27 432.24h.5M340.52 430.21h.5M342.55 435.22h.5M343.96 437.04h.5M331.52 434.92h.5M338.32 440.08h.5M335.49 434.35h.5M337.87 433.71h.5M340.23 437.52h.5M342.49 433.43h.5M344.08 445.60h.5M345.67 436.56h.5M336.48 431.15h.5M339.99 443.02h.5M340.44 437.52h.5M336.75 432.46h.5M346.86 436.40h.5M336.68 433.37h.5M337.94 436.90h.5M335.01 435.95h.5M336.02 433.37h.5M332.92 445.00h.5M329.34 438.55h.5M328.79 433.14h.5M342.85 431.47h.5M341.77 441.09h.5M335.86 438.81h.5M343.32 429.40h.5M334.65 434.87h.5M342.68 434.77h.5M329.45 431.83h.5M337.53 436.49h.5M339.80 432.57h.5M340.10 435.87h.5M331.16 432.04h.5M350.32 438.20h.5M334.94 438.15h.5M332.83 441.88h.5M340.64 428.77h.5M334.85 435.42h.5M337.90 432.34h.5M343.07 436.79h.5M346.02 436.97h.5M346.11 441.46h.5M337.89 437.22h.5M342.94 437.82h.5M336.64 444.05h.5M344.49 437.93h.5M329.96 432.68h.5M336.13 432.54h.5M328.43 438.33h.5M341.50 434.36h.5M337.13 439.98h.5M342.68 442.33h.5M336.09 435.08h.5M342.20 442.41h.5M336.34 435.19h.5M335.80 440.03h.5M344.56 433.03h.5M343.78 438.87h.5M345.09 434.71h.5M336.95 438.03h.5M340.51 433.07h.5M341.88 438.32h.5M335.90 437.70h.5M344.19 436.36h.5M337.81 432.90h.5M336.96 434.01h.5M331.32 439.48h.5M340.11 437.40h.5M338.51 440.83h.5M326.97 441.46h.5M334.55 433.34h.5M332.53 433.44h.5M336.42 438.87h.5M332.35 438.97h.5M334.23 436.31h.5M345.83 435.22h.5M330.51 436.56h.5M339.69 435.10h.5M334.81 438.38h.5M331.67 435.87h.5M332.46 438.35h.5M334.73 437.50h.5M337.08 436.07h.5M332.12 440.46h.5M334.11 435.88h.5M329.63 436.57h.5M332.29 432.79h.5M343.38 438.83h.5M339.04 436.97h.5M340.76 436.28h.5M338.57 433.07h.5M334.99 435.78h.5M321.85 432.34h.5M332.12 442.99h.5M327.72 430.13h.5M341.44 433.02h.5M340.21 436.15h.5M347.18 436.27h.5M342.47 435.73h.5M337.58 436.36h.5M336.96 441.00h.5M346.81 436.40h.5M335.95 436.94h.5M343.33 438.69h.5M337.72 431.09h.5M351.25 441.14h.5M340.21 437.40h.5M345.44 441.81h.5M337.94 437.35h.5M336.20 442.75h.5M335.15 434.93h.5M343.69 438.39h.5M337.33 439.14h.5M339.15 436.30h.5M339.49 438.25h.5M338.69 437.97h.5M338.37 438.12h.5M331.77 441.94h.5M343.54 437.41h.5M341.00 442.36h.5M340.32 432.19h.5M339.78 429.86h.5M336.34 441.14h.5M330.91 431.30h.5M335.33 437.67h.5M349.00 435.55h.5M337.05 432.43h.5M350.05 435.86h.5M340.15 439.77h.5M336.62 433.50h.5M334.62 436.12h.5M342.53 439.79h.5M334.33 435.22h.5M329.09 436.49h.5M350.36 437.87h.5M335.56 441.36h.5M340.10 440.18h.5M347.06 432.34h.5M337.78 435.63h.5M344.80 436.07h.5M338.21 429.76h.5M334.52 434.44h.5M331.34 436.90h.5M335.66 437.03h.5M342.84 437.72h.5M337.57 437.45h.5M330.71 435.11h.5M334.01 442.58h.5M329.85 435.14h.5M340.62 434.78h.5M341.29 432.58h.5M343.36 437.03h.5M324.29 431.70h.5M329.77 435.50h.5M335.22 437.43h.5M341.13 438.30h.5M340.13 433.66h.5M328.47 432.36h.5M339.58 433.14h.5M330.07 433.47h.5M339.69 431.99h.5M336.13 438.70h.5M342.27 430.72h.5M337.11 434.47h.5M328.88 434.28h.5M337.17 434.77h.5M341.59 435.03h.5M337.55 447.53h.5M339.93 439.08h.5M337.46 428.30h.5M347.41 434.82h.5M341.39 431.68h.5M338.00 439.89h.5M330.69 442.62h.5M343.20 437.60h.5M335.65 439.41h.5M325.07 440.43h.5M325.42 434.65h.5M345.26 437.41h.5M325.95 430.84h.5M329.60 434.57h.5M332.18 439.50h.5M335.14 442.08h.5M345.36 432.25h.5M344.98 440.65h.5M330.30 435.21h.5M332.22 433.00h.5M336.91 437.33h.5M332.30 431.00h.5M341.07 440.70h.5M344.16 431.61h.5M334.17 435.26h.5M333.10 439.82h.5M331.79 435.33h.5M339.45 436.54h.5M338.75 435.84h.5M340.38 437.37h.5M337.58 438.15h.5M339.74 438.64h.5M340.13 437.82h.5M339.40 433.50h.5M334.34 435.33h.5M333.19 434.74h.5M333.20 434.03h.5M339.20 446.16h.5M348.85 436.29h.5M337.64 435.46h.5M335.83 438.20h.5M339.81 437.24h.5M342.79 434.85h.5M341.67 436.86h.5M331.36 440.45h.5M331.66 438.92h.5M332.93 434.04h.5M344.01 437.64h.5M337.18 433.73h.5M326.93 434.69h.5M336.20 439.24h.5M337.14 439.60h.5M333.96 439.31h.5M342.25 435.51h.5M342.19 441.80h.5M328.97 432.01h.5M333.16 434.46h.5M331.52 436.80h.5M328.98 442.24h.5M336.69 436.99h.5M336.11 434.45h.5M337.91 435.86h.5M339.41 438.77h.5M332.30 430.51h.5M333.23 437.11h.5M325.12 437.78h.5M337.83 431.98h.5M338.49 439.36h.5M336.67 437.90h.5M340.66 440.16h.5M344.31 433.90h.5M335.91 436.43h.5M331.26 436.72h.5M339.41 437.37h.5M325.99 434.24h.5M322.36 436.63h.5M337.06 438.90h.5M342.53 433.23h.5M336.62 436.84h.5M341.85 440.10h.5M336.11 431.53h.5M341.92 435.64h.5M326.42 436.89h.5M332.12 436.43h.5M344.34 436.12h.5M332.43 437.70h.5M335.50 436.65h.5M343.13 437.07h.5M340.09 436.14h.5M337.92 432.95h.5M332.66 439.67h.5M344.99 432.76h.5M341.20 439.21h.5M332.47 438.61h.5M340.64 440.24h.5M347.59 436.40h.5M339.52 433.46h.5M338.86 436.44h.5M335.95 436.78h.5M342.39 439.38h.5M341.76 442.19h.5M328.77 435.88h.5M336.74 435.08h.5M334.58 431.82h.5M335.32 440.33h.5M334.61 436.27h.5M339.76 436.34h.5M331.55 434.71h.5M344.18 434.17h.5M329.94 442.57h.5M338.07 432.78h.5M326.83 433.94h.5M329.48 435.90h.5M342.73 438.92h.5M335.07 438.47h.5M334.71 428.09h.5M341.39 433.75h.5M331.55 439.60h.5M337.56 439.20h.5M342.94 438.84h.5M336.56 443.08h.5M331.31 439.51h.5M348.34 435.82h.5M333.65 439.12h.5M343.75 438.23h.5M333.48 436.90h.5M328.61 439.90h.5M343.97 435.81h.5M340.78 435.45h.5M337.62 436.93h.5M336.03 445.93h.5M335.47 439.73h.5M332.02 437.29h.5M337.06 433.72h.5M342.18 438.94h.5M345.05 437.79h.5M331.21 439.08h.5M339.05 442.41h.5M323.30 435.89h.5M337.87 439.82h.5M330.29 440.06h.5M339.01 429.73h.5M351.18 429.45h.5M331.17 433.66h.5M339.97 434.90h.5M336.72 433.93h.5M340.15 439.09h.5M347.53 431.59h.5M332.90 434.44h.5M334.55 435.92h.5M341.01 434.35h.5M333.45 440.49h.5M350.07 447.52h.5M349.71 440.76h.5M334.42 440.20h.5M328.39 429.87h.5M332.53 427.49h.5M330.96 436.93h.5M324.52 432.11h.5M314.10 429.55h.5M334.44 432.58h.5M336.79 432.64h.5M329.82 426.66h.5M344.81 431.84h.5M322.67 438.12h.5M330.57 436.03h.5M342.02 440.07h.5M343.78 437.63h.5M314.57 439.35h.5M346.39 439.39h.5M341.01 440.05h.5M319.11 423.78h.5M336.03 440.15h.5M341.13 434.86h.5M330.05 430.31h.5M338.98 438.46h.5M343.10 435.78h.5M348.94 432.18h.5M347.30 431.74h.5M350.66 442.27h.5M324.63 439.70h.5M324.60 447.33h.5M347.04 437.06h.5M339.30 436.24h.5M330.30 429.97h.5M334.45 442.55h.5M339.06 443.32h.5M346.40 439.72h.5M325.62 430.71h.5M331.22 423.39h.5M318.45 437.01h.5M349.95 449.62h.5M337.29 442.25h.5M339.21 431.25h.5M345.47 436.29h.5M342.14 425.43h.5M331.76 442.38h.5M333.02 436.49h.5M344.89 445.30h.5M350.30 437.37h.5M329.53 442.27h.5M328.40 429.24h.5M326.62 436.27h.5M327.60 431.65h.5M346.17 429.74h.5M322.32 436.91h.5M342.38 433.43h.5M324.89 451.14h.5M330.93 452.59h.5" stroke="#000" stroke-width=".6" stroke-opacity=".5" fill="none"/>
<path d="M313.50 414.10 Q313.50 412.70 314.90 412.70 L331.90 412.70 Q333.70 412.70 333.50 414.90 L321.50 430.20 Q321.10 430.70 320.30 430.70 L314.50 430.70 Q313.50 430.70 313.50 429.70 Z" stroke="#c8324f" stroke-width="0.9" fill="none" stroke-linejoin="round"/>
<rect x="325.20" y="429.00" width="25.8" height="21.6" fill="none" stroke="#4b6aa6" stroke-width=".8"/>
<text x="335.10" y="417.50" font-size="6.27" fill="#c8324f" stroke="#c8324f" stroke-width="0.05">0.8</text>
<text x="351.40" y="427.10" font-size="6.27" text-anchor="end" fill="#4b6aa6" stroke="#4b6aa6" stroke-width="0.05">68.2</text>
<rect x="358.6" y="411.5" width="43.3" height="42.9" fill="#fff" stroke="#1f1f1f" stroke-width="1"/>
<path d="M355.40 415.50H358.60M357.00 418.65H358.60M357.00 420.75H358.60M357.00 422.01H358.60M357.00 423.06H358.60M357.00 423.90H358.60M357.00 424.53H358.60M355.40 425.70H358.60M357.00 428.85H358.60M357.00 430.95H358.60M357.00 432.21H358.60M357.00 433.26H358.60M357.00 434.10H358.60M357.00 434.73H358.60M355.40 436.80H358.60M357.00 439.95H358.60M357.00 442.05H358.60M357.00 443.31H358.60M357.00 444.36H358.60M357.00 445.20H358.60M357.00 445.83H358.60M355.40 446.30H358.60M357.00 449.45H358.60M357.00 451.55H358.60M357.00 452.81H358.60M357.00 453.86H358.60M360.60 454.40V457.60M363.60 454.40V456.00M365.60 454.40V456.00M366.80 454.40V456.00M367.80 454.40V456.00M368.60 454.40V456.00M369.20 454.40V456.00M367.80 454.40V457.60M370.80 454.40V456.00M372.80 454.40V456.00M374.00 454.40V456.00M375.00 454.40V456.00M375.80 454.40V456.00M376.40 454.40V456.00M377.80 454.40V457.60M380.80 454.40V456.00M382.80 454.40V456.00M384.00 454.40V456.00M385.00 454.40V456.00M385.80 454.40V456.00M386.40 454.40V456.00M388.60 454.40V457.60M391.60 454.40V456.00M393.60 454.40V456.00M394.80 454.40V456.00M395.80 454.40V456.00M396.60 454.40V456.00M397.20 454.40V456.00M399.10 454.40V457.60" stroke="#1f1f1f" stroke-width="0.8" fill="none" />
<ellipse cx="388.20" cy="440.60" rx="11.05" ry="6.12" fill="url(#bg)" opacity="1.0"/>
<path d="M367.44 445.38h.5M367.06 445.87h.5M368.46 443.96h.5M367.59 445.82h.5M369.11 443.70h.5M368.22 442.70h.5M368.58 443.21h.5M368.49 440.90h.5M368.41 445.06h.5M368.20 445.86h.5M367.46 445.29h.5M368.18 443.78h.5M368.43 445.57h.5M366.68 443.75h.5M368.00 444.77h.5M368.07 443.03h.5M368.27 444.84h.5M367.54 443.92h.5M367.98 442.85h.5M368.08 446.44h.5M367.70 444.48h.5M368.50 445.35h.5M367.81 441.95h.5M368.65 440.84h.5M368.28 445.04h.5M368.56 443.79h.5M367.90 442.96h.5M368.77 441.34h.5M367.13 442.93h.5M367.91 444.36h.5M367.85 443.74h.5M367.64 445.14h.5M368.72 441.31h.5M368.92 444.12h.5M368.14 444.83h.5M368.43 443.91h.5M368.41 441.17h.5M368.39 443.86h.5M367.22 442.88h.5M368.51 443.01h.5M367.28 443.31h.5M367.62 443.80h.5M368.99 446.48h.5M368.06 444.31h.5M367.28 444.60h.5M368.46 442.76h.5M368.62 442.78h.5M368.17 444.02h.5M368.12 444.08h.5M368.41 442.82h.5M368.23 444.62h.5M368.84 442.47h.5M367.74 443.02h.5M367.05 444.24h.5M369.54 442.80h.5M367.81 443.06h.5M368.00 442.46h.5M369.56 442.22h.5M368.59 444.98h.5M368.17 445.63h.5M366.74 439.56h.5M368.57 444.17h.5M367.95 443.96h.5M367.46 442.23h.5M367.45 443.66h.5M368.52 446.31h.5M367.86 441.30h.5M368.77 443.07h.5M367.26 444.58h.5M366.59 441.83h.5M370.92 421.32h.5M368.92 430.38h.5M366.39 424.64h.5M369.90 428.21h.5M370.25 436.32h.5M371.20 427.43h.5M367.30 428.16h.5M367.23 414.98h.5M366.06 424.09h.5M368.12 421.12h.5M369.82 423.22h.5M367.10 423.82h.5M368.15 426.90h.5M368.13 428.40h.5M367.56 423.20h.5M369.05 420.02h.5M368.51 424.79h.5M397.65 439.56h.5M389.20 446.44h.5M392.32 435.37h.5M386.55 443.81h.5M386.64 442.36h.5M394.84 448.62h.5M383.91 434.61h.5M383.48 439.08h.5M395.62 441.89h.5M397.58 441.67h.5M379.25 442.44h.5M384.08 442.13h.5M377.33 443.92h.5M381.44 439.28h.5M394.82 439.96h.5M382.38 446.67h.5M386.36 444.73h.5M388.05 433.80h.5M387.28 442.39h.5M387.59 447.42h.5M376.85 438.01h.5M393.12 445.32h.5M394.68 437.13h.5M391.07 442.89h.5M392.11 443.40h.5M393.99 440.47h.5M390.70 442.37h.5M389.68 443.55h.5M388.81 438.65h.5M396.62 444.56h.5M383.51 443.24h.5M382.62 442.15h.5M383.74 438.51h.5M391.66 437.30h.5M394.01 447.20h.5M386.98 437.92h.5M391.46 439.97h.5M378.11 449.39h.5M385.28 448.11h.5M394.91 443.53h.5M391.52 439.61h.5M393.12 438.55h.5M391.47 437.47h.5M388.97 429.59h.5M384.85 442.34h.5M389.28 442.08h.5M392.36 447.67h.5M385.10 426.71h.5M392.31 441.70h.5M388.78 443.70h.5M399.80 442.06h.5M382.24 443.78h.5M383.81 434.94h.5M381.19 440.88h.5M379.01 439.37h.5M391.90 431.90h.5M397.31 448.71h.5M387.55 440.49h.5M386.92 429.20h.5M389.99 434.90h.5M387.55 436.63h.5M382.45 437.97h.5M381.34 432.19h.5M396.91 436.54h.5M394.96 443.76h.5M386.47 441.00h.5M388.98 442.82h.5M391.47 439.72h.5M388.33 444.82h.5M382.92 434.26h.5M373.95 439.40h.5M395.34 448.96h.5M384.49 441.45h.5M382.58 441.24h.5M387.36 444.33h.5M394.14 442.50h.5M389.15 444.23h.5M387.22 445.86h.5M398.89 444.11h.5M400.50 438.37h.5M392.08 441.84h.5M383.51 442.11h.5M387.55 442.65h.5M389.66 443.57h.5M386.43 440.83h.5M395.01 445.87h.5M389.82 433.98h.5M395.02 443.30h.5M381.15 433.08h.5M377.57 434.56h.5M387.56 443.71h.5M398.94 441.42h.5M388.13 444.86h.5M397.89 441.84h.5M384.79 436.64h.5M394.64 437.05h.5M384.67 432.36h.5M380.08 443.21h.5M384.59 443.82h.5M387.53 438.68h.5M395.05 441.31h.5M386.34 446.72h.5M381.80 436.36h.5M388.79 440.68h.5M375.46 439.61h.5M386.86 437.35h.5M390.03 432.43h.5M391.61 444.79h.5M395.25 437.60h.5M377.21 440.67h.5M382.88 438.43h.5M382.64 442.58h.5M387.35 442.38h.5M390.18 442.45h.5M388.89 436.03h.5M393.25 439.25h.5M388.99 441.29h.5M389.47 438.12h.5M384.41 437.13h.5M386.39 443.55h.5M382.23 441.81h.5M400.70 435.17h.5M388.97 441.97h.5M386.88 438.56h.5M393.69 440.28h.5M390.20 436.36h.5M397.19 448.36h.5M386.59 442.39h.5M384.78 445.55h.5M391.59 441.64h.5M387.87 436.96h.5M390.14 442.16h.5M375.75 441.18h.5M375.56 446.77h.5M389.43 442.67h.5M383.19 447.89h.5M391.24 441.19h.5M387.39 437.49h.5M385.98 439.49h.5M380.15 445.05h.5M377.56 442.37h.5M397.40 441.73h.5M391.03 439.11h.5M381.30 447.61h.5M378.35 442.41h.5M380.79 442.91h.5M393.03 445.32h.5M388.71 440.90h.5M386.35 440.88h.5M388.06 443.97h.5M387.21 440.00h.5M389.39 450.47h.5M379.43 446.35h.5M390.01 444.90h.5M393.29 435.05h.5M395.08 439.49h.5M378.03 442.67h.5M381.36 440.07h.5M390.65 434.99h.5M394.09 443.76h.5M389.34 444.34h.5M387.92 446.68h.5M385.52 441.58h.5M393.43 442.64h.5M377.73 439.57h.5M396.56 438.75h.5M378.14 442.50h.5M381.72 445.70h.5M384.02 431.38h.5M379.82 436.55h.5M383.58 441.89h.5M388.95 444.28h.5M382.72 438.82h.5M391.03 442.62h.5M394.30 434.90h.5M389.72 442.38h.5M392.04 439.53h.5M390.13 434.04h.5M381.31 445.14h.5M382.35 441.96h.5M381.32 441.22h.5M390.44 441.26h.5M389.45 435.98h.5M386.18 444.51h.5M380.83 439.90h.5M388.18 444.20h.5M383.66 445.85h.5M390.41 441.75h.5M386.80 438.18h.5M380.02 443.64h.5M388.20 443.91h.5M393.62 437.28h.5M389.19 438.10h.5M375.34 444.49h.5M389.06 441.06h.5M396.87 436.28h.5M396.46 438.75h.5M390.79 440.97h.5M382.50 435.09h.5M395.68 439.05h.5M391.05 438.88h.5M389.94 439.95h.5M387.83 443.91h.5M399.92 436.85h.5M384.29 442.17h.5M385.96 440.38h.5M393.80 440.68h.5M381.15 444.06h.5M389.55 442.45h.5M389.44 433.53h.5M397.04 437.81h.5M396.41 435.97h.5M388.96 441.80h.5M384.22 442.42h.5M392.12 438.61h.5M392.84 441.04h.5M392.89 437.61h.5M384.13 438.89h.5M384.92 439.18h.5M392.17 442.08h.5M383.17 439.95h.5M391.71 437.69h.5M385.94 438.94h.5M381.72 436.69h.5M383.05 443.26h.5M385.75 442.14h.5M384.51 434.93h.5M384.61 443.96h.5M389.01 438.67h.5M390.46 440.62h.5M384.72 438.33h.5M390.40 439.02h.5M377.56 441.83h.5M379.75 433.83h.5M378.64 432.30h.5M396.97 439.57h.5M395.36 441.89h.5M386.12 434.65h.5M392.06 439.82h.5M387.35 435.30h.5M397.56 437.33h.5M390.60 440.63h.5M400.08 447.01h.5M391.61 439.66h.5M396.23 444.07h.5M376.98 440.89h.5M383.82 445.72h.5M399.37 437.60h.5M385.96 437.40h.5M392.26 444.21h.5M377.99 434.53h.5M392.83 441.64h.5M382.78 442.30h.5M396.27 446.57h.5M392.25 438.31h.5M394.32 442.75h.5M384.80 446.54h.5M398.35 449.34h.5M389.32 439.46h.5M387.12 441.15h.5M382.66 435.39h.5M400.66 443.70h.5M391.58 444.70h.5M384.61 439.58h.5M387.24 446.23h.5M387.78 441.85h.5M385.56 442.52h.5M392.66 440.85h.5M385.83 448.13h.5M382.03 437.97h.5M393.54 436.88h.5M381.73 442.52h.5M394.92 449.64h.5M387.40 434.93h.5M398.31 438.54h.5M389.95 439.30h.5M390.07 439.52h.5M393.37 444.84h.5M386.05 440.63h.5M386.70 437.67h.5M399.79 433.16h.5M375.80 434.24h.5M397.09 443.10h.5M395.93 436.29h.5M387.50 448.77h.5M379.33 432.86h.5M378.59 439.57h.5M394.48 444.02h.5M387.34 442.07h.5M387.96 439.15h.5M397.94 441.16h.5M387.19 440.87h.5M389.70 442.58h.5M396.09 440.77h.5M391.74 439.60h.5M384.70 448.32h.5M385.61 447.62h.5M378.25 447.55h.5M380.70 440.54h.5M389.13 440.88h.5M388.53 438.03h.5M394.21 439.65h.5M381.20 444.06h.5M391.94 438.23h.5M379.48 444.68h.5M389.40 440.13h.5M383.86 436.34h.5M398.19 442.40h.5M383.33 443.17h.5M390.54 441.40h.5M376.41 442.81h.5M393.26 436.56h.5M392.17 439.93h.5M389.96 436.77h.5M393.90 440.83h.5M387.96 441.96h.5M381.26 442.56h.5M400.53 443.31h.5M388.40 437.31h.5M389.99 440.61h.5M386.42 438.79h.5M387.82 443.31h.5M389.03 442.22h.5M390.39 431.23h.5M387.57 440.82h.5M395.34 442.95h.5M399.22 435.15h.5M389.53 438.09h.5M390.29 442.11h.5M391.43 437.11h.5M393.47 444.65h.5M389.77 441.28h.5M399.05 444.50h.5M385.32 445.36h.5M391.81 437.15h.5M384.18 433.67h.5M382.94 440.88h.5M394.97 440.57h.5M385.55 439.66h.5M384.14 439.11h.5M400.87 441.16h.5M380.87 440.46h.5M383.76 436.61h.5M382.51 447.77h.5M382.34 437.69h.5M387.46 445.02h.5M391.67 439.43h.5M387.31 446.16h.5M383.78 443.33h.5M382.09 440.34h.5M387.39 444.18h.5M375.69 434.80h.5M388.59 441.24h.5M394.02 435.20h.5M395.43 443.04h.5M387.12 446.16h.5M384.60 445.03h.5M397.96 440.32h.5M390.01 439.05h.5M390.08 442.67h.5M385.40 440.68h.5M391.02 435.91h.5M389.11 441.36h.5M399.39 442.69h.5M386.37 440.41h.5M392.95 436.92h.5M391.91 437.60h.5M395.50 444.91h.5M383.11 443.94h.5M394.09 436.07h.5M386.28 440.48h.5M395.20 438.18h.5M396.64 444.88h.5M387.68 439.72h.5M390.33 442.51h.5M392.33 435.31h.5M384.74 435.01h.5M396.84 444.31h.5M387.56 443.35h.5M381.14 440.83h.5M392.08 434.67h.5M389.09 436.29h.5M395.34 440.37h.5M386.09 436.73h.5M395.62 441.31h.5M384.69 438.57h.5M383.00 445.34h.5M385.56 447.58h.5M386.04 437.21h.5M386.84 440.28h.5M393.79 450.23h.5M378.98 446.76h.5M387.10 442.40h.5M389.90 431.95h.5M395.82 435.99h.5M384.65 435.25h.5M392.54 448.51h.5M390.32 444.31h.5M383.85 436.03h.5M390.82 434.16h.5M382.65 441.15h.5M381.65 442.67h.5M398.31 437.61h.5M387.20 440.62h.5M392.15 436.32h.5M383.67 444.77h.5M393.15 447.71h.5M400.10 442.40h.5M384.06 438.20h.5M382.02 444.24h.5M395.76 446.56h.5M385.17 445.71h.5M384.80 440.93h.5M384.64 442.56h.5M389.91 441.08h.5M373.01 442.48h.5M395.24 444.47h.5M379.95 432.77h.5M397.81 440.82h.5M385.86 436.56h.5M383.53 436.33h.5M383.32 442.47h.5M376.27 447.41h.5M397.45 433.84h.5M389.90 441.40h.5M394.88 428.42h.5M397.47 446.52h.5M384.42 439.08h.5M395.10 442.04h.5M400.88 435.98h.5M379.48 439.94h.5M388.98 438.69h.5M392.84 438.02h.5M392.38 436.15h.5M400.01 444.09h.5M389.76 437.49h.5M386.03 436.99h.5M378.34 436.80h.5M396.82 439.29h.5M395.41 441.30h.5M385.06 436.11h.5M385.93 440.83h.5M383.09 437.89h.5M380.69 446.15h.5M377.51 442.54h.5M379.99 439.16h.5M391.49 436.25h.5M399.07 437.64h.5M377.21 435.71h.5M377.63 445.23h.5M390.20 439.78h.5M382.44 442.31h.5M386.32 438.49h.5M390.08 436.45h.5M377.82 444.79h.5M400.89 432.90h.5M392.09 434.55h.5M383.99 439.06h.5M394.96 433.75h.5M398.71 440.52h.5M400.17 437.16h.5M372.69 443.62h.5M380.64 450.41h.5M390.85 444.70h.5M380.68 440.06h.5M389.80 433.24h.5M378.33 441.23h.5M391.95 438.62h.5M374.39 438.10h.5M379.85 436.14h.5M384.70 432.69h.5M390.68 445.60h.5M397.97 433.76h.5M390.18 442.54h.5M385.02 447.54h.5M393.05 445.76h.5M389.07 443.08h.5M393.91 436.54h.5M376.00 440.70h.5M381.02 444.30h.5M380.48 442.48h.5M378.88 448.48h.5M389.95 435.70h.5M388.17 441.02h.5M370.42 435.99h.5M390.64 437.08h.5M385.57 446.34h.5M397.02 441.20h.5M391.35 446.98h.5M390.94 434.50h.5M389.78 435.50h.5M382.50 440.69h.5M387.79 440.11h.5M393.70 439.52h.5M389.85 443.43h.5M384.62 439.45h.5M386.02 435.88h.5M382.25 442.30h.5M388.93 434.62h.5M393.36 443.44h.5M394.92 445.45h.5M389.13 442.85h.5M386.87 436.39h.5M387.57 442.30h.5M390.09 437.96h.5M383.16 438.02h.5M385.25 439.27h.5M391.98 439.99h.5M372.43 443.42h.5M384.84 448.32h.5M386.65 440.17h.5M377.89 446.30h.5M384.84 444.54h.5M390.97 448.10h.5M389.60 440.65h.5M384.68 433.82h.5M391.42 437.68h.5M395.37 445.36h.5M390.25 449.69h.5M391.02 443.88h.5M382.99 443.29h.5M387.72 446.35h.5M387.86 431.77h.5M394.75 445.13h.5M379.64 440.43h.5M391.10 443.75h.5M381.57 437.34h.5M384.71 438.62h.5M383.98 441.36h.5M378.40 442.15h.5M381.32 438.40h.5M383.57 443.72h.5M389.42 438.40h.5M390.85 436.47h.5M389.83 441.27h.5M388.60 435.40h.5M390.79 442.77h.5M390.97 438.67h.5M395.51 447.80h.5M396.86 441.69h.5M400.24 437.52h.5M375.88 437.11h.5M383.47 438.07h.5M387.25 441.79h.5M386.03 436.48h.5M385.93 442.45h.5M381.19 434.78h.5M385.00 439.15h.5M383.97 439.23h.5M383.70 443.47h.5M384.19 441.37h.5M383.68 438.57h.5M385.14 431.22h.5M380.84 439.36h.5M393.69 436.51h.5M380.15 439.21h.5M378.68 432.90h.5M388.43 441.90h.5M385.09 442.22h.5M391.87 443.65h.5M386.48 442.57h.5M384.18 441.29h.5M394.26 447.37h.5M391.23 438.64h.5M384.31 435.93h.5M393.77 445.44h.5M382.85 438.77h.5M387.07 434.65h.5M379.50 442.63h.5M383.44 442.85h.5M390.84 446.05h.5M383.46 446.19h.5M385.14 440.65h.5M397.37 438.57h.5M380.10 443.30h.5M385.95 434.32h.5M397.45 437.82h.5M393.79 440.26h.5M382.60 440.96h.5M378.43 444.98h.5M381.08 440.76h.5M388.17 435.23h.5M399.23 441.48h.5M389.77 434.79h.5M385.36 439.95h.5M385.10 437.91h.5M372.49 436.21h.5M394.18 435.68h.5M397.23 438.51h.5M385.67 441.22h.5M387.22 443.09h.5M380.57 440.94h.5M379.79 449.85h.5M377.19 445.99h.5M396.89 439.61h.5M387.05 439.96h.5M391.58 442.80h.5M391.43 443.58h.5M390.55 437.06h.5M392.56 438.22h.5M380.63 441.96h.5M386.64 430.19h.5M393.81 440.57h.5M391.34 435.43h.5M386.60 438.06h.5M387.66 444.97h.5M381.51 439.00h.5M385.43 441.88h.5M376.91 443.10h.5M383.88 446.08h.5M396.72 439.26h.5M383.68 438.78h.5M383.11 444.33h.5M382.35 441.07h.5M389.72 442.23h.5M379.12 443.68h.5M385.73 442.97h.5M386.62 434.96h.5M394.55 439.67h.5M384.02 435.09h.5M385.25 445.34h.5M396.78 443.31h.5M384.13 441.13h.5M389.79 438.17h.5M385.53 441.40h.5M381.43 439.48h.5M380.23 437.99h.5M384.53 442.04h.5M392.14 437.75h.5M388.99 446.32h.5M372.67 439.98h.5M377.61 445.40h.5M391.55 442.48h.5M390.55 434.00h.5M396.50 439.42h.5M386.99 434.64h.5M388.64 433.93h.5M377.06 449.86h.5M386.41 449.57h.5M398.54 445.66h.5M373.96 447.14h.5M388.77 438.24h.5M394.20 436.30h.5M385.95 443.12h.5M387.60 432.83h.5M389.43 440.33h.5M385.97 441.82h.5M384.46 445.91h.5M375.97 437.64h.5M392.12 444.44h.5M399.66 444.63h.5M379.68 444.09h.5M385.58 446.13h.5M395.17 437.10h.5M386.17 441.26h.5M379.62 434.50h.5M385.41 443.48h.5M398.26 442.43h.5M389.57 438.91h.5M397.87 435.07h.5M392.01 444.84h.5M398.17 437.30h.5M381.26 439.06h.5M393.83 442.39h.5M387.92 444.20h.5M387.95 439.83h.5M400.42 439.08h.5M390.38 437.72h.5M391.73 438.17h.5M393.32 439.66h.5M387.92 449.77h.5M392.95 444.37h.5M385.54 439.28h.5M393.90 443.96h.5M391.17 445.04h.5M372.87 440.92h.5M396.30 443.16h.5M396.51 436.85h.5M392.00 437.42h.5M376.97 447.53h.5M393.30 446.72h.5M383.47 440.28h.5M383.30 445.54h.5M384.29 438.26h.5M385.46 438.63h.5M383.64 447.84h.5M380.26 437.09h.5M378.60 445.19h.5M381.87 443.56h.5M398.41 442.19h.5M377.93 443.05h.5M385.57 446.45h.5M379.06 444.39h.5M377.47 442.83h.5M376.02 430.72h.5M391.37 435.72h.5M396.55 440.98h.5M383.68 444.78h.5M383.22 440.78h.5M379.85 439.02h.5M380.78 446.69h.5M380.18 445.99h.5M395.93 439.32h.5M387.51 436.71h.5M399.47 438.36h.5M389.76 438.73h.5M388.27 442.97h.5M391.70 444.96h.5M388.41 442.87h.5M376.88 439.02h.5M374.95 444.13h.5M388.14 435.38h.5M383.70 442.10h.5M398.57 438.43h.5M390.81 435.57h.5M393.83 440.04h.5M382.45 445.50h.5M388.66 444.66h.5M383.78 439.00h.5M379.99 438.82h.5M385.98 441.29h.5M382.73 438.48h.5M369.32 446.77h.5M394.54 442.62h.5M389.33 435.49h.5M378.99 439.03h.5M384.42 442.12h.5M383.78 431.05h.5M393.25 438.27h.5M391.33 439.88h.5M393.16 443.23h.5M384.36 441.58h.5M388.62 440.69h.5M378.62 437.90h.5M388.03 439.29h.5M373.22 443.64h.5M388.11 439.42h.5M381.61 437.46h.5M388.18 445.99h.5M396.65 440.61h.5M388.82 441.38h.5M393.72 444.77h.5M394.22 440.41h.5M395.43 432.83h.5M380.27 442.34h.5M393.85 437.43h.5M394.92 439.61h.5M386.98 440.24h.5M384.85 444.64h.5M385.05 437.73h.5M393.53 435.99h.5M387.80 437.32h.5M387.19 434.38h.5M384.94 433.87h.5M389.74 441.17h.5M380.95 434.79h.5M381.92 436.95h.5M398.51 443.47h.5M382.85 443.55h.5M390.17 435.69h.5M376.37 437.62h.5M378.68 437.41h.5M383.80 441.77h.5M374.90 448.22h.5M384.42 436.44h.5M382.08 436.45h.5M396.01 436.90h.5M370.34 437.30h.5M391.78 435.88h.5M387.40 445.79h.5M394.02 435.80h.5M393.51 440.48h.5M385.32 448.39h.5M382.68 443.22h.5M384.88 437.58h.5M377.78 442.41h.5M389.77 447.22h.5M381.85 445.65h.5M384.40 435.35h.5M389.76 443.99h.5M385.98 445.33h.5M400.30 446.71h.5M389.63 437.18h.5M400.15 441.71h.5M385.12 435.91h.5M391.68 447.82h.5M391.93 436.83h.5M389.47 439.01h.5M391.21 447.63h.5M375.94 441.69h.5M385.36 441.68h.5M385.54 436.71h.5M398.02 439.28h.5M385.00 444.84h.5M393.53 444.64h.5M383.00 439.31h.5M393.10 437.93h.5M380.47 436.62h.5M383.50 434.73h.5M383.50 438.46h.5M394.21 436.29h.5M386.53 438.63h.5M381.84 436.01h.5M387.26 443.02h.5M388.00 434.97h.5M395.77 440.74h.5M387.17 434.70h.5M385.11 447.77h.5M389.99 440.15h.5M385.88 436.82h.5M381.07 439.86h.5M383.28 442.94h.5M382.10 444.50h.5M379.16 433.99h.5M396.24 436.59h.5M389.55 442.85h.5M389.03 445.26h.5M392.86 440.60h.5M387.94 445.89h.5M387.99 444.19h.5M395.46 436.07h.5M373.45 446.92h.5M380.28 444.20h.5M388.07 431.00h.5M370.02 439.75h.5M377.05 438.77h.5M387.65 440.34h.5M390.54 434.74h.5M388.02 439.23h.5M391.42 448.68h.5M398.80 435.97h.5M397.21 440.49h.5M376.94 438.26h.5M381.63 436.84h.5M387.35 437.52h.5M368.94 449.42h.5M373.22 438.14h.5M386.67 438.95h.5M395.64 432.72h.5M368.87 442.45h.5M384.56 432.23h.5M395.36 442.23h.5M364.83 442.18h.5M392.71 445.61h.5M376.43 439.11h.5M384.51 444.15h.5M376.08 439.71h.5M381.24 439.49h.5M375.62 443.14h.5M398.22 450.22h.5M384.59 443.08h.5M386.39 443.20h.5M371.98 428.21h.5M376.66 447.06h.5M389.54 450.01h.5M372.24 441.86h.5M371.75 440.92h.5M396.95 435.02h.5M392.79 439.72h.5M368.78 437.09h.5M397.60 425.64h.5M397.27 426.64h.5M393.52 434.34h.5M366.11 434.93h.5M389.82 440.39h.5M389.16 441.28h.5M371.16 444.01h.5M385.41 441.01h.5" stroke="#000" stroke-width=".6" stroke-opacity=".5" fill="none"/>
<path d="M363.00 414.10 Q363.00 412.70 364.40 412.70 L381.40 412.70 Q383.20 412.70 383.00 414.90 L371.00 430.20 Q370.60 430.70 369.80 430.70 L364.00 430.70 Q363.00 430.70 363.00 429.70 Z" stroke="#c8324f" stroke-width="0.9" fill="none" stroke-linejoin="round"/>
<rect x="374.70" y="429.00" width="25.8" height="21.6" fill="none" stroke="#4b6aa6" stroke-width=".8"/>
<text x="384.60" y="417.50" font-size="6.27" fill="#c8324f" stroke="#c8324f" stroke-width="0.05">0.7</text>
<text x="400.90" y="427.10" font-size="6.27" text-anchor="end" fill="#4b6aa6" stroke="#4b6aa6" stroke-width="0.05">94.1</text>
<rect x="408.9" y="411.5" width="43.3" height="42.9" fill="#fff" stroke="#1f1f1f" stroke-width="1"/>
<path d="M405.70 415.50H408.90M407.30 418.65H408.90M407.30 420.75H408.90M407.30 422.01H408.90M407.30 423.06H408.90M407.30 423.90H408.90M407.30 424.53H408.90M405.70 425.70H408.90M407.30 428.85H408.90M407.30 430.95H408.90M407.30 432.21H408.90M407.30 433.26H408.90M407.30 434.10H408.90M407.30 434.73H408.90M405.70 436.80H408.90M407.30 439.95H408.90M407.30 442.05H408.90M407.30 443.31H408.90M407.30 444.36H408.90M407.30 445.20H408.90M407.30 445.83H408.90M405.70 446.30H408.90M407.30 449.45H408.90M407.30 451.55H408.90M407.30 452.81H408.90M407.30 453.86H408.90M410.90 454.40V457.60M413.90 454.40V456.00M415.90 454.40V456.00M417.10 454.40V456.00M418.10 454.40V456.00M418.90 454.40V456.00M419.50 454.40V456.00M418.10 454.40V457.60M421.10 454.40V456.00M423.10 454.40V456.00M424.30 454.40V456.00M425.30 454.40V456.00M426.10 454.40V456.00M426.70 454.40V456.00M428.10 454.40V457.60M431.10 454.40V456.00M433.10 454.40V456.00M434.30 454.40V456.00M435.30 454.40V456.00M436.10 454.40V456.00M436.70 454.40V456.00M438.90 454.40V457.60M441.90 454.40V456.00M443.90 454.40V456.00M445.10 454.40V456.00M446.10 454.40V456.00M446.90 454.40V456.00M447.50 454.40V456.00M449.40 454.40V457.60" stroke="#1f1f1f" stroke-width="0.8" fill="none" />
<ellipse cx="417.20" cy="443.50" rx="1.15" ry="3.30" fill="url(#bg)" opacity="0.85"/>
<ellipse cx="437.20" cy="437.70" rx="11.05" ry="9.86" fill="url(#bg)" opacity="0.95"/>
<path d="M416.42 442.27h.5M416.97 439.98h.5M417.38 437.86h.5M417.46 443.50h.5M416.98 441.67h.5M417.21 443.21h.5M416.78 440.90h.5M417.55 441.44h.5M417.14 444.94h.5M417.14 444.53h.5M418.02 441.10h.5M417.05 438.26h.5M417.41 443.39h.5M417.74 444.62h.5M417.48 445.39h.5M417.34 442.89h.5M417.09 442.83h.5M417.49 446.13h.5M418.18 440.18h.5M416.57 444.47h.5M417.56 443.85h.5M417.71 442.17h.5M416.79 439.05h.5M416.79 441.00h.5M416.78 443.05h.5M418.27 437.61h.5M417.57 441.71h.5M419.12 429.69h.5M419.01 423.86h.5M417.19 425.03h.5M418.24 425.48h.5M417.13 424.25h.5M418.49 421.08h.5M417.55 423.72h.5M417.45 429.83h.5M419.11 424.31h.5M419.76 423.50h.5M418.66 423.31h.5M418.40 426.39h.5M418.36 420.10h.5M420.86 430.76h.5M418.45 418.05h.5M417.77 413.55h.5M442.44 446.87h.5M447.87 436.20h.5M434.28 433.96h.5M445.15 431.77h.5M440.38 443.82h.5M449.03 438.08h.5M444.77 440.13h.5M445.57 442.12h.5M437.99 440.94h.5M434.65 440.26h.5M434.93 433.65h.5M438.47 435.67h.5M441.57 443.14h.5M444.24 442.39h.5M435.93 430.06h.5M423.32 446.87h.5M446.89 440.25h.5M449.60 432.26h.5M431.75 439.83h.5M428.64 437.63h.5M431.69 441.13h.5M439.00 434.01h.5M436.00 442.56h.5M430.30 440.62h.5M431.85 433.10h.5M446.60 435.38h.5M424.97 430.18h.5M437.10 443.25h.5M428.11 441.04h.5M431.82 451.19h.5M439.82 445.08h.5M431.05 423.89h.5M439.72 431.46h.5M439.28 428.80h.5M437.20 438.60h.5M443.10 433.58h.5M431.73 436.22h.5M443.54 443.22h.5M442.41 441.74h.5M424.81 444.76h.5M442.62 437.04h.5M440.51 441.55h.5M436.04 438.33h.5M432.03 441.22h.5M427.24 437.43h.5M433.00 442.76h.5M446.17 439.98h.5M439.59 441.65h.5M427.01 438.96h.5M428.48 438.77h.5M433.46 434.98h.5M442.60 446.31h.5M431.01 434.46h.5M436.38 434.32h.5M436.30 438.21h.5M430.11 444.98h.5M424.81 437.81h.5M446.33 439.79h.5M430.11 435.03h.5M433.61 434.30h.5M426.81 431.04h.5M439.68 438.16h.5M435.82 445.14h.5M445.00 432.15h.5M441.13 432.67h.5M432.95 421.85h.5M438.34 434.17h.5M433.51 440.84h.5M443.72 429.61h.5M442.46 444.85h.5M435.71 427.25h.5M445.70 428.21h.5M443.56 431.73h.5M432.59 429.89h.5M439.69 442.38h.5M439.11 432.12h.5M435.67 443.37h.5M440.21 432.24h.5M446.60 439.87h.5M431.89 428.22h.5M435.19 435.94h.5M443.58 442.44h.5M432.70 435.77h.5M437.76 428.40h.5M439.10 437.82h.5M435.36 423.94h.5M437.65 432.39h.5M440.06 440.54h.5M420.74 442.64h.5M430.74 444.54h.5M440.23 439.82h.5M430.09 439.39h.5M433.63 446.66h.5M438.50 442.21h.5M429.41 444.56h.5M434.44 440.28h.5M446.48 437.19h.5M433.23 442.52h.5M446.78 437.80h.5M448.94 441.72h.5M433.96 432.87h.5M436.44 432.39h.5M426.71 438.99h.5M440.67 443.95h.5M426.08 433.31h.5M443.35 437.19h.5M436.31 434.95h.5M429.69 439.48h.5M431.95 443.82h.5M435.94 441.28h.5M431.73 433.35h.5M447.40 426.23h.5M440.83 434.19h.5M433.50 441.38h.5M434.68 441.75h.5M437.40 440.02h.5M448.52 437.22h.5M437.22 449.35h.5M428.39 440.20h.5M430.34 427.84h.5M447.27 444.20h.5M435.76 438.75h.5M426.70 441.75h.5M431.06 445.83h.5M446.88 443.19h.5M436.28 436.73h.5M438.32 440.24h.5M442.89 431.00h.5M436.19 434.95h.5M445.89 448.94h.5M441.63 438.16h.5M430.72 432.83h.5M427.34 435.40h.5M439.38 431.83h.5M433.75 436.27h.5M448.71 429.72h.5M442.43 439.64h.5M444.36 442.22h.5M444.34 443.13h.5M434.83 439.80h.5M441.85 437.89h.5M434.26 435.98h.5M432.86 442.23h.5M417.83 436.39h.5M445.38 432.79h.5M440.43 437.39h.5M428.73 428.89h.5M429.94 423.69h.5M437.55 441.48h.5M435.35 434.32h.5M431.68 435.06h.5M439.85 441.19h.5M440.28 435.22h.5M443.16 441.32h.5M438.86 445.35h.5M435.84 422.94h.5M434.32 432.86h.5M436.61 444.50h.5M434.93 445.57h.5M423.68 442.30h.5M438.89 429.04h.5M435.03 450.24h.5M447.34 431.48h.5M439.15 436.64h.5M446.86 434.16h.5M441.78 447.45h.5M444.48 432.22h.5M447.46 434.66h.5M425.50 431.42h.5M450.32 435.31h.5M426.76 434.77h.5M437.28 441.82h.5M442.50 441.65h.5M439.16 428.46h.5M439.14 432.76h.5M431.32 449.66h.5M448.24 447.05h.5M439.97 432.61h.5M444.68 423.96h.5M426.36 432.46h.5M448.60 449.59h.5M447.06 440.03h.5M437.54 427.43h.5M437.60 446.43h.5M438.77 442.50h.5M437.46 425.84h.5M440.11 448.86h.5M430.07 434.39h.5M430.02 444.06h.5M433.95 435.90h.5M449.89 432.05h.5M431.65 430.99h.5M442.76 430.73h.5M434.62 431.67h.5M447.15 449.59h.5M447.94 434.19h.5M436.78 434.96h.5M438.95 426.16h.5M434.38 442.88h.5M445.18 440.08h.5M449.11 432.31h.5M420.79 439.45h.5M433.57 435.71h.5M426.65 445.03h.5M433.87 435.11h.5M440.01 447.00h.5M432.09 436.88h.5M438.06 440.90h.5M445.56 429.31h.5M441.33 428.16h.5M439.78 438.77h.5M434.79 428.94h.5M443.03 428.04h.5M428.28 441.67h.5M439.26 437.12h.5M430.84 432.31h.5M426.75 437.75h.5M433.93 439.64h.5M435.85 422.48h.5M423.02 439.17h.5M442.22 430.90h.5M441.62 433.40h.5M431.42 443.01h.5M433.32 438.56h.5M445.13 442.80h.5M439.29 445.25h.5M433.18 443.21h.5M427.11 448.82h.5M440.71 438.46h.5M441.25 437.98h.5M431.60 433.50h.5M441.30 435.82h.5M426.56 449.47h.5M430.35 437.93h.5M421.19 430.79h.5M440.75 431.82h.5M447.18 422.92h.5M433.64 442.57h.5M443.13 433.88h.5M442.75 440.19h.5M436.29 433.41h.5M434.12 436.55h.5M427.49 441.33h.5M445.54 441.53h.5M437.95 444.52h.5M436.72 436.78h.5M428.75 440.43h.5M445.91 436.88h.5M448.02 428.70h.5M443.11 432.08h.5M440.69 441.82h.5M439.50 439.01h.5M426.69 441.43h.5M433.84 427.17h.5M438.40 440.99h.5M445.47 439.18h.5M434.03 447.86h.5M437.45 432.03h.5M436.62 445.24h.5M446.76 427.42h.5M436.16 427.69h.5M436.38 436.42h.5M436.84 436.71h.5M442.37 438.25h.5M433.58 448.08h.5M435.67 433.42h.5M438.69 437.49h.5M424.05 435.68h.5M444.92 443.64h.5M435.76 445.66h.5M448.82 439.38h.5M430.64 434.28h.5M439.22 440.50h.5M432.14 442.00h.5M434.10 441.61h.5M431.23 439.04h.5M433.93 432.14h.5M441.18 438.18h.5M444.48 438.00h.5M431.24 438.87h.5M426.40 433.94h.5M427.99 439.72h.5M437.67 437.44h.5M437.00 440.69h.5M424.62 433.76h.5M427.39 431.17h.5M423.35 446.47h.5M431.80 426.34h.5M440.20 441.19h.5M435.82 433.40h.5M435.34 429.80h.5M445.18 436.55h.5M430.73 436.81h.5M440.73 434.97h.5M443.34 436.39h.5M440.86 443.22h.5M438.17 444.71h.5M432.51 432.25h.5M430.89 435.30h.5M434.98 431.52h.5M435.86 444.31h.5M426.72 437.24h.5M443.95 437.68h.5M433.03 436.40h.5M439.10 426.79h.5M431.91 437.97h.5M442.30 442.35h.5M438.12 450.34h.5M422.72 443.94h.5M441.86 430.95h.5M446.77 443.43h.5M430.15 430.53h.5M434.70 438.42h.5M442.69 442.33h.5M437.28 437.96h.5M441.34 431.91h.5M429.19 420.44h.5M435.91 431.43h.5M434.12 442.30h.5M435.08 439.62h.5M442.40 440.89h.5M430.27 447.42h.5M445.01 448.05h.5M437.45 438.80h.5M432.15 435.40h.5M438.91 446.11h.5M437.78 441.60h.5M439.28 426.36h.5M441.05 434.10h.5M431.09 442.23h.5M435.98 442.81h.5M433.63 437.70h.5M430.10 437.05h.5M444.10 437.18h.5M446.49 438.78h.5M426.46 428.35h.5M434.10 434.24h.5M434.83 442.39h.5M435.51 429.78h.5M425.88 443.10h.5M437.33 431.21h.5M439.54 441.24h.5M432.73 441.79h.5M437.65 439.46h.5M430.06 434.74h.5M420.14 432.51h.5M443.77 435.45h.5M430.77 446.00h.5M435.47 442.01h.5M433.25 435.06h.5M425.40 436.60h.5M437.13 438.12h.5M434.29 439.24h.5M436.08 435.62h.5M446.87 443.38h.5M447.09 434.88h.5M442.84 439.97h.5M433.39 446.84h.5M429.25 447.84h.5M434.93 436.75h.5M434.22 440.52h.5M437.86 435.48h.5M435.39 433.13h.5M440.04 435.58h.5M447.31 440.55h.5M439.26 440.54h.5M443.47 426.46h.5M441.86 426.54h.5M436.90 431.49h.5M441.18 434.76h.5M447.18 427.88h.5M443.23 434.75h.5M445.63 434.92h.5M434.24 440.77h.5M425.78 431.12h.5M435.04 435.00h.5M435.90 434.67h.5M439.88 427.32h.5M441.17 438.36h.5M446.03 432.61h.5M441.78 434.77h.5M442.83 446.51h.5M435.79 431.60h.5M431.61 441.30h.5M429.04 424.57h.5M446.88 439.90h.5M442.53 437.18h.5M440.92 439.96h.5M439.06 426.20h.5M442.01 437.87h.5M434.76 433.02h.5M430.80 427.70h.5M441.98 437.61h.5M440.00 433.70h.5M432.50 435.71h.5M442.75 441.85h.5M446.83 439.33h.5M439.36 432.00h.5M436.13 435.85h.5M423.55 440.32h.5M431.32 434.84h.5M435.53 447.01h.5M441.89 432.81h.5M443.80 436.24h.5M442.19 437.81h.5M433.68 429.68h.5M436.52 432.55h.5M445.63 432.93h.5M444.40 429.35h.5M438.14 438.99h.5M431.70 437.43h.5M433.55 429.64h.5M450.11 432.81h.5M441.12 429.65h.5M437.79 439.04h.5M439.63 434.11h.5M430.72 439.41h.5M429.19 429.28h.5M446.73 434.62h.5M436.43 434.96h.5M436.61 440.22h.5M434.73 428.96h.5M445.19 435.45h.5M429.84 443.26h.5M448.20 432.95h.5M432.21 437.12h.5M444.91 437.95h.5M445.17 422.73h.5M434.53 439.21h.5M449.42 440.55h.5M441.16 427.85h.5M431.27 445.93h.5M434.29 428.07h.5M423.58 429.51h.5M438.07 431.25h.5M420.33 433.00h.5M418.27 432.04h.5M443.09 441.69h.5M439.41 438.19h.5M437.70 448.34h.5M440.34 439.44h.5M440.13 430.95h.5M425.16 450.82h.5M434.39 441.79h.5M441.88 427.22h.5M426.64 437.23h.5M432.26 442.26h.5M450.93 441.17h.5M445.53 441.81h.5M433.16 416.25h.5M439.99 447.12h.5M437.76 424.54h.5M442.62 449.21h.5M433.34 436.54h.5M437.80 446.54h.5M441.42 439.93h.5M429.09 426.07h.5M440.05 433.94h.5M431.38 435.51h.5M445.36 451.93h.5M425.20 442.33h.5M442.88 436.38h.5M446.88 441.04h.5M429.83 436.87h.5M442.22 438.56h.5M445.88 437.79h.5M440.53 437.56h.5M438.14 441.09h.5M417.49 428.49h.5M438.47 436.71h.5M449.11 437.67h.5M431.77 437.09h.5M435.06 437.38h.5M440.82 432.41h.5M427.58 440.97h.5M440.07 422.57h.5M441.60 423.74h.5M437.94 426.46h.5M433.00 437.91h.5M440.43 427.04h.5M446.79 441.09h.5M442.55 423.47h.5M432.48 432.93h.5M431.48 434.89h.5M444.22 440.63h.5M428.95 437.22h.5M438.01 432.74h.5M440.09 444.59h.5M435.26 438.47h.5M446.98 437.69h.5M431.31 436.75h.5M442.26 439.60h.5M437.59 444.24h.5M422.21 434.66h.5M440.98 429.59h.5M422.18 437.82h.5M447.57 433.85h.5M433.79 434.82h.5M438.17 451.02h.5M434.57 432.36h.5M437.00 434.36h.5M445.58 439.99h.5M443.76 432.90h.5M441.51 437.16h.5M439.64 442.22h.5M420.67 447.93h.5M432.75 437.21h.5M439.14 424.09h.5M441.41 436.82h.5M435.97 424.95h.5M436.54 437.12h.5M445.84 438.45h.5M432.67 436.65h.5M436.64 438.78h.5M423.67 437.66h.5M437.93 442.83h.5M444.34 437.78h.5M437.96 432.15h.5M437.60 437.30h.5M436.16 436.16h.5M446.04 445.26h.5M444.78 429.84h.5M415.14 437.28h.5M439.72 443.94h.5M414.88 442.78h.5M429.72 436.43h.5M437.06 435.32h.5M422.54 429.20h.5M444.37 435.49h.5M429.40 438.62h.5M431.96 439.08h.5M436.98 438.66h.5M442.44 445.31h.5M435.16 438.96h.5M438.15 446.96h.5M443.67 437.84h.5M430.85 438.58h.5M436.09 438.26h.5M436.57 432.13h.5M446.10 442.29h.5M437.93 436.15h.5M433.74 433.88h.5M426.01 432.16h.5M430.22 429.56h.5M449.49 446.29h.5M431.66 436.87h.5M433.38 445.11h.5M437.88 439.87h.5M420.31 440.45h.5M441.81 443.78h.5M422.70 436.78h.5M439.52 433.13h.5M438.47 439.35h.5M441.54 438.74h.5M436.54 429.09h.5M433.35 450.45h.5M431.41 436.36h.5M450.89 433.04h.5M437.20 433.15h.5M436.40 440.40h.5M434.86 429.39h.5M436.18 438.31h.5M431.46 441.62h.5M429.02 446.82h.5M431.18 441.94h.5M438.00 439.40h.5M434.09 447.17h.5M445.39 431.80h.5M432.76 428.09h.5M425.73 442.43h.5M434.38 433.99h.5M428.76 430.81h.5M432.91 440.27h.5M444.10 429.97h.5M414.02 428.12h.5M428.37 435.04h.5M433.99 425.36h.5M438.98 432.10h.5M431.72 429.18h.5M433.52 433.94h.5M430.12 439.40h.5M440.28 434.97h.5M439.98 444.84h.5M439.87 434.12h.5M446.68 433.24h.5M423.62 434.83h.5M431.19 429.79h.5M435.85 446.02h.5M436.37 448.11h.5M436.14 431.29h.5M427.98 444.28h.5M431.62 440.91h.5M428.40 445.51h.5M440.43 436.46h.5M431.47 434.58h.5M438.90 441.95h.5M448.25 434.61h.5M440.36 437.52h.5M445.71 438.51h.5M439.58 437.38h.5M439.16 447.27h.5M440.29 442.83h.5M437.17 438.20h.5M429.54 441.64h.5M437.09 445.38h.5M418.80 439.59h.5M427.44 445.54h.5M438.23 436.56h.5M445.48 434.95h.5M436.34 445.17h.5M430.79 436.75h.5M437.04 435.02h.5M430.66 445.21h.5M432.18 441.35h.5M435.61 430.58h.5M430.00 433.96h.5M440.82 439.59h.5M435.81 438.77h.5M434.54 446.51h.5M429.99 437.09h.5M437.87 439.54h.5M436.64 438.66h.5M432.26 445.43h.5M435.05 437.43h.5M427.61 428.51h.5M439.95 438.59h.5M443.11 442.99h.5M443.95 444.52h.5M433.58 448.10h.5M422.61 444.32h.5M433.92 450.20h.5M432.43 434.06h.5M438.56 436.67h.5M436.16 435.74h.5M436.75 434.78h.5M438.97 440.02h.5M441.09 431.29h.5M428.39 437.43h.5M438.11 432.41h.5M436.65 452.82h.5M433.77 441.38h.5M425.03 437.00h.5M440.96 441.53h.5M435.12 434.21h.5M442.47 438.59h.5M441.19 441.10h.5M435.30 437.45h.5M433.37 432.33h.5M438.61 436.02h.5M444.92 439.03h.5M448.02 432.48h.5M442.15 437.44h.5M439.20 437.40h.5M436.22 427.78h.5M438.30 439.82h.5M440.56 428.55h.5M426.83 426.84h.5M437.41 440.20h.5M441.32 435.55h.5M441.52 448.81h.5M433.57 440.03h.5M428.09 434.70h.5M444.37 451.44h.5M439.73 439.42h.5M436.55 435.89h.5M431.76 438.50h.5M434.58 435.38h.5M437.99 452.26h.5M435.58 429.99h.5M435.88 433.69h.5M426.68 440.21h.5M444.29 442.12h.5M440.68 442.04h.5M421.24 423.08h.5M449.89 435.19h.5M449.97 440.66h.5M437.24 447.97h.5M442.00 447.03h.5M443.35 448.88h.5M435.99 437.12h.5M431.66 430.12h.5M440.22 428.49h.5M437.60 432.86h.5M441.64 434.44h.5M439.86 450.93h.5M439.22 438.11h.5M441.65 431.47h.5M428.85 435.52h.5M432.17 436.74h.5M426.07 431.88h.5M437.88 441.61h.5M443.89 442.71h.5M438.54 441.55h.5M450.99 436.22h.5M431.31 450.39h.5M428.48 439.00h.5M438.29 443.21h.5M438.96 437.70h.5M449.69 442.59h.5M430.59 433.62h.5M437.77 444.41h.5M436.23 443.23h.5M432.80 434.73h.5M437.31 445.97h.5M441.20 432.10h.5M434.08 445.86h.5M428.46 439.24h.5M428.59 433.84h.5M439.98 435.11h.5M436.03 440.38h.5M439.06 436.08h.5M432.20 429.74h.5M433.37 438.68h.5M431.02 435.15h.5M433.50 434.95h.5M445.85 443.53h.5M444.95 433.88h.5M422.91 428.68h.5M434.66 450.63h.5M437.51 436.20h.5M438.24 429.04h.5M439.94 450.41h.5M430.90 432.73h.5M419.72 435.37h.5M439.07 442.65h.5M431.60 438.10h.5M440.83 437.70h.5M446.76 434.79h.5M430.93 434.02h.5M421.74 432.27h.5M440.45 447.43h.5M437.50 442.05h.5M429.74 442.61h.5M436.14 435.76h.5M434.58 445.82h.5M446.15 439.86h.5M446.93 436.89h.5M445.06 441.72h.5M433.76 447.79h.5M430.63 437.71h.5M442.76 437.71h.5M441.70 438.92h.5M442.98 434.11h.5M442.28 437.46h.5M438.25 443.72h.5M444.61 441.65h.5M438.89 438.47h.5M442.48 433.95h.5M433.88 427.99h.5M430.23 439.89h.5M435.67 433.13h.5M439.90 446.16h.5M441.43 433.91h.5M439.89 442.55h.5M427.76 431.78h.5M433.88 439.55h.5M436.00 440.31h.5M442.56 442.74h.5M432.44 428.49h.5M433.30 427.78h.5M444.23 437.89h.5M431.28 445.37h.5M435.16 437.40h.5M434.23 435.68h.5M435.80 433.45h.5M431.61 431.83h.5M446.85 426.78h.5M445.22 434.19h.5M442.31 429.84h.5M433.06 446.62h.5M443.70 450.44h.5M438.86 443.97h.5M444.21 442.58h.5M422.93 440.64h.5M442.92 452.54h.5M433.51 441.78h.5M438.90 438.08h.5M445.58 438.34h.5M443.75 425.34h.5M447.16 437.10h.5M435.41 449.32h.5M429.14 443.37h.5M443.43 442.76h.5M436.59 436.65h.5M426.99 434.36h.5M448.13 439.36h.5M436.71 432.86h.5M439.59 446.37h.5M442.30 436.85h.5M437.40 435.89h.5M433.27 433.17h.5M446.66 431.25h.5M435.87 443.62h.5M437.13 432.79h.5M432.67 443.16h.5M430.54 438.09h.5M430.23 435.61h.5M442.10 430.89h.5M433.06 442.46h.5M441.47 431.53h.5M446.65 437.87h.5M433.35 446.74h.5M443.96 438.10h.5M439.99 438.81h.5M434.35 437.28h.5M444.18 438.42h.5M427.99 436.70h.5M426.91 429.47h.5M444.58 434.86h.5M441.56 439.21h.5M432.88 440.37h.5M447.13 437.21h.5M431.65 442.29h.5M435.59 439.28h.5M433.10 434.01h.5M438.24 441.53h.5M435.52 430.54h.5M437.11 435.99h.5M429.82 437.54h.5M431.48 433.48h.5M448.81 451.14h.5M443.15 435.28h.5M437.31 444.28h.5M433.58 443.65h.5M431.08 440.63h.5M438.87 437.54h.5M435.50 438.18h.5M442.80 428.22h.5M435.86 449.33h.5M443.92 445.71h.5M441.34 437.32h.5M444.48 447.91h.5M427.97 431.03h.5M439.24 423.63h.5M430.93 444.69h.5M430.39 436.03h.5M427.54 440.79h.5M430.97 426.70h.5M442.15 431.75h.5M443.09 439.44h.5M434.07 443.89h.5M441.32 441.20h.5M437.82 433.51h.5M426.68 429.50h.5M433.37 442.29h.5M448.14 440.49h.5M436.65 426.77h.5M448.39 446.37h.5M447.25 445.21h.5M428.56 438.86h.5M423.11 440.48h.5M430.74 445.00h.5M429.32 437.10h.5M448.06 435.65h.5M437.82 435.53h.5M439.16 438.79h.5M439.21 436.30h.5M435.78 438.24h.5M438.06 435.74h.5M435.73 447.31h.5M436.01 435.30h.5M425.41 427.56h.5M441.00 431.55h.5M445.76 436.33h.5M446.39 434.97h.5M429.46 433.24h.5M443.87 433.10h.5M434.19 431.07h.5M435.17 443.41h.5M439.21 437.52h.5M436.61 433.66h.5M434.76 430.57h.5M425.17 444.16h.5M440.47 437.52h.5M438.04 443.37h.5M438.76 450.26h.5M444.14 451.09h.5M438.88 439.67h.5M431.39 439.21h.5M442.59 433.92h.5M441.34 441.38h.5M427.25 436.62h.5M425.42 442.29h.5M436.65 432.57h.5M439.50 450.84h.5M445.34 433.75h.5M437.20 433.88h.5M432.27 441.02h.5M431.41 433.89h.5M436.15 442.72h.5M438.35 434.77h.5M441.55 428.63h.5M437.34 428.60h.5M440.31 446.17h.5M431.72 441.23h.5M438.45 440.62h.5M436.09 425.25h.5M441.97 436.80h.5M440.51 437.03h.5M422.38 424.72h.5M430.06 444.76h.5M443.03 444.13h.5M441.37 441.80h.5M437.79 434.01h.5M435.44 437.58h.5M441.52 424.27h.5M432.89 437.05h.5M434.51 443.77h.5M429.12 429.28h.5M438.35 438.46h.5M433.95 433.76h.5M430.91 445.68h.5M435.34 434.56h.5M432.96 432.31h.5M439.49 441.64h.5M438.82 438.24h.5M433.36 438.33h.5M430.71 437.18h.5M443.52 443.22h.5M430.53 420.71h.5M435.58 444.25h.5M445.54 444.15h.5M437.00 434.77h.5M429.44 430.70h.5M431.26 435.68h.5M444.10 431.72h.5M423.09 441.12h.5M446.96 436.77h.5M430.53 429.64h.5M447.27 431.33h.5M422.16 432.38h.5M425.57 429.05h.5M425.32 442.72h.5M441.97 426.44h.5M423.17 436.32h.5M441.44 424.72h.5M446.43 418.49h.5M445.62 444.97h.5M437.08 440.70h.5M435.17 450.86h.5M430.94 446.90h.5M439.49 429.83h.5M435.35 428.43h.5M423.55 434.43h.5M448.65 432.93h.5M418.71 433.60h.5M411.89 434.93h.5M433.30 425.81h.5M436.49 412.58h.5M436.21 440.93h.5M438.66 434.75h.5M443.58 428.86h.5M439.03 430.58h.5M421.64 446.32h.5M429.03 446.95h.5M438.78 436.37h.5M439.99 449.59h.5M446.90 437.40h.5M420.26 451.98h.5M444.17 433.50h.5M430.09 441.58h.5M426.73 421.66h.5M413.20 429.27h.5M431.99 434.11h.5M431.79 441.26h.5M430.29 439.44h.5M446.37 452.06h.5M438.43 426.43h.5M445.29 430.20h.5M431.19 451.44h.5M438.84 432.91h.5M439.97 437.52h.5M432.93 445.09h.5M449.09 432.77h.5M414.27 437.99h.5M444.46 437.07h.5M415.75 438.85h.5M430.13 420.74h.5M444.75 444.28h.5" stroke="#000" stroke-width=".6" stroke-opacity=".5" fill="none"/>
<path d="M413.30 414.10 Q413.30 412.70 414.70 412.70 L431.70 412.70 Q433.50 412.70 433.30 414.90 L421.30 430.20 Q420.90 430.70 420.10 430.70 L414.30 430.70 Q413.30 430.70 413.30 429.70 Z" stroke="#c8324f" stroke-width="0.9" fill="none" stroke-linejoin="round"/>
<rect x="425.00" y="429.00" width="25.8" height="21.6" fill="none" stroke="#4b6aa6" stroke-width=".8"/>
<text x="434.90" y="417.50" font-size="6.27" fill="#c8324f" stroke="#c8324f" stroke-width="0.05">0.2</text>
<text x="451.20" y="427.10" font-size="6.27" text-anchor="end" fill="#4b6aa6" stroke="#4b6aa6" stroke-width="0.05">82.6</text>
<rect x="458.8" y="411.5" width="43.3" height="42.9" fill="#fff" stroke="#1f1f1f" stroke-width="1"/>
<path d="M455.60 415.50H458.80M457.20 418.65H458.80M457.20 420.75H458.80M457.20 422.01H458.80M457.20 423.06H458.80M457.20 423.90H458.80M457.20 424.53H458.80M455.60 425.70H458.80M457.20 428.85H458.80M457.20 430.95H458.80M457.20 432.21H458.80M457.20 433.26H458.80M457.20 434.10H458.80M457.20 434.73H458.80M455.60 436.80H458.80M457.20 439.95H458.80M457.20 442.05H458.80M457.20 443.31H458.80M457.20 444.36H458.80M457.20 445.20H458.80M457.20 445.83H458.80M455.60 446.30H458.80M457.20 449.45H458.80M457.20 451.55H458.80M457.20 452.81H458.80M457.20 453.86H458.80M460.80 454.40V457.60M463.80 454.40V456.00M465.80 454.40V456.00M467.00 454.40V456.00M468.00 454.40V456.00M468.80 454.40V456.00M469.40 454.40V456.00M468.00 454.40V457.60M471.00 454.40V456.00M473.00 454.40V456.00M474.20 454.40V456.00M475.20 454.40V456.00M476.00 454.40V456.00M476.60 454.40V456.00M478.00 454.40V457.60M481.00 454.40V456.00M483.00 454.40V456.00M484.20 454.40V456.00M485.20 454.40V456.00M486.00 454.40V456.00M486.60 454.40V456.00M488.80 454.40V457.60M491.80 454.40V456.00M493.80 454.40V456.00M495.00 454.40V456.00M496.00 454.40V456.00M496.80 454.40V456.00M497.40 454.40V456.00M499.30 454.40V457.60" stroke="#1f1f1f" stroke-width="0.8" fill="none" />
<ellipse cx="467.50" cy="442.50" rx="1.15" ry="4.73" fill="url(#bg)" opacity="0.95"/>
<ellipse cx="489.10" cy="442.00" rx="6.46" ry="3.23" fill="url(#bg)" opacity="0.3"/>
<path d="M468.08 436.14h.5M467.80 446.00h.5M467.71 446.35h.5M467.43 445.77h.5M467.49 446.66h.5M468.14 440.86h.5M467.63 438.35h.5M467.83 444.41h.5M468.05 440.87h.5M466.05 442.43h.5M467.43 441.57h.5M467.64 436.26h.5M467.50 446.80h.5M467.73 436.24h.5M467.43 444.01h.5M466.33 440.66h.5M468.23 445.83h.5M467.49 435.76h.5M466.80 446.53h.5M467.84 439.53h.5M467.30 444.26h.5M467.29 438.33h.5M466.63 443.66h.5M468.34 436.42h.5M467.53 445.25h.5M468.16 442.95h.5M468.28 439.17h.5M466.62 445.41h.5M467.31 437.65h.5M467.54 438.93h.5M467.06 443.15h.5M466.85 440.99h.5M467.63 442.36h.5M468.33 424.49h.5M466.66 425.57h.5M469.72 416.03h.5M467.99 423.63h.5M467.89 419.47h.5M467.42 418.20h.5M470.92 417.09h.5M466.78 415.73h.5M468.67 418.45h.5M469.34 424.15h.5M468.97 427.57h.5M468.36 421.52h.5M468.52 428.71h.5M467.03 422.32h.5M470.95 425.55h.5M470.38 427.20h.5M465.75 421.64h.5M466.39 424.96h.5M488.85 443.65h.5M490.47 441.25h.5M494.31 439.18h.5M482.01 444.06h.5M491.23 443.50h.5M485.37 443.53h.5M492.20 442.16h.5M489.47 441.67h.5M491.28 439.04h.5M495.20 440.03h.5M484.87 444.74h.5M489.07 438.60h.5M490.13 440.85h.5M491.10 439.43h.5M488.96 441.15h.5M496.48 439.86h.5M493.83 444.07h.5M490.97 441.43h.5M491.62 440.29h.5M493.90 438.31h.5M495.40 441.18h.5M486.85 442.64h.5M496.69 441.91h.5M498.19 441.82h.5M490.98 439.13h.5M489.30 441.84h.5M486.77 439.06h.5M486.99 442.80h.5M492.38 445.91h.5M480.51 445.93h.5M493.31 441.97h.5M494.91 442.73h.5M482.35 443.57h.5M483.31 443.63h.5M483.79 438.38h.5M493.42 440.97h.5M486.48 445.96h.5M489.46 445.46h.5M488.25 441.80h.5M480.49 444.77h.5M487.37 444.19h.5M486.43 437.94h.5M490.62 444.35h.5M479.38 439.44h.5M494.67 445.51h.5M487.65 442.60h.5M491.85 442.94h.5M484.38 444.38h.5M496.67 442.36h.5M489.91 440.71h.5M491.60 443.49h.5M486.84 438.39h.5M483.05 443.19h.5M489.98 441.23h.5M480.01 438.80h.5M496.44 439.89h.5M484.96 444.19h.5M494.70 440.89h.5M489.99 443.00h.5M491.36 441.01h.5M489.30 443.27h.5M495.88 442.93h.5M481.48 439.89h.5M485.13 443.67h.5M495.68 443.09h.5M483.95 441.26h.5M488.75 443.89h.5M490.07 443.67h.5M487.23 446.17h.5M483.72 441.76h.5M493.76 443.76h.5M484.22 440.58h.5M487.59 443.85h.5M492.96 438.72h.5M488.04 442.44h.5M493.66 443.33h.5M494.80 441.07h.5M486.22 442.37h.5M490.36 447.20h.5M489.31 441.67h.5M484.61 442.51h.5M487.17 443.37h.5M488.59 440.20h.5M485.07 440.61h.5M488.93 436.06h.5M485.88 441.76h.5M483.28 443.34h.5M487.65 443.40h.5M490.08 441.14h.5M494.56 443.83h.5M483.72 441.50h.5M483.23 440.65h.5M488.51 440.82h.5M488.11 443.05h.5M493.86 443.20h.5M493.20 440.65h.5M487.43 444.09h.5M486.69 443.03h.5M489.57 443.25h.5M494.12 442.29h.5M486.76 440.32h.5M496.77 443.95h.5M483.60 438.87h.5M478.86 442.04h.5M486.31 436.61h.5M489.98 442.05h.5M497.28 442.19h.5M482.93 442.14h.5M489.34 439.58h.5M483.34 440.60h.5M488.85 444.20h.5M485.82 442.75h.5M496.24 439.92h.5M484.33 440.63h.5M491.28 439.84h.5M493.56 440.60h.5M486.22 442.81h.5M492.64 441.05h.5M488.48 443.85h.5M496.66 440.82h.5M492.69 444.17h.5M491.79 442.35h.5M490.17 439.64h.5M488.32 440.26h.5M486.78 442.43h.5M497.55 442.62h.5M487.39 444.56h.5M484.93 443.90h.5M485.68 442.71h.5M497.49 441.74h.5M486.14 441.64h.5M491.57 437.30h.5M497.78 439.70h.5M490.99 443.30h.5M485.62 441.38h.5M493.72 441.08h.5M491.91 441.86h.5M488.84 442.30h.5M490.46 441.40h.5M493.69 442.10h.5M489.61 437.14h.5M482.04 443.63h.5M492.02 442.62h.5M494.22 438.07h.5M488.37 443.48h.5M492.62 444.28h.5M492.34 441.73h.5M495.02 440.53h.5M487.52 445.61h.5M487.79 444.95h.5M480.93 441.91h.5M494.66 435.61h.5M486.25 433.37h.5M481.26 441.48h.5M486.91 445.76h.5M479.27 448.40h.5M484.30 437.87h.5M489.65 444.61h.5M493.69 444.10h.5M480.54 434.79h.5M499.83 442.64h.5M490.05 446.32h.5M494.24 437.54h.5M474.30 434.83h.5M475.27 444.28h.5M487.64 441.98h.5M480.03 442.29h.5M483.95 441.70h.5M491.61 442.06h.5M491.94 441.18h.5M497.36 448.87h.5M485.15 442.46h.5M485.95 440.26h.5M495.84 442.84h.5M468.21 446.71h.5M492.31 436.31h.5M488.24 440.72h.5M488.95 441.99h.5M485.02 446.99h.5M500.26 440.30h.5M491.22 444.66h.5M492.16 445.31h.5M472.94 446.11h.5M495.59 441.00h.5M500.16 442.70h.5M491.62 444.74h.5M491.23 447.28h.5M482.42 439.28h.5M481.56 445.72h.5M484.19 443.58h.5M483.96 438.70h.5M483.63 441.75h.5M482.91 447.28h.5M492.26 444.86h.5M488.86 441.95h.5M473.56 441.99h.5M481.46 445.05h.5M486.46 442.82h.5M474.66 444.86h.5M489.79 433.07h.5M483.55 439.12h.5M489.92 452.09h.5M482.80 448.48h.5M494.83 440.46h.5M478.38 438.95h.5M489.68 441.51h.5M492.54 443.34h.5" stroke="#000" stroke-width=".6" stroke-opacity=".5" fill="none"/>
<path d="M463.20 414.10 Q463.20 412.70 464.60 412.70 L481.60 412.70 Q483.40 412.70 483.20 414.90 L471.20 430.20 Q470.80 430.70 470.00 430.70 L464.20 430.70 Q463.20 430.70 463.20 429.70 Z" stroke="#c8324f" stroke-width="0.9" fill="none" stroke-linejoin="round"/>
<rect x="474.90" y="429.00" width="25.8" height="21.6" fill="none" stroke="#4b6aa6" stroke-width=".8"/>
<text x="484.80" y="417.50" font-size="6.27" fill="#c8324f" stroke="#c8324f" stroke-width="0.05">0.1</text>
<text x="501.10" y="427.10" font-size="6.27" text-anchor="end" fill="#4b6aa6" stroke="#4b6aa6" stroke-width="0.05">6.1</text>
<text x="8.30" y="482.80" font-size="12.77" font-weight="bold" stroke="#1f1f1f" stroke-width="0.35">H</text>
<text x="71.40" y="494.50" font-size="10.3" textLength="30.40" lengthAdjust="spacingAndGlyphs" stroke="#1f1f1f" stroke-width="0.1" >Spleen</text>
<line x1="42.90" y1="501.80" x2="42.90" y2="575.10" stroke="#1f1f1f" stroke-width="1.1" />
<line x1="42.40" y1="575.10" x2="130.00" y2="575.10" stroke="#1f1f1f" stroke-width="1.1" />
<line x1="39.70" y1="504.60" x2="42.90" y2="504.60" stroke="#1f1f1f" stroke-width="1.1" />
<text stroke="#1f1f1f" stroke-width="0.1" x="36.80" y="507.70" font-size="9.1" text-anchor="end">10<tspan font-size="6.4" dy="-3.6">9</tspan></text>
<line x1="39.70" y1="513.41" x2="42.90" y2="513.41" stroke="#1f1f1f" stroke-width="1.1" />
<text stroke="#1f1f1f" stroke-width="0.1" x="36.80" y="516.51" font-size="9.1" text-anchor="end">10<tspan font-size="6.4" dy="-3.6">8</tspan></text>
<line x1="39.70" y1="522.23" x2="42.90" y2="522.23" stroke="#1f1f1f" stroke-width="1.1" />
<text stroke="#1f1f1f" stroke-width="0.1" x="36.80" y="525.33" font-size="9.1" text-anchor="end">10<tspan font-size="6.4" dy="-3.6">7</tspan></text>
<line x1="39.70" y1="531.04" x2="42.90" y2="531.04" stroke="#1f1f1f" stroke-width="1.1" />
<text stroke="#1f1f1f" stroke-width="0.1" x="36.80" y="534.14" font-size="9.1" text-anchor="end">10<tspan font-size="6.4" dy="-3.6">6</tspan></text>
<line x1="39.70" y1="539.85" x2="42.90" y2="539.85" stroke="#1f1f1f" stroke-width="1.1" />
<text stroke="#1f1f1f" stroke-width="0.1" x="36.80" y="542.95" font-size="9.1" text-anchor="end">10<tspan font-size="6.4" dy="-3.6">5</tspan></text>
<line x1="39.70" y1="548.66" x2="42.90" y2="548.66" stroke="#1f1f1f" stroke-width="1.1" />
<text stroke="#1f1f1f" stroke-width="0.1" x="36.80" y="551.76" font-size="9.1" text-anchor="end">10<tspan font-size="6.4" dy="-3.6">4</tspan></text>
<line x1="39.70" y1="557.48" x2="42.90" y2="557.48" stroke="#1f1f1f" stroke-width="1.1" />
<text stroke="#1f1f1f" stroke-width="0.1" x="36.80" y="560.58" font-size="9.1" text-anchor="end">10<tspan font-size="6.4" dy="-3.6">3</tspan></text>
<line x1="39.70" y1="566.29" x2="42.90" y2="566.29" stroke="#1f1f1f" stroke-width="1.1" />
<text stroke="#1f1f1f" stroke-width="0.1" x="36.80" y="569.39" font-size="9.1" text-anchor="end">10<tspan font-size="6.4" dy="-3.6">2</tspan></text>
<line x1="39.70" y1="575.10" x2="42.90" y2="575.10" stroke="#1f1f1f" stroke-width="1.1" />
<text stroke="#1f1f1f" stroke-width="0.1" x="36.80" y="578.20" font-size="9.1" text-anchor="end">10<tspan font-size="6.4" dy="-3.6">1</tspan></text>
<line x1="51.25" y1="575.10" x2="51.25" y2="577.30" stroke="#1f1f1f" stroke-width="1" />
<text x="51.25" y="588.70" font-size="9.18" text-anchor="middle" stroke="#1f1f1f" stroke-width="0.1" >3</text>
<line x1="68.60" y1="575.10" x2="68.60" y2="577.30" stroke="#1f1f1f" stroke-width="1" />
<text x="68.60" y="588.70" font-size="9.18" text-anchor="middle" stroke="#1f1f1f" stroke-width="0.1" >5</text>
<line x1="86.40" y1="575.10" x2="86.40" y2="577.30" stroke="#1f1f1f" stroke-width="1" />
<text x="86.40" y="588.70" font-size="9.18" text-anchor="middle" stroke="#1f1f1f" stroke-width="0.1" >7</text>
<line x1="104.00" y1="575.10" x2="104.00" y2="577.30" stroke="#1f1f1f" stroke-width="1" />
<text x="104.00" y="588.70" font-size="9.18" text-anchor="middle" stroke="#1f1f1f" stroke-width="0.1" >14</text>
<line x1="121.90" y1="575.10" x2="121.90" y2="577.30" stroke="#1f1f1f" stroke-width="1" />
<text x="121.90" y="588.70" font-size="9.18" text-anchor="middle" stroke="#1f1f1f" stroke-width="0.1" >21</text>
<text x="16.80" y="538.50" font-size="10.08" text-anchor="middle" textLength="38.00" lengthAdjust="spacingAndGlyphs" transform="rotate(-90 16.80 538.50)" stroke="#1f1f1f" stroke-width="0.1" >CAR-T cell #</text>
<text x="173.80" y="494.50" font-size="10.3" textLength="60.80" lengthAdjust="spacingAndGlyphs" stroke="#1f1f1f" stroke-width="0.1" >Bone marrow</text>
<line x1="159.70" y1="501.80" x2="159.70" y2="574.90" stroke="#1f1f1f" stroke-width="1.1" />
<line x1="159.20" y1="574.90" x2="247.00" y2="574.90" stroke="#1f1f1f" stroke-width="1.1" />
<line x1="156.50" y1="504.10" x2="159.70" y2="504.10" stroke="#1f1f1f" stroke-width="1.1" />
<text stroke="#1f1f1f" stroke-width="0.1" x="154.00" y="507.20" font-size="9.1" text-anchor="end">10<tspan font-size="6.4" dy="-3.6">8</tspan></text>
<line x1="156.50" y1="512.95" x2="159.70" y2="512.95" stroke="#1f1f1f" stroke-width="1.1" />
<text stroke="#1f1f1f" stroke-width="0.1" x="154.00" y="516.05" font-size="9.1" text-anchor="end">10<tspan font-size="6.4" dy="-3.6">7</tspan></text>
<line x1="156.50" y1="521.80" x2="159.70" y2="521.80" stroke="#1f1f1f" stroke-width="1.1" />
<text stroke="#1f1f1f" stroke-width="0.1" x="154.00" y="524.90" font-size="9.1" text-anchor="end">10<tspan font-size="6.4" dy="-3.6">6</tspan></text>
<line x1="156.50" y1="530.65" x2="159.70" y2="530.65" stroke="#1f1f1f" stroke-width="1.1" />
<text stroke="#1f1f1f" stroke-width="0.1" x="154.00" y="533.75" font-size="9.1" text-anchor="end">10<tspan font-size="6.4" dy="-3.6">5</tspan></text>
<line x1="156.50" y1="539.50" x2="159.70" y2="539.50" stroke="#1f1f1f" stroke-width="1.1" />
<text stroke="#1f1f1f" stroke-width="0.1" x="154.00" y="542.60" font-size="9.1" text-anchor="end">10<tspan font-size="6.4" dy="-3.6">4</tspan></text>
<line x1="156.50" y1="548.35" x2="159.70" y2="548.35" stroke="#1f1f1f" stroke-width="1.1" />
<text stroke="#1f1f1f" stroke-width="0.1" x="154.00" y="551.45" font-size="9.1" text-anchor="end">10<tspan font-size="6.4" dy="-3.6">3</tspan></text>
<line x1="156.50" y1="557.20" x2="159.70" y2="557.20" stroke="#1f1f1f" stroke-width="1.1" />
<text stroke="#1f1f1f" stroke-width="0.1" x="154.00" y="560.30" font-size="9.1" text-anchor="end">10<tspan font-size="6.4" dy="-3.6">2</tspan></text>
<line x1="156.50" y1="566.05" x2="159.70" y2="566.05" stroke="#1f1f1f" stroke-width="1.1" />
<text stroke="#1f1f1f" stroke-width="0.1" x="154.00" y="569.15" font-size="9.1" text-anchor="end">10<tspan font-size="6.4" dy="-3.6">1</tspan></text>
<line x1="156.50" y1="574.90" x2="159.70" y2="574.90" stroke="#1f1f1f" stroke-width="1.1" />
<text stroke="#1f1f1f" stroke-width="0.1" x="154.00" y="578.00" font-size="9.1" text-anchor="end">10<tspan font-size="6.4" dy="-3.6">0</tspan></text>
<line x1="168.70" y1="574.90" x2="168.70" y2="577.10" stroke="#1f1f1f" stroke-width="1" />
<text x="168.70" y="588.50" font-size="9.18" text-anchor="middle" stroke="#1f1f1f" stroke-width="0.1" >3</text>
<line x1="186.10" y1="574.90" x2="186.10" y2="577.10" stroke="#1f1f1f" stroke-width="1" />
<text x="186.10" y="588.50" font-size="9.18" text-anchor="middle" stroke="#1f1f1f" stroke-width="0.1" >5</text>
<line x1="204.00" y1="574.90" x2="204.00" y2="577.10" stroke="#1f1f1f" stroke-width="1" />
<text x="204.00" y="588.50" font-size="9.18" text-anchor="middle" stroke="#1f1f1f" stroke-width="0.1" >7</text>
<line x1="221.10" y1="574.90" x2="221.10" y2="577.10" stroke="#1f1f1f" stroke-width="1" />
<text x="221.10" y="588.50" font-size="9.18" text-anchor="middle" stroke="#1f1f1f" stroke-width="0.1" >14</text>
<line x1="239.00" y1="574.90" x2="239.00" y2="577.10" stroke="#1f1f1f" stroke-width="1" />
<text x="239.00" y="588.50" font-size="9.18" text-anchor="middle" stroke="#1f1f1f" stroke-width="0.1" >21</text>
<text x="88.80" y="602.70" font-size="10.75" textLength="99.20" lengthAdjust="spacingAndGlyphs" stroke="#1f1f1f" stroke-width="0.1" >Days after CAR-T cell transfer</text>
<circle cx="43.80" cy="537.90" r="2.25" stroke="#b5173f" stroke-width="0.9" fill="none"/>
<circle cx="46.60" cy="540.30" r="2.25" stroke="#b5173f" stroke-width="0.9" fill="none"/>
<circle cx="49.50" cy="539.10" r="2.25" stroke="#b5173f" stroke-width="0.9" fill="none"/>
<circle cx="50.70" cy="536.90" r="2.25" stroke="#b5173f" stroke-width="0.9" fill="none"/>
<circle cx="63.40" cy="535.20" r="2.25" stroke="#b5173f" stroke-width="0.9" fill="none"/>
<circle cx="66.30" cy="535.20" r="2.25" stroke="#b5173f" stroke-width="0.9" fill="none"/>
<circle cx="67.70" cy="537.40" r="2.25" stroke="#b5173f" stroke-width="0.9" fill="none"/>
<circle cx="79.80" cy="543.80" r="2.25" stroke="#b5173f" stroke-width="0.9" fill="none"/>
<circle cx="82.40" cy="546.00" r="2.25" stroke="#b5173f" stroke-width="0.9" fill="none"/>
<circle cx="85.30" cy="541.40" r="2.25" stroke="#b5173f" stroke-width="0.9" fill="none"/>
<circle cx="83.00" cy="544.00" r="2.25" stroke="#b5173f" stroke-width="0.9" fill="none"/>
<circle cx="97.10" cy="546.90" r="2.25" stroke="#b5173f" stroke-width="0.9" fill="none"/>
<circle cx="99.70" cy="543.50" r="2.25" stroke="#b5173f" stroke-width="0.9" fill="none"/>
<circle cx="103.20" cy="546.10" r="2.25" stroke="#b5173f" stroke-width="0.9" fill="none"/>
<circle cx="99.70" cy="551.20" r="2.25" stroke="#b5173f" stroke-width="0.9" fill="none"/>
<circle cx="101.00" cy="548.50" r="2.25" stroke="#b5173f" stroke-width="0.9" fill="none"/>
<circle cx="114.40" cy="545.20" r="2.25" stroke="#b5173f" stroke-width="0.9" fill="none"/>
<circle cx="117.50" cy="541.40" r="2.25" stroke="#b5173f" stroke-width="0.9" fill="none"/>
<circle cx="120.00" cy="550.00" r="2.25" stroke="#b5173f" stroke-width="0.9" fill="none"/>
<circle cx="121.00" cy="555.20" r="2.25" stroke="#b5173f" stroke-width="0.9" fill="none"/>
<circle cx="115.80" cy="557.30" r="2.25" stroke="#b5173f" stroke-width="0.9" fill="none"/>
<circle cx="52.10" cy="533.10" r="2.25" stroke="#3a5a98" stroke-width="0.9" fill="none"/>
<circle cx="55.60" cy="533.90" r="2.25" stroke="#3a5a98" stroke-width="0.9" fill="none"/>
<circle cx="57.70" cy="532.70" r="2.25" stroke="#3a5a98" stroke-width="0.9" fill="none"/>
<circle cx="54.70" cy="534.80" r="2.25" stroke="#3a5a98" stroke-width="0.9" fill="none"/>
<circle cx="69.80" cy="519.20" r="2.25" stroke="#3a5a98" stroke-width="0.9" fill="none"/>
<circle cx="72.90" cy="519.20" r="2.25" stroke="#3a5a98" stroke-width="0.9" fill="none"/>
<circle cx="71.50" cy="517.80" r="2.25" stroke="#3a5a98" stroke-width="0.9" fill="none"/>
<circle cx="87.10" cy="517.20" r="2.25" stroke="#3a5a98" stroke-width="0.9" fill="none"/>
<circle cx="90.20" cy="518.40" r="2.25" stroke="#3a5a98" stroke-width="0.9" fill="none"/>
<circle cx="93.70" cy="516.60" r="2.25" stroke="#3a5a98" stroke-width="0.9" fill="none"/>
<circle cx="89.00" cy="517.00" r="2.25" stroke="#3a5a98" stroke-width="0.9" fill="none"/>
<circle cx="105.40" cy="526.20" r="2.25" stroke="#3a5a98" stroke-width="0.9" fill="none"/>
<circle cx="106.60" cy="530.50" r="2.25" stroke="#3a5a98" stroke-width="0.9" fill="none"/>
<circle cx="111.00" cy="528.70" r="2.25" stroke="#3a5a98" stroke-width="0.9" fill="none"/>
<circle cx="108.00" cy="528.00" r="2.25" stroke="#3a5a98" stroke-width="0.9" fill="none"/>
<circle cx="124.50" cy="527.90" r="2.25" stroke="#3a5a98" stroke-width="0.9" fill="none"/>
<circle cx="125.70" cy="532.20" r="2.25" stroke="#3a5a98" stroke-width="0.9" fill="none"/>
<circle cx="127.00" cy="529.00" r="2.25" stroke="#3a5a98" stroke-width="0.9" fill="none"/>
<circle cx="124.00" cy="531.00" r="2.25" stroke="#3a5a98" stroke-width="0.9" fill="none"/>
<line x1="44.50" y1="538.60" x2="50.50" y2="538.60" stroke="#111" stroke-width="1.1" />
<line x1="62.80" y1="535.80" x2="68.80" y2="535.80" stroke="#111" stroke-width="1.1" />
<line x1="80.00" y1="543.80" x2="86.00" y2="543.80" stroke="#111" stroke-width="1.1" />
<line x1="97.00" y1="546.90" x2="103.00" y2="546.90" stroke="#111" stroke-width="1.1" />
<line x1="114.50" y1="545.70" x2="120.50" y2="545.70" stroke="#111" stroke-width="1.1" />
<line x1="52.80" y1="533.90" x2="58.80" y2="533.90" stroke="#111" stroke-width="1.1" />
<line x1="68.50" y1="518.40" x2="74.50" y2="518.40" stroke="#111" stroke-width="1.1" />
<line x1="87.20" y1="517.50" x2="93.20" y2="517.50" stroke="#111" stroke-width="1.1" />
<line x1="105.00" y1="527.90" x2="111.00" y2="527.90" stroke="#111" stroke-width="1.1" />
<line x1="122.50" y1="529.60" x2="128.50" y2="529.60" stroke="#111" stroke-width="1.1" />
<line x1="117.50" y1="541.00" x2="117.50" y2="551.00" stroke="#222" stroke-width="0.8" />
<line x1="115.90" y1="541.00" x2="119.10" y2="541.00" stroke="#222" stroke-width="0.8" />
<line x1="100.00" y1="543.50" x2="100.00" y2="550.00" stroke="#222" stroke-width="0.8" />
<line x1="98.40" y1="543.50" x2="101.60" y2="543.50" stroke="#222" stroke-width="0.8" />
<line x1="125.50" y1="526.00" x2="125.50" y2="533.00" stroke="#222" stroke-width="0.8" />
<line x1="123.90" y1="526.00" x2="127.10" y2="526.00" stroke="#222" stroke-width="0.8" />
<line x1="108.00" y1="525.50" x2="108.00" y2="530.50" stroke="#222" stroke-width="0.8" />
<line x1="106.40" y1="525.50" x2="109.60" y2="525.50" stroke="#222" stroke-width="0.8" />
<line x1="47.65" y1="528.20" x2="54.85" y2="528.20" stroke="#1f1f1f" stroke-width="0.9" />
<text x="51.25" y="528.00" font-size="9.63" text-anchor="middle" stroke="#1f1f1f" stroke-width="0.1" >**</text>
<line x1="64.10" y1="512.80" x2="71.30" y2="512.80" stroke="#1f1f1f" stroke-width="0.9" />
<text x="67.70" y="512.40" font-size="9.63" text-anchor="middle" stroke="#1f1f1f" stroke-width="0.1" >*</text>
<line x1="83.90" y1="512.80" x2="91.10" y2="512.80" stroke="#1f1f1f" stroke-width="0.9" />
<text x="87.50" y="512.80" font-size="9.63" text-anchor="middle" stroke="#1f1f1f" stroke-width="0.1" >**</text>
<line x1="100.60" y1="522.70" x2="107.80" y2="522.70" stroke="#1f1f1f" stroke-width="0.9" />
<text x="104.20" y="522.80" font-size="9.63" text-anchor="middle" stroke="#1f1f1f" stroke-width="0.1" >**</text>
<line x1="118.60" y1="524.40" x2="125.80" y2="524.40" stroke="#1f1f1f" stroke-width="0.9" />
<text x="122.20" y="523.70" font-size="9.63" text-anchor="middle" stroke="#1f1f1f" stroke-width="0.1" >*</text>
<circle cx="161.40" cy="532.50" r="2.25" stroke="#b5173f" stroke-width="0.9" fill="none"/>
<circle cx="165.60" cy="534.30" r="2.25" stroke="#b5173f" stroke-width="0.9" fill="none"/>
<circle cx="162.70" cy="541.60" r="2.25" stroke="#b5173f" stroke-width="0.9" fill="none"/>
<circle cx="167.40" cy="540.30" r="2.25" stroke="#b5173f" stroke-width="0.9" fill="none"/>
<circle cx="179.70" cy="537.90" r="2.25" stroke="#b5173f" stroke-width="0.9" fill="none"/>
<circle cx="183.30" cy="539.20" r="2.25" stroke="#b5173f" stroke-width="0.9" fill="none"/>
<circle cx="185.10" cy="538.80" r="2.25" stroke="#b5173f" stroke-width="0.9" fill="none"/>
<circle cx="196.70" cy="541.60" r="2.25" stroke="#b5173f" stroke-width="0.9" fill="none"/>
<circle cx="202.90" cy="540.30" r="2.25" stroke="#b5173f" stroke-width="0.9" fill="none"/>
<circle cx="199.20" cy="546.50" r="2.25" stroke="#b5173f" stroke-width="0.9" fill="none"/>
<circle cx="200.00" cy="542.00" r="2.25" stroke="#b5173f" stroke-width="0.9" fill="none"/>
<circle cx="214.40" cy="549.80" r="2.25" stroke="#b5173f" stroke-width="0.9" fill="none"/>
<circle cx="220.40" cy="546.50" r="2.25" stroke="#b5173f" stroke-width="0.9" fill="none"/>
<circle cx="218.90" cy="554.40" r="2.25" stroke="#b5173f" stroke-width="0.9" fill="none"/>
<circle cx="217.50" cy="561.70" r="2.25" stroke="#b5173f" stroke-width="0.9" fill="none"/>
<circle cx="216.00" cy="548.00" r="2.25" stroke="#b5173f" stroke-width="0.9" fill="none"/>
<circle cx="235.00" cy="533.70" r="2.25" stroke="#b5173f" stroke-width="0.9" fill="none"/>
<circle cx="231.70" cy="542.90" r="2.25" stroke="#b5173f" stroke-width="0.9" fill="none"/>
<circle cx="237.20" cy="546.50" r="2.25" stroke="#b5173f" stroke-width="0.9" fill="none"/>
<circle cx="238.70" cy="549.40" r="2.25" stroke="#b5173f" stroke-width="0.9" fill="none"/>
<circle cx="233.60" cy="554.40" r="2.25" stroke="#b5173f" stroke-width="0.9" fill="none"/>
<circle cx="171.80" cy="534.30" r="2.25" stroke="#3a5a98" stroke-width="0.9" fill="none"/>
<circle cx="175.50" cy="531.20" r="2.25" stroke="#3a5a98" stroke-width="0.9" fill="none"/>
<circle cx="172.40" cy="536.70" r="2.25" stroke="#3a5a98" stroke-width="0.9" fill="none"/>
<circle cx="170.00" cy="535.60" r="2.25" stroke="#3a5a98" stroke-width="0.9" fill="none"/>
<circle cx="187.90" cy="522.80" r="2.25" stroke="#3a5a98" stroke-width="0.9" fill="none"/>
<circle cx="190.60" cy="522.40" r="2.25" stroke="#3a5a98" stroke-width="0.9" fill="none"/>
<circle cx="192.50" cy="523.30" r="2.25" stroke="#3a5a98" stroke-width="0.9" fill="none"/>
<circle cx="205.20" cy="516.00" r="2.25" stroke="#3a5a98" stroke-width="0.9" fill="none"/>
<circle cx="208.90" cy="515.10" r="2.25" stroke="#3a5a98" stroke-width="0.9" fill="none"/>
<circle cx="211.60" cy="515.10" r="2.25" stroke="#3a5a98" stroke-width="0.9" fill="none"/>
<circle cx="207.00" cy="515.50" r="2.25" stroke="#3a5a98" stroke-width="0.9" fill="none"/>
<circle cx="223.00" cy="527.90" r="2.25" stroke="#3a5a98" stroke-width="0.9" fill="none"/>
<circle cx="224.10" cy="531.50" r="2.25" stroke="#3a5a98" stroke-width="0.9" fill="none"/>
<circle cx="227.20" cy="528.20" r="2.25" stroke="#3a5a98" stroke-width="0.9" fill="none"/>
<circle cx="225.00" cy="529.00" r="2.25" stroke="#3a5a98" stroke-width="0.9" fill="none"/>
<circle cx="239.40" cy="520.60" r="2.25" stroke="#3a5a98" stroke-width="0.9" fill="none"/>
<circle cx="244.90" cy="522.40" r="2.25" stroke="#3a5a98" stroke-width="0.9" fill="none"/>
<circle cx="242.30" cy="527.00" r="2.25" stroke="#3a5a98" stroke-width="0.9" fill="none"/>
<circle cx="243.60" cy="530.60" r="2.25" stroke="#3a5a98" stroke-width="0.9" fill="none"/>
<circle cx="241.00" cy="525.00" r="2.25" stroke="#3a5a98" stroke-width="0.9" fill="none"/>
<line x1="162.00" y1="535.60" x2="168.00" y2="535.60" stroke="#111" stroke-width="1.1" />
<line x1="180.00" y1="538.80" x2="186.00" y2="538.80" stroke="#111" stroke-width="1.1" />
<line x1="197.00" y1="542.10" x2="203.00" y2="542.10" stroke="#111" stroke-width="1.1" />
<line x1="215.00" y1="549.40" x2="221.00" y2="549.40" stroke="#111" stroke-width="1.1" />
<line x1="231.50" y1="538.80" x2="237.50" y2="538.80" stroke="#111" stroke-width="1.1" />
<line x1="170.00" y1="533.70" x2="176.00" y2="533.70" stroke="#111" stroke-width="1.1" />
<line x1="187.50" y1="522.60" x2="193.50" y2="522.60" stroke="#111" stroke-width="1.1" />
<line x1="205.50" y1="515.80" x2="211.50" y2="515.80" stroke="#111" stroke-width="1.1" />
<line x1="222.00" y1="529.30" x2="228.00" y2="529.30" stroke="#111" stroke-width="1.1" />
<line x1="239.50" y1="523.90" x2="245.50" y2="523.90" stroke="#111" stroke-width="1.1" />
<line x1="235.50" y1="533.50" x2="235.50" y2="547.00" stroke="#222" stroke-width="0.8" />
<line x1="233.90" y1="533.50" x2="237.10" y2="533.50" stroke="#222" stroke-width="0.8" />
<line x1="218.00" y1="546.00" x2="218.00" y2="553.00" stroke="#222" stroke-width="0.8" />
<line x1="216.40" y1="546.00" x2="219.60" y2="546.00" stroke="#222" stroke-width="0.8" />
<line x1="242.50" y1="520.00" x2="242.50" y2="529.00" stroke="#222" stroke-width="0.8" />
<line x1="240.90" y1="520.00" x2="244.10" y2="520.00" stroke="#222" stroke-width="0.8" />
<line x1="225.00" y1="527.00" x2="225.00" y2="531.50" stroke="#222" stroke-width="0.8" />
<line x1="223.40" y1="527.00" x2="226.60" y2="527.00" stroke="#222" stroke-width="0.8" />
<line x1="200.00" y1="540.00" x2="200.00" y2="544.50" stroke="#222" stroke-width="0.8" />
<line x1="198.40" y1="540.00" x2="201.60" y2="540.00" stroke="#222" stroke-width="0.8" />
<line x1="183.20" y1="517.30" x2="190.80" y2="517.30" stroke="#1f1f1f" stroke-width="0.9" />
<text x="187.00" y="516.90" font-size="9.63" text-anchor="middle" stroke="#1f1f1f" stroke-width="0.1" >**</text>
<line x1="199.90" y1="511.40" x2="207.50" y2="511.40" stroke="#1f1f1f" stroke-width="0.9" />
<text x="203.70" y="511.00" font-size="9.63" text-anchor="middle" stroke="#1f1f1f" stroke-width="0.1" >**</text>
<line x1="220.20" y1="523.30" x2="227.80" y2="523.30" stroke="#1f1f1f" stroke-width="0.9" />
<text x="224.00" y="523.30" font-size="9.63" text-anchor="middle" stroke="#1f1f1f" stroke-width="0.1" >**</text>
<circle cx="90.40" cy="618.00" r="2.3" stroke="#b5173f" stroke-width="0.9" fill="none"/>
<text x="95.70" y="621.50" font-size="10.75" textLength="36.90" lengthAdjust="spacingAndGlyphs" stroke="#1f1f1f" stroke-width="0.1" >WT CAR-T</text>
<circle cx="145.10" cy="618.00" r="2.3" stroke="#3a5a98" stroke-width="0.9" fill="none"/>
<text x="150.40" y="621.50" font-size="10.75" textLength="36.90" lengthAdjust="spacingAndGlyphs" stroke="#1f1f1f" stroke-width="0.1" >KO CAR-T</text>
<text x="334.90" y="494.40" font-size="10.3" textLength="31.30" lengthAdjust="spacingAndGlyphs" stroke="#1f1f1f" stroke-width="0.1" >Spleen</text>
<line x1="314.50" y1="501.20" x2="314.50" y2="573.75" stroke="#1f1f1f" stroke-width="1.1" />
<line x1="314.00" y1="573.75" x2="385.40" y2="573.75" stroke="#1f1f1f" stroke-width="1.1" />
<line x1="311.30" y1="502.80" x2="314.50" y2="502.80" stroke="#1f1f1f" stroke-width="1.1" />
<text stroke="#1f1f1f" stroke-width="0.1" x="308.50" y="505.90" font-size="9.1" text-anchor="end">10<tspan font-size="6.4" dy="-3.6">4</tspan></text>
<line x1="311.30" y1="520.54" x2="314.50" y2="520.54" stroke="#1f1f1f" stroke-width="1.1" />
<text stroke="#1f1f1f" stroke-width="0.1" x="308.50" y="523.64" font-size="9.1" text-anchor="end">10<tspan font-size="6.4" dy="-3.6">3</tspan></text>
<line x1="311.30" y1="538.27" x2="314.50" y2="538.27" stroke="#1f1f1f" stroke-width="1.1" />
<text stroke="#1f1f1f" stroke-width="0.1" x="308.50" y="541.38" font-size="9.1" text-anchor="end">10<tspan font-size="6.4" dy="-3.6">2</tspan></text>
<line x1="311.30" y1="556.01" x2="314.50" y2="556.01" stroke="#1f1f1f" stroke-width="1.1" />
<text stroke="#1f1f1f" stroke-width="0.1" x="308.50" y="559.11" font-size="9.1" text-anchor="end">10<tspan font-size="6.4" dy="-3.6">1</tspan></text>
<line x1="311.30" y1="573.75" x2="314.50" y2="573.75" stroke="#1f1f1f" stroke-width="1.1" />
<text stroke="#1f1f1f" stroke-width="0.1" x="308.50" y="576.85" font-size="9.1" text-anchor="end">10<tspan font-size="6.4" dy="-3.6">0</tspan></text>
<line x1="321.00" y1="573.75" x2="321.00" y2="575.95" stroke="#1f1f1f" stroke-width="1" />
<text x="321.00" y="587.00" font-size="9.18" text-anchor="middle" stroke="#1f1f1f" stroke-width="0.1" >0</text>
<line x1="333.00" y1="573.75" x2="333.00" y2="575.95" stroke="#1f1f1f" stroke-width="1" />
<text x="333.00" y="587.00" font-size="9.18" text-anchor="middle" stroke="#1f1f1f" stroke-width="0.1" >3</text>
<line x1="345.00" y1="573.75" x2="345.00" y2="575.95" stroke="#1f1f1f" stroke-width="1" />
<text x="345.00" y="587.00" font-size="9.18" text-anchor="middle" stroke="#1f1f1f" stroke-width="0.1" >5</text>
<line x1="356.50" y1="573.75" x2="356.50" y2="575.95" stroke="#1f1f1f" stroke-width="1" />
<text x="356.50" y="587.00" font-size="9.18" text-anchor="middle" stroke="#1f1f1f" stroke-width="0.1" >7</text>
<line x1="368.00" y1="573.75" x2="368.00" y2="575.95" stroke="#1f1f1f" stroke-width="1" />
<text x="368.00" y="587.00" font-size="9.18" text-anchor="middle" stroke="#1f1f1f" stroke-width="0.1" >14</text>
<line x1="380.10" y1="573.75" x2="380.10" y2="575.95" stroke="#1f1f1f" stroke-width="1" />
<text x="380.10" y="587.00" font-size="9.18" text-anchor="middle" stroke="#1f1f1f" stroke-width="0.1" >21</text>
<text x="290.30" y="537.00" font-size="10.08" text-anchor="middle" textLength="68.50" lengthAdjust="spacingAndGlyphs" transform="rotate(-90 290.30 537.00)" stroke="#1f1f1f" stroke-width="0.1" >Ratio KO / WT CAR-T</text>
<text x="420.20" y="494.40" font-size="10.3" textLength="60.80" lengthAdjust="spacingAndGlyphs" stroke="#1f1f1f" stroke-width="0.1" >Bone marrow</text>
<line x1="414.20" y1="501.20" x2="414.20" y2="573.75" stroke="#1f1f1f" stroke-width="1.1" />
<line x1="413.70" y1="573.75" x2="485.90" y2="573.75" stroke="#1f1f1f" stroke-width="1.1" />
<line x1="411.00" y1="502.80" x2="414.20" y2="502.80" stroke="#1f1f1f" stroke-width="1.1" />
<text stroke="#1f1f1f" stroke-width="0.1" x="408.30" y="505.90" font-size="9.1" text-anchor="end">10<tspan font-size="6.4" dy="-3.6">4</tspan></text>
<line x1="411.00" y1="520.54" x2="414.20" y2="520.54" stroke="#1f1f1f" stroke-width="1.1" />
<text stroke="#1f1f1f" stroke-width="0.1" x="408.30" y="523.64" font-size="9.1" text-anchor="end">10<tspan font-size="6.4" dy="-3.6">3</tspan></text>
<line x1="411.00" y1="538.27" x2="414.20" y2="538.27" stroke="#1f1f1f" stroke-width="1.1" />
<text stroke="#1f1f1f" stroke-width="0.1" x="408.30" y="541.38" font-size="9.1" text-anchor="end">10<tspan font-size="6.4" dy="-3.6">2</tspan></text>
<line x1="411.00" y1="556.01" x2="414.20" y2="556.01" stroke="#1f1f1f" stroke-width="1.1" />
<text stroke="#1f1f1f" stroke-width="0.1" x="408.30" y="559.11" font-size="9.1" text-anchor="end">10<tspan font-size="6.4" dy="-3.6">1</tspan></text>
<line x1="411.00" y1="573.75" x2="414.20" y2="573.75" stroke="#1f1f1f" stroke-width="1.1" />
<text stroke="#1f1f1f" stroke-width="0.1" x="408.30" y="576.85" font-size="9.1" text-anchor="end">10<tspan font-size="6.4" dy="-3.6">0</tspan></text>
<line x1="421.00" y1="573.75" x2="421.00" y2="575.95" stroke="#1f1f1f" stroke-width="1" />
<text x="421.00" y="587.00" font-size="9.18" text-anchor="middle" stroke="#1f1f1f" stroke-width="0.1" >0</text>
<line x1="432.70" y1="573.75" x2="432.70" y2="575.95" stroke="#1f1f1f" stroke-width="1" />
<text x="432.70" y="587.00" font-size="9.18" text-anchor="middle" stroke="#1f1f1f" stroke-width="0.1" >3</text>
<line x1="444.30" y1="573.75" x2="444.30" y2="575.95" stroke="#1f1f1f" stroke-width="1" />
<text x="444.30" y="587.00" font-size="9.18" text-anchor="middle" stroke="#1f1f1f" stroke-width="0.1" >5</text>
<line x1="456.30" y1="573.75" x2="456.30" y2="575.95" stroke="#1f1f1f" stroke-width="1" />
<text x="456.30" y="587.00" font-size="9.18" text-anchor="middle" stroke="#1f1f1f" stroke-width="0.1" >7</text>
<line x1="467.80" y1="573.75" x2="467.80" y2="575.95" stroke="#1f1f1f" stroke-width="1" />
<text x="467.80" y="587.00" font-size="9.18" text-anchor="middle" stroke="#1f1f1f" stroke-width="0.1" >14</text>
<line x1="479.10" y1="573.75" x2="479.10" y2="575.95" stroke="#1f1f1f" stroke-width="1" />
<text x="479.10" y="587.00" font-size="9.18" text-anchor="middle" stroke="#1f1f1f" stroke-width="0.1" >21</text>
<text x="344.00" y="601.80" font-size="10.75" textLength="98.50" lengthAdjust="spacingAndGlyphs" stroke="#1f1f1f" stroke-width="0.1" >Days after CAR-T cell transfer</text>
<circle cx="321.00" cy="573.75" r="2.2" stroke="#b5173f" stroke-width="0.9" fill="none"/>
<circle cx="333.00" cy="563.70" r="2.2" stroke="#b5173f" stroke-width="0.9" fill="none"/>
<circle cx="333.00" cy="564.80" r="2.2" stroke="#b5173f" stroke-width="0.9" fill="none"/>
<circle cx="333.00" cy="567.00" r="2.2" stroke="#b5173f" stroke-width="0.9" fill="none"/>
<circle cx="344.50" cy="538.90" r="2.2" stroke="#b5173f" stroke-width="0.9" fill="none"/>
<circle cx="345.00" cy="543.00" r="2.2" stroke="#b5173f" stroke-width="0.9" fill="none"/>
<circle cx="356.00" cy="527.60" r="2.2" stroke="#b5173f" stroke-width="0.9" fill="none"/>
<circle cx="356.00" cy="530.50" r="2.2" stroke="#b5173f" stroke-width="0.9" fill="none"/>
<circle cx="356.00" cy="534.00" r="2.2" stroke="#b5173f" stroke-width="0.9" fill="none"/>
<circle cx="356.00" cy="537.70" r="2.2" stroke="#b5173f" stroke-width="0.9" fill="none"/>
<circle cx="368.00" cy="528.00" r="2.2" stroke="#b5173f" stroke-width="0.9" fill="none"/>
<circle cx="368.00" cy="531.70" r="2.2" stroke="#b5173f" stroke-width="0.9" fill="none"/>
<circle cx="368.00" cy="535.30" r="2.2" stroke="#b5173f" stroke-width="0.9" fill="none"/>
<circle cx="368.00" cy="543.70" r="2.2" stroke="#b5173f" stroke-width="0.9" fill="none"/>
<circle cx="380.00" cy="519.00" r="2.2" stroke="#b5173f" stroke-width="0.9" fill="none"/>
<circle cx="380.00" cy="528.00" r="2.2" stroke="#b5173f" stroke-width="0.9" fill="none"/>
<circle cx="380.00" cy="532.90" r="2.2" stroke="#b5173f" stroke-width="0.9" fill="none"/>
<circle cx="380.00" cy="537.70" r="2.2" stroke="#b5173f" stroke-width="0.9" fill="none"/>
<circle cx="380.00" cy="542.00" r="2.2" stroke="#b5173f" stroke-width="0.9" fill="none"/>
<circle cx="380.00" cy="546.80" r="2.2" stroke="#b5173f" stroke-width="0.9" fill="none"/>
<path d="M321.00 573.75 L333.00 566.00 L344.50 541.30 L356.00 531.70 L368.00 533.40 L380.00 529.30" stroke="#b5173f" stroke-width="1.2" fill="none" />
<circle cx="421.00" cy="574.20" r="2.2" stroke="#b5173f" stroke-width="0.9" fill="none"/>
<circle cx="432.70" cy="564.10" r="2.2" stroke="#b5173f" stroke-width="0.9" fill="none"/>
<circle cx="432.30" cy="572.50" r="2.2" stroke="#b5173f" stroke-width="0.9" fill="none"/>
<circle cx="444.30" cy="542.00" r="2.2" stroke="#b5173f" stroke-width="0.9" fill="none"/>
<circle cx="444.80" cy="544.90" r="2.2" stroke="#b5173f" stroke-width="0.9" fill="none"/>
<circle cx="456.30" cy="520.90" r="2.2" stroke="#b5173f" stroke-width="0.9" fill="none"/>
<circle cx="456.30" cy="529.30" r="2.2" stroke="#b5173f" stroke-width="0.9" fill="none"/>
<circle cx="456.30" cy="531.70" r="2.2" stroke="#b5173f" stroke-width="0.9" fill="none"/>
<circle cx="456.30" cy="534.00" r="2.2" stroke="#b5173f" stroke-width="0.9" fill="none"/>
<circle cx="456.30" cy="536.50" r="2.2" stroke="#b5173f" stroke-width="0.9" fill="none"/>
<circle cx="467.80" cy="514.10" r="2.2" stroke="#b5173f" stroke-width="0.9" fill="none"/>
<circle cx="467.80" cy="524.50" r="2.2" stroke="#b5173f" stroke-width="0.9" fill="none"/>
<circle cx="467.80" cy="529.30" r="2.2" stroke="#b5173f" stroke-width="0.9" fill="none"/>
<circle cx="467.80" cy="532.90" r="2.2" stroke="#b5173f" stroke-width="0.9" fill="none"/>
<circle cx="467.80" cy="535.30" r="2.2" stroke="#b5173f" stroke-width="0.9" fill="none"/>
<circle cx="467.80" cy="539.60" r="2.2" stroke="#b5173f" stroke-width="0.9" fill="none"/>
<circle cx="479.10" cy="530.50" r="2.2" stroke="#b5173f" stroke-width="0.9" fill="none"/>
<circle cx="479.10" cy="531.70" r="2.2" stroke="#b5173f" stroke-width="0.9" fill="none"/>
<circle cx="479.10" cy="537.20" r="2.2" stroke="#b5173f" stroke-width="0.9" fill="none"/>
<circle cx="479.10" cy="543.00" r="2.2" stroke="#b5173f" stroke-width="0.9" fill="none"/>
<circle cx="479.10" cy="550.90" r="2.2" stroke="#b5173f" stroke-width="0.9" fill="none"/>
<path d="M421.00 574.20 L432.70 566.00 L444.30 543.00 L456.30 531.00 L467.80 526.90 L479.10 536.50" stroke="#b5173f" stroke-width="1.2" fill="none" />
</g>
<rect x="0.8" y="0.75" width="518.3" height="628.3" fill="none" stroke="#000" stroke-width="1.7"/>
</svg>
</body></html>
